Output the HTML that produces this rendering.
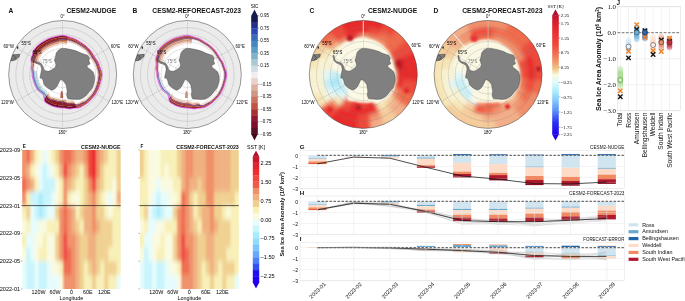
<!DOCTYPE html>
<html><head><meta charset="utf-8"><style>html,body{margin:0;padding:0;background:#fff;width:685px;height:301px;overflow:hidden}svg{display:block;opacity:0.999}</style></head>
<body><svg width="685" height="301" viewBox="0 0 685 301">
<rect width="685" height="301" fill="#fff"/>
<defs>
<clipPath id="clipA"><circle cx="62.65" cy="74.5" r="54.0"/></clipPath>
<clipPath id="clipB"><circle cx="187.3" cy="74.5" r="54.0"/></clipPath>
<clipPath id="clipC"><circle cx="363.3" cy="74.4" r="54.0"/></clipPath>
<clipPath id="clipD"><circle cx="488.1" cy="74.4" r="54.0"/></clipPath>
<filter id="blur1" x="-10%" y="-10%" width="120%" height="120%"><feGaussianBlur stdDeviation="1.2"/></filter>
<filter id="spb" x="-50%" y="-50%" width="200%" height="200%"><feGaussianBlur stdDeviation="1.0"/></filter>
<filter id="blur2" x="-10%" y="-10%" width="120%" height="120%"><feGaussianBlur stdDeviation="2.2"/></filter>
</defs>
<g clip-path="url(#clipA)">
<circle cx="62.65" cy="74.5" r="54.0" fill="#ebebeb"/>
<clipPath id="iceA"><path d="M62.65,35.60 L63.67,35.64 L64.68,35.77 L65.68,35.97 L66.67,36.23 L67.65,36.53 L68.61,36.85 L69.57,37.19 L70.51,37.51 L71.46,37.81 L72.41,38.08 L73.35,38.37 L74.27,38.73 L75.17,39.14 L76.05,39.59 L76.90,40.09 L77.74,40.60 L78.57,41.12 L79.40,41.63 L80.22,42.14 L81.05,42.63 L81.88,43.12 L82.69,43.64 L83.48,44.19 L84.26,44.76 L85.02,45.34 L85.77,45.95 L86.50,46.58 L87.21,47.22 L87.91,47.88 L88.60,48.55 L89.27,49.24 L89.90,49.96 L90.51,50.71 L91.09,51.47 L91.65,52.25 L92.18,53.04 L92.70,53.85 L93.20,54.66 L93.69,55.48 L94.17,56.30 L94.67,57.12 L95.19,57.92 L95.75,58.71 L96.31,59.51 L96.88,60.32 L97.43,61.15 L97.94,62.00 L98.39,62.89 L98.77,63.80 L99.07,64.74 L99.34,65.69 L99.67,66.63 L100.02,67.57 L100.40,68.52 L100.77,69.48 L101.12,70.46 L101.42,71.45 L101.65,72.46 L101.80,73.47 L101.85,74.50 L101.82,75.53 L101.72,76.55 L101.56,77.56 L101.36,78.57 L101.12,79.56 L100.85,80.55 L100.57,81.53 L100.29,82.50 L100.01,83.47 L99.74,84.44 L99.46,85.40 L99.15,86.36 L98.81,87.30 L98.43,88.24 L98.03,89.16 L97.61,90.07 L97.17,90.96 L96.70,91.85 L96.23,92.73 L95.73,93.60 L95.21,94.45 L94.65,95.28 L94.05,96.08 L93.41,96.85 L92.76,97.60 L92.08,98.33 L91.40,99.05 L90.70,99.76 L90.01,100.46 L89.31,101.16 L88.59,101.84 L87.84,102.48 L87.07,103.09 L86.27,103.66 L85.45,104.21 L84.62,104.74 L83.78,105.24 L82.94,105.74 L82.09,106.23 L81.25,106.72 L80.38,107.15 L79.45,107.48 L78.49,107.70 L77.50,107.85 L76.50,107.94 L75.51,108.01 L74.54,108.07 L73.59,108.16 L72.66,108.30 L71.76,108.50 L70.86,108.68 L69.93,108.76 L69.00,108.75 L68.06,108.65 L67.13,108.51 L66.21,108.34 L65.30,108.17 L64.41,108.03 L63.53,107.93 L62.65,107.90 L61.78,107.88 L60.90,107.84 L60.03,107.76 L59.17,107.65 L58.30,107.52 L57.45,107.36 L56.59,107.18 L55.74,106.99 L54.90,106.79 L54.06,106.57 L53.22,106.32 L52.41,106.03 L51.60,105.70 L50.81,105.33 L50.04,104.94 L49.28,104.53 L48.53,104.11 L47.78,103.68 L47.04,103.25 L46.30,102.82 L45.62,102.28 L45.08,101.55 L44.68,100.65 L44.38,99.64 L44.17,98.58 L44.01,97.52 L43.84,96.53 L43.61,95.64 L43.30,94.89 L42.85,94.30 L42.31,93.80 L41.74,93.33 L41.14,92.87 L40.51,92.43 L39.88,91.97 L39.26,91.50 L38.66,90.99 L38.11,90.44 L37.61,89.84 L37.19,89.20 L36.81,88.53 L36.43,87.86 L36.06,87.18 L35.70,86.50 L35.35,85.81 L35.02,85.11 L34.71,84.39 L34.43,83.67 L34.18,82.93 L33.96,82.19 L33.75,81.44 L33.53,80.69 L33.31,79.94 L33.08,79.18 L32.86,78.42 L32.66,77.65 L32.49,76.87 L32.36,76.09 L32.28,75.30 L32.25,74.50 L32.22,73.70 L32.12,72.90 L31.97,72.09 L31.80,71.26 L31.62,70.41 L31.46,69.56 L31.35,68.70 L31.32,67.84 L31.38,66.99 L31.55,66.17 L31.69,65.33 L31.71,64.45 L31.62,63.51 L31.46,62.53 L31.28,61.51 L31.14,60.47 L31.08,59.44 L31.14,58.44 L31.35,57.51 L31.73,56.65 L32.16,55.82 L32.53,54.94 L32.84,54.01 L33.13,53.05 L33.41,52.07 L33.74,51.09 L34.12,50.13 L34.57,49.22 L35.13,48.38 L35.78,47.63 L36.49,46.93 L37.21,46.25 L37.94,45.57 L38.69,44.91 L39.46,44.27 L40.24,43.65 L41.04,43.05 L41.86,42.48 L42.69,41.93 L43.55,41.42 L44.42,40.92 L45.30,40.45 L46.19,39.98 L47.08,39.54 L47.99,39.12 L48.91,38.72 L49.85,38.34 L50.79,38.00 L51.75,37.69 L52.71,37.41 L53.68,37.15 L54.66,36.89 L55.63,36.64 L56.62,36.40 L57.61,36.18 L58.60,35.98 L59.61,35.82 L60.62,35.70 L61.63,35.63 Z"/></clipPath>
<path d="M62.65,35.60 L63.67,35.64 L64.68,35.77 L65.68,35.97 L66.67,36.23 L67.65,36.53 L68.61,36.85 L69.57,37.19 L70.51,37.51 L71.46,37.81 L72.41,38.08 L73.35,38.37 L74.27,38.73 L75.17,39.14 L76.05,39.59 L76.90,40.09 L77.74,40.60 L78.57,41.12 L79.40,41.63 L80.22,42.14 L81.05,42.63 L81.88,43.12 L82.69,43.64 L83.48,44.19 L84.26,44.76 L85.02,45.34 L85.77,45.95 L86.50,46.58 L87.21,47.22 L87.91,47.88 L88.60,48.55 L89.27,49.24 L89.90,49.96 L90.51,50.71 L91.09,51.47 L91.65,52.25 L92.18,53.04 L92.70,53.85 L93.20,54.66 L93.69,55.48 L94.17,56.30 L94.67,57.12 L95.19,57.92 L95.75,58.71 L96.31,59.51 L96.88,60.32 L97.43,61.15 L97.94,62.00 L98.39,62.89 L98.77,63.80 L99.07,64.74 L99.34,65.69 L99.67,66.63 L100.02,67.57 L100.40,68.52 L100.77,69.48 L101.12,70.46 L101.42,71.45 L101.65,72.46 L101.80,73.47 L101.85,74.50 L101.82,75.53 L101.72,76.55 L101.56,77.56 L101.36,78.57 L101.12,79.56 L100.85,80.55 L100.57,81.53 L100.29,82.50 L100.01,83.47 L99.74,84.44 L99.46,85.40 L99.15,86.36 L98.81,87.30 L98.43,88.24 L98.03,89.16 L97.61,90.07 L97.17,90.96 L96.70,91.85 L96.23,92.73 L95.73,93.60 L95.21,94.45 L94.65,95.28 L94.05,96.08 L93.41,96.85 L92.76,97.60 L92.08,98.33 L91.40,99.05 L90.70,99.76 L90.01,100.46 L89.31,101.16 L88.59,101.84 L87.84,102.48 L87.07,103.09 L86.27,103.66 L85.45,104.21 L84.62,104.74 L83.78,105.24 L82.94,105.74 L82.09,106.23 L81.25,106.72 L80.38,107.15 L79.45,107.48 L78.49,107.70 L77.50,107.85 L76.50,107.94 L75.51,108.01 L74.54,108.07 L73.59,108.16 L72.66,108.30 L71.76,108.50 L70.86,108.68 L69.93,108.76 L69.00,108.75 L68.06,108.65 L67.13,108.51 L66.21,108.34 L65.30,108.17 L64.41,108.03 L63.53,107.93 L62.65,107.90 L61.78,107.88 L60.90,107.84 L60.03,107.76 L59.17,107.65 L58.30,107.52 L57.45,107.36 L56.59,107.18 L55.74,106.99 L54.90,106.79 L54.06,106.57 L53.22,106.32 L52.41,106.03 L51.60,105.70 L50.81,105.33 L50.04,104.94 L49.28,104.53 L48.53,104.11 L47.78,103.68 L47.04,103.25 L46.30,102.82 L45.62,102.28 L45.08,101.55 L44.68,100.65 L44.38,99.64 L44.17,98.58 L44.01,97.52 L43.84,96.53 L43.61,95.64 L43.30,94.89 L42.85,94.30 L42.31,93.80 L41.74,93.33 L41.14,92.87 L40.51,92.43 L39.88,91.97 L39.26,91.50 L38.66,90.99 L38.11,90.44 L37.61,89.84 L37.19,89.20 L36.81,88.53 L36.43,87.86 L36.06,87.18 L35.70,86.50 L35.35,85.81 L35.02,85.11 L34.71,84.39 L34.43,83.67 L34.18,82.93 L33.96,82.19 L33.75,81.44 L33.53,80.69 L33.31,79.94 L33.08,79.18 L32.86,78.42 L32.66,77.65 L32.49,76.87 L32.36,76.09 L32.28,75.30 L32.25,74.50 L32.22,73.70 L32.12,72.90 L31.97,72.09 L31.80,71.26 L31.62,70.41 L31.46,69.56 L31.35,68.70 L31.32,67.84 L31.38,66.99 L31.55,66.17 L31.69,65.33 L31.71,64.45 L31.62,63.51 L31.46,62.53 L31.28,61.51 L31.14,60.47 L31.08,59.44 L31.14,58.44 L31.35,57.51 L31.73,56.65 L32.16,55.82 L32.53,54.94 L32.84,54.01 L33.13,53.05 L33.41,52.07 L33.74,51.09 L34.12,50.13 L34.57,49.22 L35.13,48.38 L35.78,47.63 L36.49,46.93 L37.21,46.25 L37.94,45.57 L38.69,44.91 L39.46,44.27 L40.24,43.65 L41.04,43.05 L41.86,42.48 L42.69,41.93 L43.55,41.42 L44.42,40.92 L45.30,40.45 L46.19,39.98 L47.08,39.54 L47.99,39.12 L48.91,38.72 L49.85,38.34 L50.79,38.00 L51.75,37.69 L52.71,37.41 L53.68,37.15 L54.66,36.89 L55.63,36.64 L56.62,36.40 L57.61,36.18 L58.60,35.98 L59.61,35.82 L60.62,35.70 L61.63,35.63 Z" fill="#ffffff"/>
<filter id="bbA" x="-10%" y="-10%" width="120%" height="120%"><feGaussianBlur stdDeviation="0.75"/></filter>
<g clip-path="url(#iceA)"><g filter="url(#bbA)">
<path d="M57.16,34.95 L58.97,34.61 L60.80,34.38 L62.65,34.30 L64.49,34.43 L66.31,34.80 L68.09,35.33 L67.67,38.30 L66.03,37.79 L64.36,37.43 L62.65,37.30 L60.94,37.38 L59.25,37.59 L57.57,37.92 Z" fill="#7a1820"/>
<path d="M57.57,37.92 L59.25,37.59 L60.94,37.38 L62.65,37.30 L64.36,37.43 L66.03,37.79 L67.67,38.30 L67.40,40.28 L65.85,39.78 L64.26,39.43 L62.65,39.30 L61.03,39.37 L59.43,39.59 L57.85,39.90 Z" fill="#98281c"/>
<path d="M57.85,39.90 L59.43,39.59 L61.03,39.37 L62.65,39.30 L64.26,39.43 L65.85,39.78 L67.40,40.28 L67.18,41.86 L65.70,41.37 L64.19,41.02 L62.65,40.90 L61.11,40.97 L59.58,41.18 L58.07,41.49 Z" fill="#c05a30"/>
<path d="M58.07,41.49 L59.58,41.18 L61.11,40.97 L62.65,40.90 L64.19,41.02 L65.70,41.37 L67.18,41.86 L66.96,43.45 L65.56,42.96 L64.12,42.62 L62.65,42.50 L61.18,42.57 L59.73,42.77 L58.29,43.07 Z" fill="#d89070"/>
<path d="M58.29,43.07 L59.73,42.77 L61.18,42.57 L62.65,42.50 L64.12,42.62 L65.56,42.96 L66.96,43.45 L66.74,45.03 L65.41,44.56 L64.04,44.22 L62.65,44.10 L61.26,44.17 L59.87,44.37 L58.51,44.66 Z" fill="#efd0c0"/>
<path d="M67.55,35.15 L69.30,35.74 L71.02,36.32 L72.74,36.83 L74.44,37.40 L76.07,38.15 L77.64,39.02 L76.78,41.05 L75.31,40.21 L73.78,39.49 L72.17,38.95 L70.55,38.47 L68.93,37.90 L67.28,37.34 Z" fill="#9a2a1e"/>
<path d="M67.28,37.34 L68.93,37.90 L70.55,38.47 L72.17,38.95 L73.78,39.49 L75.31,40.21 L76.78,41.05 L76.08,42.71 L74.69,41.90 L73.23,41.21 L71.71,40.69 L70.16,40.23 L68.62,39.68 L67.06,39.12 Z" fill="#b04a2c"/>
<path d="M67.06,39.12 L68.62,39.68 L70.16,40.23 L71.71,40.69 L73.23,41.21 L74.69,41.90 L76.08,42.71 L75.73,43.54 L74.38,42.74 L72.96,42.07 L71.48,41.56 L69.97,41.10 L68.47,40.57 L66.95,40.02 Z" fill="#cc7a58"/>
<path d="M66.95,40.02 L68.47,40.57 L69.97,41.10 L71.48,41.56 L72.96,42.07 L74.38,42.74 L75.73,43.54 L75.38,44.37 L74.06,43.59 L72.69,42.92 L71.24,42.43 L69.78,41.98 L68.32,41.45 L66.83,40.91 Z" fill="#eac2ae"/>
<path d="M77.17,38.75 L78.69,39.67 L80.19,40.60 L81.70,41.50 L83.19,42.42 L84.63,43.41 L86.02,44.48 L84.67,46.21 L83.36,45.21 L82.01,44.27 L80.60,43.41 L79.18,42.56 L77.77,41.67 L76.34,40.79 Z" fill="#9a2a1e"/>
<path d="M76.34,40.79 L77.77,41.67 L79.18,42.56 L80.60,43.41 L82.01,44.27 L83.36,45.21 L84.67,46.21 L83.87,47.24 L82.61,46.27 L81.30,45.37 L79.95,44.54 L78.59,43.71 L77.23,42.85 L75.85,41.99 Z" fill="#b04a2c"/>
<path d="M75.85,41.99 L77.23,42.85 L78.59,43.71 L79.95,44.54 L81.30,45.37 L82.61,46.27 L83.87,47.24 L83.32,47.95 L82.09,47.01 L80.82,46.13 L79.50,45.31 L78.17,44.51 L76.85,43.67 L75.51,42.82 Z" fill="#cc7a58"/>
<path d="M75.51,42.82 L76.85,43.67 L78.17,44.51 L79.50,45.31 L80.82,46.13 L82.09,47.01 L83.32,47.95 L82.77,48.66 L81.57,47.74 L80.33,46.88 L79.05,46.09 L77.76,45.31 L76.48,44.48 L75.17,43.66 Z" fill="#eac2ae"/>
<path d="M85.60,44.15 L86.96,45.26 L88.26,46.42 L89.52,47.63 L90.71,48.91 L91.81,50.26 L92.83,51.68 L91.07,53.00 L90.12,51.67 L89.08,50.39 L87.96,49.19 L86.78,48.04 L85.55,46.95 L84.28,45.90 Z" fill="#9a2a1e"/>
<path d="M84.28,45.90 L85.55,46.95 L86.78,48.04 L87.96,49.19 L89.08,50.39 L90.12,51.67 L91.07,53.00 L90.20,53.67 L89.27,52.37 L88.27,51.13 L87.19,49.96 L86.04,48.86 L84.85,47.79 L83.61,46.78 Z" fill="#b04a2c"/>
<path d="M83.61,46.78 L84.85,47.79 L86.04,48.86 L87.19,49.96 L88.27,51.13 L89.27,52.37 L90.20,53.67 L89.48,54.21 L88.58,52.95 L87.61,51.74 L86.55,50.60 L85.43,49.52 L84.27,48.49 L83.07,47.50 Z" fill="#cc7a58"/>
<path d="M83.07,47.50 L84.27,48.49 L85.43,49.52 L86.55,50.60 L87.61,51.74 L88.58,52.95 L89.48,54.21 L88.76,54.75 L87.89,53.52 L86.94,52.34 L85.91,51.24 L84.83,50.19 L83.70,49.18 L82.53,48.22 Z" fill="#eac2ae"/>
<path d="M92.53,51.24 L93.50,52.69 L94.42,54.16 L95.30,55.65 L96.22,57.13 L97.22,58.58 L98.23,60.05 L96.19,60.88 L95.22,59.50 L94.26,58.14 L93.39,56.75 L92.56,55.34 L91.70,53.96 L90.79,52.59 Z" fill="#9a2a1e"/>
<path d="M90.79,52.59 L91.70,53.96 L92.56,55.34 L93.39,56.75 L94.26,58.14 L95.22,59.50 L96.19,60.88 L95.18,61.29 L94.22,59.96 L93.29,58.64 L92.44,57.30 L91.64,55.94 L90.80,54.59 L89.92,53.27 Z" fill="#b04a2c"/>
<path d="M89.92,53.27 L90.80,54.59 L91.64,55.94 L92.44,57.30 L93.29,58.64 L94.22,59.96 L95.18,61.29 L94.34,61.63 L93.40,60.33 L92.49,59.06 L91.66,57.75 L90.88,56.42 L90.07,55.11 L89.21,53.82 Z" fill="#cc7a58"/>
<path d="M89.21,53.82 L90.07,55.11 L90.88,56.42 L91.66,57.75 L92.49,59.06 L93.40,60.33 L94.34,61.63 L93.51,61.97 L92.58,60.71 L91.69,59.47 L90.88,58.20 L90.12,56.91 L89.33,55.63 L88.50,54.37 Z" fill="#eac2ae"/>
<path d="M97.93,59.60 L98.90,61.11 L99.73,62.72 L100.32,64.41 L100.85,66.12 L101.49,67.84 L102.16,69.58 L99.97,69.85 L99.33,68.21 L98.70,66.59 L98.20,64.98 L97.63,63.38 L96.84,61.88 L95.90,60.45 Z" fill="#9a2a1e"/>
<path d="M95.90,60.45 L96.84,61.88 L97.63,63.38 L98.20,64.98 L98.70,66.59 L99.33,68.21 L99.97,69.85 L98.68,70.01 L98.04,68.43 L97.43,66.87 L96.94,65.31 L96.39,63.78 L95.62,62.33 L94.70,60.96 Z" fill="#b04a2c"/>
<path d="M94.70,60.96 L95.62,62.33 L96.39,63.78 L96.94,65.31 L97.43,66.87 L98.04,68.43 L98.68,70.01 L97.79,70.12 L97.16,68.58 L96.56,67.07 L96.07,65.54 L95.53,64.05 L94.77,62.64 L93.87,61.31 Z" fill="#cc7a58"/>
<path d="M93.87,61.31 L94.77,62.64 L95.53,64.05 L96.07,65.54 L96.56,67.07 L97.16,68.58 L97.79,70.12 L96.90,70.23 L96.27,68.73 L95.68,67.26 L95.20,65.78 L94.67,64.32 L93.93,62.95 L93.05,61.66 Z" fill="#eac2ae"/>
<path d="M101.96,69.05 L102.57,70.82 L103.00,72.64 L103.15,74.50 L103.05,76.36 L102.76,78.20 L102.34,80.01 L100.16,79.70 L100.57,78.00 L100.85,76.26 L100.95,74.50 L100.80,72.75 L100.38,71.02 L99.78,69.35 Z" fill="#9a2a1e"/>
<path d="M99.78,69.35 L100.38,71.02 L100.80,72.75 L100.95,74.50 L100.85,76.26 L100.57,78.00 L100.16,79.70 L98.47,79.47 L98.88,77.84 L99.15,76.18 L99.25,74.50 L99.10,72.82 L98.69,71.18 L98.10,69.58 Z" fill="#b04a2c"/>
<path d="M98.10,69.58 L98.69,71.18 L99.10,72.82 L99.25,74.50 L99.15,76.18 L98.88,77.84 L98.47,79.47 L97.58,79.35 L97.98,77.76 L98.25,76.14 L98.35,74.50 L98.20,72.86 L97.79,71.26 L97.21,69.70 Z" fill="#cc7a58"/>
<path d="M97.21,69.70 L97.79,71.26 L98.20,72.86 L98.35,74.50 L98.25,76.14 L97.98,77.76 L97.58,79.35 L96.69,79.22 L97.08,77.67 L97.35,76.10 L97.45,74.50 L97.30,72.91 L96.89,71.34 L96.31,69.83 Z" fill="#eac2ae"/>
<path d="M102.48,79.46 L102.00,81.25 L101.49,83.02 L101.00,84.78 L100.47,86.52 L99.84,88.23 L99.12,89.91 L97.09,89.05 L97.78,87.47 L98.37,85.86 L98.87,84.21 L99.34,82.54 L99.83,80.88 L100.29,79.19 Z" fill="#9a2a1e"/>
<path d="M100.29,79.19 L99.83,80.88 L99.34,82.54 L98.87,84.21 L98.37,85.86 L97.78,87.47 L97.09,89.05 L95.90,88.54 L96.56,87.02 L97.13,85.46 L97.62,83.87 L98.07,82.27 L98.55,80.66 L99.00,79.03 Z" fill="#b04a2c"/>
<path d="M99.00,79.03 L98.55,80.66 L98.07,82.27 L97.62,83.87 L97.13,85.46 L96.56,87.02 L95.90,88.54 L95.07,88.19 L95.71,86.71 L96.28,85.19 L96.75,83.64 L97.19,82.07 L97.66,80.51 L98.11,78.92 Z" fill="#cc7a58"/>
<path d="M98.11,78.92 L97.66,80.51 L97.19,82.07 L96.75,83.64 L96.28,85.19 L95.71,86.71 L95.07,88.19 L94.24,87.84 L94.87,86.40 L95.42,84.92 L95.88,83.40 L96.31,81.88 L96.77,80.35 L97.22,78.81 Z" fill="#eac2ae"/>
<path d="M99.35,89.40 L98.58,91.05 L97.74,92.66 L96.86,94.25 L95.88,95.78 L94.79,97.23 L93.61,98.60 L91.87,97.25 L92.99,95.96 L94.03,94.59 L94.95,93.15 L95.79,91.65 L96.58,90.13 L97.31,88.57 Z" fill="#9a2a1e"/>
<path d="M97.31,88.57 L96.58,90.13 L95.79,91.65 L94.95,93.15 L94.03,94.59 L92.99,95.96 L91.87,97.25 L91.00,96.57 L92.09,95.32 L93.10,94.00 L94.00,92.60 L94.81,91.15 L95.58,89.67 L96.29,88.16 Z" fill="#b04a2c"/>
<path d="M96.29,88.16 L95.58,89.67 L94.81,91.15 L94.00,92.60 L93.10,94.00 L92.09,95.32 L91.00,96.57 L90.29,96.02 L91.36,94.80 L92.35,93.52 L93.22,92.15 L94.01,90.73 L94.76,89.29 L95.46,87.82 Z" fill="#cc7a58"/>
<path d="M95.46,87.82 L94.76,89.29 L94.01,90.73 L93.22,92.15 L92.35,93.52 L91.36,94.80 L90.29,96.02 L89.58,95.46 L90.62,94.28 L91.59,93.03 L92.44,91.70 L93.21,90.32 L93.94,88.92 L94.62,87.48 Z" fill="#eac2ae"/>
<path d="M93.97,98.19 L92.75,99.52 L91.49,100.81 L90.23,102.08 L88.91,103.29 L87.49,104.39 L86.01,105.39 L84.68,103.64 L86.09,102.69 L87.42,101.66 L88.67,100.52 L89.87,99.32 L91.06,98.11 L92.22,96.86 Z" fill="#9a2a1e"/>
<path d="M92.22,96.86 L91.06,98.11 L89.87,99.32 L88.67,100.52 L87.42,101.66 L86.09,102.69 L84.68,103.64 L84.02,102.76 L85.38,101.85 L86.68,100.85 L87.89,99.74 L89.05,98.58 L90.21,97.41 L91.34,96.20 Z" fill="#b04a2c"/>
<path d="M91.34,96.20 L90.21,97.41 L89.05,98.58 L87.89,99.74 L86.68,100.85 L85.38,101.85 L84.02,102.76 L83.48,102.04 L84.81,101.16 L86.08,100.18 L87.26,99.11 L88.39,97.98 L89.52,96.83 L90.62,95.66 Z" fill="#cc7a58"/>
<path d="M90.62,95.66 L89.52,96.83 L88.39,97.98 L87.26,99.11 L86.08,100.18 L84.81,101.16 L83.48,102.04 L82.94,101.32 L84.23,100.46 L85.47,99.52 L86.62,98.47 L87.72,97.37 L88.83,96.26 L89.90,95.11 Z" fill="#eac2ae"/>
<path d="M86.47,105.09 L84.96,106.05 L83.43,106.95 L81.90,107.84 L80.28,108.56 L78.53,108.97 L76.73,109.17 L75.90,107.13 L77.61,106.97 L79.27,106.61 L80.80,105.94 L82.25,105.10 L83.69,104.25 L85.11,103.36 Z" fill="#9a2a1e"/>
<path d="M85.11,103.36 L83.69,104.25 L82.25,105.10 L80.80,105.94 L79.27,106.61 L77.61,106.97 L75.90,107.13 L75.22,105.46 L76.85,105.34 L78.44,105.01 L79.90,104.38 L81.27,103.59 L82.65,102.78 L84.01,101.94 Z" fill="#b04a2c"/>
<path d="M84.01,101.94 L82.65,102.78 L81.27,103.59 L79.90,104.38 L78.44,105.01 L76.85,105.34 L75.22,105.46 L74.88,104.63 L76.48,104.52 L78.03,104.21 L79.45,103.60 L80.79,102.83 L82.13,102.05 L83.46,101.23 Z" fill="#cc7a58"/>
<path d="M83.46,101.23 L82.13,102.05 L80.79,102.83 L79.45,103.60 L78.03,104.21 L76.48,104.52 L74.88,104.63 L74.54,103.79 L76.10,103.70 L77.61,103.41 L79.00,102.82 L80.30,102.07 L81.61,101.31 L82.90,100.52 Z" fill="#eac2ae"/>
<path d="M77.27,109.12 L75.48,109.26 L73.75,109.43 L72.10,109.76 L70.44,110.02 L68.74,109.99 L67.04,109.75 L66.61,106.28 L68.15,106.54 L69.69,106.60 L71.19,106.38 L72.69,106.09 L74.27,105.97 L75.91,105.90 Z" fill="#6a1020"/>
<path d="M75.91,105.90 L74.27,105.97 L72.69,106.09 L71.19,106.38 L69.69,106.60 L68.15,106.54 L66.61,106.28 L66.30,103.80 L67.72,104.07 L69.15,104.16 L70.54,103.96 L71.93,103.71 L73.41,103.63 L74.94,103.59 Z" fill="#901c1c"/>
<path d="M74.94,103.59 L73.41,103.63 L71.93,103.71 L70.54,103.96 L69.15,104.16 L67.72,104.07 L66.30,103.80 L66.15,102.61 L67.52,102.89 L68.90,102.99 L70.23,102.80 L71.57,102.56 L72.99,102.50 L74.47,102.49 Z" fill="#c05a30"/>
<path d="M74.47,102.49 L72.99,102.50 L71.57,102.56 L70.23,102.80 L68.90,102.99 L67.52,102.89 L66.15,102.61 L65.99,101.32 L67.30,101.61 L68.62,101.72 L69.90,101.55 L71.18,101.33 L72.54,101.28 L73.97,101.29 Z" fill="#e0a888"/>
<path d="M73.97,101.29 L72.54,101.28 L71.18,101.33 L69.90,101.55 L68.62,101.72 L67.30,101.61 L65.99,101.32 L65.85,100.23 L67.11,100.53 L68.38,100.65 L69.61,100.48 L70.84,100.28 L72.16,100.25 L73.54,100.28 Z" fill="#f2dcd0"/>
<path d="M67.55,109.84 L65.88,109.55 L64.25,109.30 L62.65,109.20 L61.06,109.15 L59.47,109.00 L57.90,108.76 L58.38,105.30 L59.79,105.51 L61.22,105.65 L62.65,105.70 L64.09,105.80 L65.56,106.06 L67.07,106.37 Z" fill="#6a1020"/>
<path d="M67.07,106.37 L65.56,106.06 L64.09,105.80 L62.65,105.70 L61.22,105.65 L59.79,105.51 L58.38,105.30 L58.86,101.83 L60.11,102.03 L61.38,102.16 L62.65,102.20 L63.93,102.30 L65.24,102.58 L66.59,102.90 Z" fill="#901c1c"/>
<path d="M66.59,102.90 L65.24,102.58 L63.93,102.30 L62.65,102.20 L61.38,102.16 L60.11,102.03 L58.86,101.83 L59.02,100.64 L60.22,100.83 L61.43,100.96 L62.65,101.00 L63.87,101.11 L65.13,101.38 L66.43,101.71 Z" fill="#c05a30"/>
<path d="M66.43,101.71 L65.13,101.38 L63.87,101.11 L62.65,101.00 L61.43,100.96 L60.22,100.83 L59.02,100.64 L59.20,99.35 L60.34,99.54 L61.49,99.66 L62.65,99.70 L63.81,99.81 L65.01,100.09 L66.25,100.43 Z" fill="#e0a888"/>
<path d="M66.25,100.43 L65.01,100.09 L63.81,99.81 L62.65,99.70 L61.49,99.66 L60.34,99.54 L59.20,99.35 L59.35,98.26 L60.44,98.44 L61.54,98.56 L62.65,98.60 L63.76,98.71 L64.91,98.99 L66.10,99.34 Z" fill="#f2dcd0"/>
<path d="M58.37,108.84 L56.81,108.56 L55.26,108.21 L53.72,107.82 L52.21,107.34 L50.75,106.74 L49.33,106.03 L50.69,102.81 L51.96,103.45 L53.27,104.01 L54.63,104.44 L56.01,104.80 L57.40,105.11 L58.80,105.37 Z" fill="#6a1020"/>
<path d="M58.80,105.37 L57.40,105.11 L56.01,104.80 L54.63,104.44 L53.27,104.01 L51.96,103.45 L50.69,102.81 L52.05,99.58 L53.17,100.17 L54.33,100.67 L55.53,101.06 L56.76,101.38 L57.99,101.66 L59.24,101.90 Z" fill="#901c1c"/>
<path d="M59.24,101.90 L57.99,101.66 L56.76,101.38 L55.53,101.06 L54.33,100.67 L53.17,100.17 L52.05,99.58 L52.52,98.48 L53.59,99.04 L54.69,99.53 L55.84,99.90 L57.01,100.20 L58.19,100.48 L59.39,100.71 Z" fill="#c05a30"/>
<path d="M59.39,100.71 L58.19,100.48 L57.01,100.20 L55.84,99.90 L54.69,99.53 L53.59,99.04 L52.52,98.48 L53.03,97.28 L54.04,97.82 L55.09,98.29 L56.18,98.65 L57.29,98.93 L58.41,99.19 L59.55,99.42 Z" fill="#e0a888"/>
<path d="M59.55,99.42 L58.41,99.19 L57.29,98.93 L56.18,98.65 L55.09,98.29 L54.04,97.82 L53.03,97.28 L53.46,96.27 L54.42,96.79 L55.42,97.24 L56.46,97.59 L57.53,97.86 L58.60,98.11 L59.68,98.32 Z" fill="#f2dcd0"/>
<path d="M49.76,106.25 L48.37,105.51 L47.00,104.73 L45.65,103.94 L44.50,102.84 L43.76,101.21 L43.33,99.32 L45.48,96.56 L45.78,98.35 L46.39,99.89 L47.40,100.91 L48.61,101.62 L49.83,102.33 L51.07,103.01 Z" fill="#6a1020"/>
<path d="M51.07,103.01 L49.83,102.33 L48.61,101.62 L47.40,100.91 L46.39,99.89 L45.78,98.35 L45.48,96.56 L47.01,94.58 L47.23,96.31 L47.74,97.79 L48.65,98.75 L49.76,99.40 L50.88,100.06 L52.01,100.69 Z" fill="#901c1c"/>
<path d="M52.01,100.69 L50.88,100.06 L49.76,99.40 L48.65,98.75 L47.74,97.79 L47.23,96.31 L47.01,94.58 L47.75,93.64 L47.92,95.33 L48.39,96.78 L49.25,97.71 L50.31,98.33 L51.38,98.97 L52.47,99.58 Z" fill="#c05a30"/>
<path d="M52.47,99.58 L51.38,98.97 L50.31,98.33 L49.25,97.71 L48.39,96.78 L47.92,95.33 L47.75,93.64 L48.55,92.61 L48.67,94.27 L49.09,95.68 L49.90,96.58 L50.91,97.18 L51.92,97.79 L52.95,98.38 Z" fill="#e0a888"/>
<path d="M52.95,98.38 L51.92,97.79 L50.91,97.18 L49.90,96.58 L49.09,95.68 L48.67,94.27 L48.55,92.61 L49.23,91.74 L49.31,93.37 L49.68,94.75 L50.45,95.63 L51.42,96.20 L52.38,96.79 L53.37,97.36 Z" fill="#f2dcd0"/>
<path d="M43.44,99.90 L43.10,98.02 L42.67,96.41 L41.93,95.22 L40.93,94.31 L39.82,93.47 L38.68,92.63 L40.83,91.00 L41.90,91.75 L42.92,92.49 L43.84,93.31 L44.49,94.41 L44.82,95.95 L45.07,97.75 Z" fill="#7fb4c8"/>
<path d="M45.07,97.75 L44.82,95.95 L44.49,94.41 L43.84,93.31 L42.92,92.49 L41.90,91.75 L40.83,91.00 L42.26,89.92 L43.28,90.60 L44.25,91.28 L45.11,92.04 L45.70,93.08 L45.97,94.56 L46.15,96.31 Z" fill="#a2cad6"/>
<path d="M46.15,96.31 L45.97,94.56 L45.70,93.08 L45.11,92.04 L44.25,91.28 L43.28,90.60 L42.26,89.92 L43.86,88.71 L44.82,89.32 L45.73,89.93 L46.53,90.62 L47.05,91.60 L47.25,93.03 L47.36,94.72 Z" fill="#cbe0e6"/>
<path d="M39.02,92.89 L37.90,92.00 L36.88,91.00 L36.06,89.85 L35.37,88.62 L34.69,87.38 L34.05,86.11 L36.56,85.10 L37.14,86.25 L37.76,87.38 L38.40,88.50 L39.16,89.54 L40.10,90.44 L41.15,91.23 Z" fill="#7fb4c8"/>
<path d="M41.15,91.23 L40.10,90.44 L39.16,89.54 L38.40,88.50 L37.76,87.38 L37.14,86.25 L36.56,85.10 L38.22,84.42 L38.78,85.50 L39.36,86.55 L39.96,87.60 L40.67,88.57 L41.57,89.41 L42.57,90.13 Z" fill="#a2cad6"/>
<path d="M42.57,90.13 L41.57,89.41 L40.67,88.57 L39.96,87.60 L39.36,86.55 L38.78,85.50 L38.22,84.42 L40.08,83.67 L40.60,84.66 L41.14,85.63 L41.69,86.60 L42.36,87.49 L43.21,88.25 L44.15,88.90 Z" fill="#cbe0e6"/>
<path d="M34.24,86.50 L33.65,85.21 L33.13,83.88 L32.71,82.52 L32.32,81.15 L31.91,79.77 L31.51,78.38 L34.19,78.04 L34.57,79.32 L34.96,80.57 L35.31,81.82 L35.70,83.07 L36.18,84.27 L36.73,85.45 Z" fill="#7fb4c8"/>
<path d="M36.73,85.45 L36.18,84.27 L35.70,83.07 L35.31,81.82 L34.96,80.57 L34.57,79.32 L34.19,78.04 L35.98,77.82 L36.34,79.01 L36.71,80.19 L37.05,81.36 L37.42,82.52 L37.87,83.65 L38.39,84.75 Z" fill="#a2cad6"/>
<path d="M38.39,84.75 L37.87,83.65 L37.42,82.52 L37.05,81.36 L36.71,80.19 L36.34,79.01 L35.98,77.82 L37.96,77.58 L38.31,78.67 L38.67,79.76 L38.98,80.84 L39.32,81.91 L39.74,82.96 L40.23,83.97 Z" fill="#cbe0e6"/>
<path d="M31.63,78.80 L31.28,77.39 L31.04,75.95 L30.95,74.50 L30.85,73.04 L30.59,71.54 L30.28,70.01 L32.96,70.38 L33.28,71.79 L33.55,73.16 L33.65,74.50 L33.73,75.83 L33.96,77.14 L34.30,78.43 Z" fill="#7fb4c8"/>
<path d="M34.30,78.43 L33.96,77.14 L33.73,75.83 L33.65,74.50 L33.55,73.16 L33.28,71.79 L32.96,70.38 L34.74,70.63 L35.07,71.96 L35.35,73.24 L35.45,74.50 L35.53,75.75 L35.76,76.98 L36.08,78.19 Z" fill="#a2cad6"/>
<path d="M36.08,78.19 L35.76,76.98 L35.53,75.75 L35.45,74.50 L35.35,73.24 L35.07,71.96 L34.74,70.63 L36.72,70.90 L37.06,72.14 L37.34,73.34 L37.45,74.50 L37.53,75.66 L37.75,76.80 L38.06,77.91 Z" fill="#cbe0e6"/>
<path d="M30.37,70.48 L30.12,68.92 L30.06,67.35 L30.29,65.83 L30.48,64.27 L30.32,62.56 L30.04,60.73 L32.35,61.70 L32.67,63.43 L32.86,65.03 L32.71,66.48 L32.50,67.89 L32.58,69.34 L32.86,70.79 Z" fill="#c87362"/>
<path d="M32.86,70.79 L32.58,69.34 L32.50,67.89 L32.71,66.48 L32.86,65.03 L32.67,63.43 L32.35,61.70 L33.27,62.09 L33.61,63.78 L33.81,65.33 L33.67,66.74 L33.48,68.10 L33.57,69.51 L33.85,70.91 Z" fill="#dcb0a2"/>
<path d="M33.85,70.91 L33.57,69.51 L33.48,68.10 L33.67,66.74 L33.81,65.33 L33.61,63.78 L33.27,62.09 L34.19,62.48 L34.54,64.12 L34.77,65.64 L34.64,66.99 L34.45,68.32 L34.55,69.68 L34.84,71.04 Z" fill="#ecd6ce"/>
<path d="M30.13,61.29 L29.92,59.42 L30.02,57.61 L30.61,56.00 L31.35,54.46 L31.92,52.77 L32.47,51.01 L34.84,52.85 L34.37,54.50 L33.87,56.07 L33.21,57.50 L32.69,58.99 L32.64,60.68 L32.91,62.42 Z" fill="#7a1820"/>
<path d="M32.91,62.42 L32.64,60.68 L32.69,58.99 L33.21,57.50 L33.87,56.07 L34.37,54.50 L34.84,52.85 L36.02,53.77 L35.60,55.37 L35.14,56.88 L34.50,58.25 L34.02,59.68 L34.00,61.30 L34.29,62.99 Z" fill="#98281c"/>
<path d="M34.29,62.99 L34.00,61.30 L34.02,59.68 L34.50,58.25 L35.14,56.88 L35.60,55.37 L36.02,53.77 L37.28,54.75 L36.91,56.29 L36.48,57.74 L35.89,59.05 L35.44,60.42 L35.46,61.97 L35.78,63.59 Z" fill="#c05a30"/>
<path d="M35.78,63.59 L35.46,61.97 L35.44,60.42 L35.89,59.05 L36.48,57.74 L36.91,56.29 L37.28,54.75 L38.55,55.74 L38.21,57.22 L37.83,58.61 L37.28,59.85 L36.86,61.15 L36.91,62.64 L37.26,64.19 Z" fill="#d89070"/>
<path d="M37.26,64.19 L36.91,62.64 L36.86,61.15 L37.28,59.85 L37.83,58.61 L38.21,57.22 L38.55,55.74 L39.81,56.72 L39.52,58.14 L39.18,59.47 L38.66,60.65 L38.28,61.89 L38.36,63.31 L38.74,64.79 Z" fill="#efd0c0"/>
<path d="M32.30,51.55 L32.91,49.78 L33.74,48.13 L34.86,46.71 L36.16,45.45 L37.49,44.23 L38.88,43.07 L40.69,45.46 L39.41,46.54 L38.18,47.67 L36.98,48.83 L35.96,50.15 L35.22,51.70 L34.69,53.36 Z" fill="#7a1820"/>
<path d="M34.69,53.36 L35.22,51.70 L35.96,50.15 L36.98,48.83 L38.18,47.67 L39.41,46.54 L40.69,45.46 L42.20,47.46 L41.01,48.46 L39.86,49.52 L38.75,50.60 L37.80,51.84 L37.14,53.30 L36.69,54.86 Z" fill="#98281c"/>
<path d="M36.69,54.86 L37.14,53.30 L37.80,51.84 L38.75,50.60 L39.86,49.52 L41.01,48.46 L42.20,47.46 L43.16,48.73 L42.03,49.70 L40.94,50.70 L39.88,51.73 L38.99,52.92 L38.37,54.32 L37.96,55.83 Z" fill="#c05a30"/>
<path d="M37.96,55.83 L38.37,54.32 L38.99,52.92 L39.88,51.73 L40.94,50.70 L42.03,49.70 L43.16,48.73 L44.13,50.01 L43.05,50.93 L42.02,51.88 L41.01,52.86 L40.17,53.99 L39.60,55.34 L39.24,56.79 Z" fill="#d89070"/>
<path d="M39.24,56.79 L39.60,55.34 L40.17,53.99 L41.01,52.86 L42.02,51.88 L43.05,50.93 L44.13,50.01 L45.09,51.28 L44.08,52.16 L43.10,53.06 L42.14,53.99 L41.35,55.07 L40.83,56.37 L40.51,57.76 Z" fill="#efd0c0"/>
<path d="M38.45,43.42 L39.88,42.29 L41.36,41.25 L42.90,40.29 L44.49,39.41 L46.10,38.57 L47.75,37.80 L48.88,40.58 L47.36,41.30 L45.86,42.07 L44.40,42.89 L42.97,43.77 L41.61,44.74 L40.30,45.78 Z" fill="#7a1820"/>
<path d="M40.30,45.78 L41.61,44.74 L42.97,43.77 L44.40,42.89 L45.86,42.07 L47.36,41.30 L48.88,40.58 L49.82,42.90 L48.40,43.57 L47.01,44.29 L45.65,45.06 L44.32,45.88 L43.05,46.78 L41.83,47.76 Z" fill="#98281c"/>
<path d="M41.83,47.76 L43.05,46.78 L44.32,45.88 L45.65,45.06 L47.01,44.29 L48.40,43.57 L49.82,42.90 L50.42,44.38 L49.07,45.02 L47.75,45.71 L46.45,46.44 L45.19,47.23 L43.97,48.09 L42.81,49.02 Z" fill="#c05a30"/>
<path d="M42.81,49.02 L43.97,48.09 L45.19,47.23 L46.45,46.44 L47.75,45.71 L49.07,45.02 L50.42,44.38 L51.02,45.86 L49.74,46.48 L48.48,47.13 L47.25,47.83 L46.05,48.57 L44.90,49.40 L43.80,50.28 Z" fill="#d89070"/>
<path d="M43.80,50.28 L44.90,49.40 L46.05,48.57 L47.25,47.83 L48.48,47.13 L49.74,46.48 L51.02,45.86 L51.62,47.34 L50.41,47.93 L49.22,48.55 L48.05,49.21 L46.91,49.92 L45.82,50.70 L44.78,51.54 Z" fill="#efd0c0"/>
<path d="M47.24,38.03 L48.92,37.31 L50.63,36.68 L52.37,36.15 L54.14,35.68 L55.91,35.24 L57.71,34.84 L58.08,37.81 L56.42,38.19 L54.78,38.62 L53.15,39.05 L51.54,39.54 L49.96,40.12 L48.41,40.79 Z" fill="#7a1820"/>
<path d="M48.41,40.79 L49.96,40.12 L51.54,39.54 L53.15,39.05 L54.78,38.62 L56.42,38.19 L58.08,37.81 L58.39,40.29 L56.84,40.66 L55.32,41.06 L53.80,41.47 L52.29,41.92 L50.82,42.47 L49.38,43.10 Z" fill="#98281c"/>
<path d="M49.38,43.10 L50.82,42.47 L52.29,41.92 L53.80,41.47 L55.32,41.06 L56.84,40.66 L58.39,40.29 L58.59,41.88 L57.12,42.23 L55.66,42.62 L54.21,43.01 L52.78,43.45 L51.38,43.97 L50.01,44.57 Z" fill="#c05a30"/>
<path d="M50.01,44.57 L51.38,43.97 L52.78,43.45 L54.21,43.01 L55.66,42.62 L57.12,42.23 L58.59,41.88 L58.78,43.47 L57.39,43.81 L56.00,44.18 L54.63,44.56 L53.26,44.97 L51.93,45.47 L50.63,46.04 Z" fill="#d89070"/>
<path d="M50.63,46.04 L51.93,45.47 L53.26,44.97 L54.63,44.56 L56.00,44.18 L57.39,43.81 L58.78,43.47 L58.98,45.06 L57.66,45.39 L56.35,45.75 L55.04,46.10 L53.75,46.50 L52.49,46.97 L51.25,47.52 Z" fill="#efd0c0"/>
<path d="M60.25,98.00 L60.75,92.00 L61.85,90.70 L62.85,92.00 L63.25,98.00 Z" fill="#a8382a" opacity="0.8"/>
</g></g>
<circle cx="62.65" cy="74.5" r="46.78" fill="none" stroke="#808080" stroke-width="0.4" stroke-dasharray="1.0,0.5" opacity="0.85"/>
<circle cx="62.65" cy="74.5" r="39.75" fill="none" stroke="#808080" stroke-width="0.4" stroke-dasharray="1.0,0.5" opacity="0.85"/>
<circle cx="62.65" cy="74.5" r="32.89" fill="none" stroke="#808080" stroke-width="0.4" stroke-dasharray="1.0,0.5" opacity="0.85"/>
<circle cx="62.65" cy="74.5" r="26.16" fill="none" stroke="#808080" stroke-width="0.4" stroke-dasharray="1.0,0.5" opacity="0.85"/>
<circle cx="62.65" cy="74.5" r="19.53" fill="none" stroke="#808080" stroke-width="0.4" stroke-dasharray="1.0,0.5" opacity="0.85"/>
<circle cx="62.65" cy="74.5" r="12.98" fill="none" stroke="#808080" stroke-width="0.4" stroke-dasharray="1.0,0.5" opacity="0.85"/>
<circle cx="62.65" cy="74.5" r="6.48" fill="none" stroke="#808080" stroke-width="0.4" stroke-dasharray="1.0,0.5" opacity="0.85"/>
<line x1="62.65" y1="74.5" x2="62.65" y2="20.50" stroke="#808080" stroke-width="0.45" stroke-dasharray="1.3,0.9" opacity="0.85"/>
<line x1="62.65" y1="74.5" x2="109.42" y2="47.50" stroke="#808080" stroke-width="0.45" stroke-dasharray="1.3,0.9" opacity="0.85"/>
<line x1="62.65" y1="74.5" x2="109.42" y2="101.50" stroke="#808080" stroke-width="0.45" stroke-dasharray="1.3,0.9" opacity="0.85"/>
<line x1="62.65" y1="74.5" x2="62.65" y2="128.50" stroke="#808080" stroke-width="0.45" stroke-dasharray="1.3,0.9" opacity="0.85"/>
<line x1="62.65" y1="74.5" x2="15.88" y2="101.50" stroke="#808080" stroke-width="0.45" stroke-dasharray="1.3,0.9" opacity="0.85"/>
<line x1="62.65" y1="74.5" x2="15.88" y2="47.50" stroke="#808080" stroke-width="0.45" stroke-dasharray="1.3,0.9" opacity="0.85"/>
<path d="M56.45,52.70 L58.05,50.60 L61.25,48.50 L65.65,48.50 L67.75,49.00 L70.95,49.50 L75.15,50.60 L78.35,51.70 L81.55,53.30 L84.75,54.30 L87.95,55.40 L89.55,58.10 L88.95,60.70 L90.05,63.90 L86.85,65.50 L87.35,67.60 L90.05,69.20 L93.15,71.90 L94.55,76.40 L94.55,80.60 L93.75,84.10 L92.35,88.10 L90.05,90.70 L87.95,93.40 L85.75,96.00 L83.65,97.60 L80.45,99.20 L76.25,99.50 L71.95,99.20 L67.75,98.70 L66.65,95.50 L67.15,91.20 L66.65,88.10 L66.15,84.90 L64.55,82.70 L62.75,80.30 L60.15,79.50 L58.95,82.50 L57.55,85.30 L56.15,87.50 L54.35,89.30 L51.65,90.20 L47.95,88.30 L45.25,86.10 L43.65,83.80 L43.45,82.10 L42.95,80.60 L42.15,78.60 L39.95,77.90 L40.35,75.60 L40.95,72.70 L41.55,69.70 L40.95,66.10 L38.55,64.10 L35.35,62.90 L33.35,60.70 L32.55,57.90 L32.55,55.30 L33.45,55.50 L34.05,59.30 L35.75,61.50 L38.55,62.30 L41.25,63.50 L43.05,66.40 L43.75,69.30 L45.95,70.90 L48.35,71.30 L50.85,70.60 L53.35,68.70 L55.35,66.90 L55.95,64.50 L55.25,62.30 L54.25,60.30 L55.45,57.30 L56.05,53.70 Z" fill="#808080" stroke="#303030" stroke-width="0.35"/>
<path d="M10.25,60.90 L12.85,54.80 L16.65,54.50 L19.65,54.30 L19.25,56.60 L16.05,59.50 L13.65,60.50 Z" fill="#7c7c7c" stroke="#222" stroke-width="0.45"/>
<path d="M13.15,55.10 L15.85,57.50 L13.85,59.90" fill="none" stroke="#333" stroke-width="0.5"/>
<path d="M62.65,39.30 L63.57,39.32 L64.49,39.37 L65.41,39.45 L66.32,39.56 L67.23,39.70 L68.14,39.86 L69.04,40.05 L69.93,40.25 L70.82,40.46 L71.71,40.69 L72.59,40.95 L73.45,41.25 L74.31,41.59 L75.14,41.95 L75.97,42.35 L76.78,42.77 L77.58,43.20 L78.38,43.64 L79.16,44.08 L79.95,44.54 L80.73,45.00 L81.50,45.47 L82.26,45.97 L83.01,46.48 L83.74,47.01 L84.47,47.56 L85.17,48.13 L85.86,48.72 L86.53,49.33 L87.19,49.96 L87.82,50.62 L88.42,51.30 L88.99,52.00 L89.54,52.73 L90.06,53.47 L90.56,54.22 L91.05,54.98 L91.52,55.75 L91.99,56.52 L92.44,57.30 L92.90,58.07 L93.39,58.84 L93.90,59.59 L94.42,60.35 L94.94,61.13 L95.44,61.91 L95.90,62.73 L96.31,63.56 L96.66,64.43 L96.94,65.31 L97.20,66.21 L97.48,67.10 L97.78,67.99 L98.09,68.89 L98.39,69.79 L98.67,70.71 L98.91,71.65 L99.09,72.59 L99.21,73.54 L99.25,74.50 L99.23,75.46 L99.16,76.41 L99.05,77.37 L98.91,78.31 L98.74,79.25 L98.54,80.18 L98.32,81.11 L98.10,82.03 L97.86,82.95 L97.62,83.87 L97.36,84.78 L97.08,85.69 L96.77,86.58 L96.45,87.47 L96.09,88.35 L95.72,89.22 L95.32,90.08 L94.90,90.93 L94.46,91.77 L94.00,92.60 L93.51,93.41 L92.97,94.19 L92.40,94.95 L91.80,95.68 L91.17,96.38 L90.53,97.08 L89.87,97.75 L89.22,98.42 L88.55,99.08 L87.89,99.74 L87.20,100.37 L86.46,100.95 L85.67,101.46 L84.86,101.92 L84.02,102.35 L83.17,102.75 L82.33,103.14 L81.50,103.53 L80.69,103.94 L79.90,104.38 L79.07,104.73 L78.14,104.90 L77.15,104.90 L76.12,104.75 L75.09,104.53 L74.08,104.26 L73.11,104.03 L72.19,103.87 L71.34,103.84 L70.54,103.96 L69.75,104.09 L68.94,104.07 L68.10,103.92 L67.27,103.67 L66.45,103.35 L65.65,103.01 L64.87,102.69 L64.11,102.43 L63.38,102.26 L62.65,102.20 L61.93,102.19 L61.20,102.14 L60.48,102.07 L59.76,101.98 L59.05,101.86 L58.34,101.73 L57.63,101.58 L56.93,101.42 L56.23,101.24 L55.53,101.06 L54.84,100.88 L54.14,100.70 L53.44,100.52 L52.73,100.33 L52.03,100.14 L51.33,99.92 L50.64,99.68 L49.96,99.41 L49.30,99.10 L48.65,98.75 L48.04,98.34 L47.47,97.87 L46.95,97.34 L46.48,96.76 L46.03,96.16 L45.61,95.55 L45.19,94.95 L44.76,94.37 L44.32,93.82 L43.84,93.31 L43.33,92.84 L42.77,92.40 L42.17,91.99 L41.55,91.59 L40.91,91.18 L40.28,90.75 L39.68,90.29 L39.13,89.78 L38.64,89.21 L38.23,88.60 L37.86,87.96 L37.50,87.32 L37.14,86.67 L36.79,86.01 L36.46,85.35 L36.14,84.68 L35.84,83.99 L35.57,83.30 L35.33,82.59 L35.12,81.88 L34.92,81.16 L34.71,80.44 L34.49,79.72 L34.26,79.00 L34.05,78.27 L33.85,77.53 L33.68,76.78 L33.56,76.02 L33.48,75.26 L33.45,74.50 L33.43,73.73 L33.37,72.97 L33.27,72.19 L33.16,71.40 L33.06,70.60 L32.97,69.80 L32.92,68.99 L32.94,68.18 L33.02,67.39 L33.19,66.61 L33.36,65.82 L33.46,65.02 L33.51,64.18 L33.53,63.32 L33.55,62.45 L33.59,61.56 L33.69,60.69 L33.86,59.83 L34.13,59.02 L34.50,58.25 L34.91,57.50 L35.29,56.73 L35.65,55.94 L35.99,55.13 L36.35,54.32 L36.73,53.51 L37.15,52.72 L37.62,51.97 L38.16,51.26 L38.75,50.60 L39.38,49.98 L40.02,49.37 L40.67,48.77 L41.34,48.18 L42.01,47.61 L42.71,47.05 L43.42,46.51 L44.14,46.00 L44.89,45.51 L45.65,45.06 L46.42,44.62 L47.21,44.19 L47.99,43.77 L48.79,43.38 L49.60,43.00 L50.42,42.64 L51.25,42.30 L52.09,41.99 L52.94,41.71 L53.80,41.47 L54.66,41.22 L55.52,40.95 L56.38,40.67 L57.25,40.38 L58.12,40.10 L59.01,39.84 L59.90,39.61 L60.81,39.44 L61.73,39.34 Z" fill="none" stroke="#3a1f9a" stroke-width="0.6"/>
<path d="M62.65,35.50 L63.67,35.54 L64.69,35.67 L65.69,35.87 L66.68,36.13 L67.66,36.43 L68.63,36.76 L69.58,37.09 L70.53,37.41 L71.48,37.72 L72.43,37.99 L73.38,38.28 L74.30,38.63 L75.21,39.04 L76.08,39.50 L76.94,39.99 L77.79,40.51 L78.62,41.03 L79.44,41.55 L80.27,42.05 L81.10,42.54 L81.93,43.04 L82.74,43.56 L83.54,44.11 L84.32,44.68 L85.08,45.26 L85.83,45.87 L86.56,46.50 L87.28,47.15 L87.98,47.80 L88.67,48.48 L89.34,49.17 L89.98,49.90 L90.59,50.64 L91.17,51.41 L91.73,52.19 L92.26,52.98 L92.78,53.79 L93.29,54.61 L93.78,55.42 L94.26,56.25 L94.75,57.07 L95.28,57.87 L95.84,58.67 L96.40,59.47 L96.97,60.28 L97.52,61.11 L98.03,61.97 L98.48,62.86 L98.86,63.77 L99.16,64.72 L99.44,65.67 L99.76,66.61 L100.12,67.56 L100.50,68.51 L100.87,69.47 L101.22,70.45 L101.52,71.44 L101.75,72.45 L101.90,73.47 L101.95,74.50 L101.92,75.53 L101.82,76.55 L101.66,77.57 L101.46,78.58 L101.22,79.58 L100.95,80.57 L100.67,81.55 L100.38,82.52 L100.11,83.49 L99.84,84.46 L99.56,85.43 L99.25,86.39 L98.90,87.34 L98.53,88.27 L98.13,89.20 L97.70,90.11 L97.26,91.01 L96.79,91.90 L96.31,92.78 L95.82,93.65 L95.30,94.51 L94.73,95.33 L94.13,96.13 L93.50,96.91 L92.84,97.66 L92.16,98.40 L91.47,99.12 L90.78,99.83 L90.08,100.53 L89.38,101.23 L88.66,101.91 L87.91,102.56 L87.13,103.16 L86.33,103.74 L85.51,104.29 L84.68,104.82 L83.84,105.32 L82.99,105.82 L82.15,106.31 L81.30,106.80 L80.42,107.24 L79.50,107.56 L78.53,107.79 L77.54,107.94 L76.54,108.04 L75.55,108.10 L74.57,108.16 L73.62,108.25 L72.69,108.39 L71.79,108.60 L70.88,108.78 L69.95,108.86 L69.02,108.84 L68.07,108.75 L67.14,108.61 L66.22,108.43 L65.31,108.27 L64.41,108.13 L63.53,108.03 L62.65,108.00 L61.77,107.98 L60.90,107.94 L60.02,107.86 L59.16,107.75 L58.29,107.61 L57.43,107.46 L56.57,107.28 L55.72,107.09 L54.88,106.88 L54.03,106.67 L53.20,106.42 L52.37,106.12 L51.57,105.79 L50.78,105.43 L50.00,105.03 L49.24,104.62 L48.48,104.20 L47.74,103.77 L46.99,103.34 L46.25,102.91 L45.57,102.37 L45.03,101.63 L44.62,100.73 L44.33,99.72 L44.11,98.66 L43.94,97.60 L43.77,96.60 L43.55,95.72 L43.23,94.97 L42.78,94.37 L42.24,93.87 L41.67,93.39 L41.06,92.94 L40.44,92.49 L39.80,92.03 L39.18,91.56 L38.58,91.05 L38.02,90.49 L37.53,89.90 L37.10,89.25 L36.72,88.58 L36.34,87.91 L35.97,87.23 L35.61,86.54 L35.26,85.85 L34.93,85.14 L34.62,84.43 L34.34,83.70 L34.08,82.96 L33.87,82.21 L33.66,81.46 L33.44,80.71 L33.21,79.96 L32.98,79.20 L32.76,78.44 L32.56,77.66 L32.39,76.88 L32.26,76.09 L32.18,75.30 L32.15,74.50 L32.12,73.70 L32.02,72.89 L31.87,72.08 L31.70,71.25 L31.52,70.40 L31.36,69.54 L31.26,68.68 L31.22,67.82 L31.29,66.97 L31.45,66.14 L31.60,65.30 L31.61,64.42 L31.52,63.48 L31.37,62.49 L31.19,61.47 L31.05,60.43 L30.99,59.40 L31.05,58.40 L31.26,57.46 L31.65,56.60 L32.08,55.77 L32.44,54.88 L32.76,53.95 L33.04,52.99 L33.34,52.01 L33.66,51.02 L34.04,50.06 L34.50,49.15 L35.05,48.31 L35.71,47.56 L36.42,46.86 L37.14,46.17 L37.88,45.50 L38.63,44.84 L39.40,44.19 L40.18,43.57 L40.98,42.97 L41.80,42.39 L42.64,41.85 L43.50,41.33 L44.37,40.84 L45.25,40.36 L46.14,39.89 L47.04,39.45 L47.95,39.02 L48.88,38.62 L49.81,38.25 L50.76,37.90 L51.72,37.59 L52.69,37.31 L53.66,37.05 L54.64,36.79 L55.62,36.54 L56.60,36.30 L57.59,36.08 L58.59,35.89 L59.60,35.72 L60.61,35.60 L61.63,35.53 Z" fill="none" stroke="#f040f0" stroke-width="0.8"/>
</g>
<circle cx="62.65" cy="74.5" r="54.0" fill="none" stroke="#4a4a4a" stroke-width="0.55"/>
<ellipse cx="17.6" cy="47.6" rx="0.75" ry="1.3" fill="#333"/>
<text x="62.65" y="17.90" font-size="4.9" font-family="Liberation Sans, sans-serif" text-anchor="middle" textLength="4.06" lengthAdjust="spacingAndGlyphs" fill="#000">0°</text>
<text x="62.65" y="134.40" font-size="4.9" font-family="Liberation Sans, sans-serif" text-anchor="middle" textLength="8.79" lengthAdjust="spacingAndGlyphs" fill="#000">180°</text>
<text x="110.85" y="47.50" font-size="4.9" font-family="Liberation Sans, sans-serif" textLength="9.26" lengthAdjust="spacingAndGlyphs" fill="#000">60°E</text>
<text x="111.55" y="104.10" font-size="4.9" font-family="Liberation Sans, sans-serif" textLength="11.63" lengthAdjust="spacingAndGlyphs" fill="#000">120°E</text>
<text x="13.95" y="48.30" font-size="4.9" font-family="Liberation Sans, sans-serif" text-anchor="end" textLength="10.44" lengthAdjust="spacingAndGlyphs" fill="#000">60°W</text>
<text x="13.75" y="104.10" font-size="4.9" font-family="Liberation Sans, sans-serif" text-anchor="end" textLength="12.80" lengthAdjust="spacingAndGlyphs" fill="#000">120°W</text>
<text x="26.25" y="45.00" font-size="4.9" font-family="Liberation Sans, sans-serif" text-anchor="middle" textLength="9.26" lengthAdjust="spacingAndGlyphs" fill="#000">55°S</text>
<text x="37.05" y="54.30" font-size="4.9" font-family="Liberation Sans, sans-serif" text-anchor="middle" textLength="9.26" lengthAdjust="spacingAndGlyphs" fill="#000">65°S</text>
<text x="47.25" y="62.70" font-size="4.9" font-family="Liberation Sans, sans-serif" text-anchor="middle" textLength="9.26" lengthAdjust="spacingAndGlyphs" fill="#777">75°S</text>
<g clip-path="url(#clipB)">
<circle cx="187.3" cy="74.5" r="54.0" fill="#ebebeb"/>
<clipPath id="iceB"><path d="M187.30,35.60 L188.32,35.64 L189.33,35.77 L190.33,35.97 L191.32,36.23 L192.30,36.53 L193.26,36.85 L194.22,37.19 L195.16,37.51 L196.11,37.81 L197.06,38.08 L198.00,38.37 L198.92,38.73 L199.82,39.14 L200.70,39.59 L201.55,40.09 L202.39,40.60 L203.22,41.12 L204.05,41.63 L204.87,42.14 L205.70,42.63 L206.53,43.12 L207.34,43.64 L208.13,44.19 L208.91,44.76 L209.67,45.34 L210.42,45.95 L211.15,46.58 L211.86,47.22 L212.56,47.88 L213.25,48.55 L213.92,49.24 L214.55,49.96 L215.16,50.71 L215.74,51.47 L216.30,52.25 L216.83,53.04 L217.35,53.85 L217.85,54.66 L218.34,55.48 L218.82,56.30 L219.32,57.12 L219.84,57.92 L220.40,58.71 L220.96,59.51 L221.53,60.32 L222.08,61.15 L222.59,62.00 L223.04,62.89 L223.42,63.80 L223.72,64.74 L223.99,65.69 L224.32,66.63 L224.67,67.57 L225.05,68.52 L225.42,69.48 L225.77,70.46 L226.07,71.45 L226.30,72.46 L226.45,73.47 L226.50,74.50 L226.47,75.53 L226.37,76.55 L226.21,77.56 L226.01,78.57 L225.77,79.56 L225.50,80.55 L225.22,81.53 L224.94,82.50 L224.66,83.47 L224.39,84.44 L224.11,85.40 L223.80,86.36 L223.46,87.30 L223.08,88.24 L222.68,89.16 L222.26,90.07 L221.82,90.96 L221.35,91.85 L220.88,92.73 L220.38,93.60 L219.86,94.45 L219.30,95.28 L218.70,96.08 L218.06,96.85 L217.41,97.60 L216.73,98.33 L216.05,99.05 L215.35,99.76 L214.66,100.46 L213.96,101.16 L213.24,101.84 L212.49,102.48 L211.72,103.09 L210.92,103.66 L210.10,104.21 L209.27,104.74 L208.43,105.24 L207.59,105.74 L206.74,106.23 L205.90,106.72 L205.03,107.15 L204.10,107.48 L203.14,107.70 L202.15,107.85 L201.15,107.94 L200.16,108.01 L199.19,108.07 L198.24,108.16 L197.31,108.30 L196.41,108.50 L195.51,108.68 L194.58,108.76 L193.65,108.75 L192.71,108.65 L191.78,108.51 L190.86,108.34 L189.95,108.17 L189.06,108.03 L188.18,107.93 L187.30,107.90 L186.43,107.88 L185.55,107.84 L184.68,107.76 L183.82,107.65 L182.95,107.52 L182.10,107.36 L181.24,107.18 L180.39,106.99 L179.55,106.79 L178.71,106.57 L177.87,106.32 L177.06,106.03 L176.25,105.70 L175.46,105.33 L174.69,104.94 L173.93,104.53 L173.18,104.11 L172.43,103.68 L171.69,103.25 L170.95,102.82 L170.27,102.28 L169.73,101.55 L169.33,100.65 L169.03,99.64 L168.82,98.58 L168.66,97.52 L168.49,96.53 L168.26,95.64 L167.95,94.89 L167.50,94.30 L166.96,93.80 L166.39,93.33 L165.79,92.87 L165.16,92.43 L164.53,91.97 L163.91,91.50 L163.31,90.99 L162.76,90.44 L162.26,89.84 L161.84,89.20 L161.46,88.53 L161.08,87.86 L160.71,87.18 L160.35,86.50 L160.00,85.81 L159.67,85.11 L159.36,84.39 L159.08,83.67 L158.83,82.93 L158.61,82.19 L158.40,81.44 L158.18,80.69 L157.96,79.94 L157.73,79.18 L157.51,78.42 L157.31,77.65 L157.14,76.87 L157.01,76.09 L156.93,75.30 L156.90,74.50 L156.87,73.70 L156.77,72.90 L156.62,72.09 L156.45,71.26 L156.27,70.41 L156.11,69.56 L156.00,68.70 L155.97,67.84 L156.03,66.99 L156.20,66.17 L156.34,65.33 L156.36,64.45 L156.27,63.51 L156.11,62.53 L155.93,61.51 L155.79,60.47 L155.73,59.44 L155.79,58.44 L156.00,57.51 L156.38,56.65 L156.81,55.82 L157.18,54.94 L157.49,54.01 L157.78,53.05 L158.06,52.07 L158.39,51.09 L158.77,50.13 L159.22,49.22 L159.78,48.38 L160.43,47.63 L161.14,46.93 L161.86,46.25 L162.59,45.57 L163.34,44.91 L164.11,44.27 L164.89,43.65 L165.69,43.05 L166.51,42.48 L167.34,41.93 L168.20,41.42 L169.07,40.92 L169.95,40.45 L170.84,39.98 L171.73,39.54 L172.64,39.12 L173.56,38.72 L174.50,38.34 L175.44,38.00 L176.40,37.69 L177.36,37.41 L178.33,37.15 L179.31,36.89 L180.28,36.64 L181.27,36.40 L182.26,36.18 L183.25,35.98 L184.26,35.82 L185.27,35.70 L186.28,35.63 Z"/></clipPath>
<path d="M187.30,35.60 L188.32,35.64 L189.33,35.77 L190.33,35.97 L191.32,36.23 L192.30,36.53 L193.26,36.85 L194.22,37.19 L195.16,37.51 L196.11,37.81 L197.06,38.08 L198.00,38.37 L198.92,38.73 L199.82,39.14 L200.70,39.59 L201.55,40.09 L202.39,40.60 L203.22,41.12 L204.05,41.63 L204.87,42.14 L205.70,42.63 L206.53,43.12 L207.34,43.64 L208.13,44.19 L208.91,44.76 L209.67,45.34 L210.42,45.95 L211.15,46.58 L211.86,47.22 L212.56,47.88 L213.25,48.55 L213.92,49.24 L214.55,49.96 L215.16,50.71 L215.74,51.47 L216.30,52.25 L216.83,53.04 L217.35,53.85 L217.85,54.66 L218.34,55.48 L218.82,56.30 L219.32,57.12 L219.84,57.92 L220.40,58.71 L220.96,59.51 L221.53,60.32 L222.08,61.15 L222.59,62.00 L223.04,62.89 L223.42,63.80 L223.72,64.74 L223.99,65.69 L224.32,66.63 L224.67,67.57 L225.05,68.52 L225.42,69.48 L225.77,70.46 L226.07,71.45 L226.30,72.46 L226.45,73.47 L226.50,74.50 L226.47,75.53 L226.37,76.55 L226.21,77.56 L226.01,78.57 L225.77,79.56 L225.50,80.55 L225.22,81.53 L224.94,82.50 L224.66,83.47 L224.39,84.44 L224.11,85.40 L223.80,86.36 L223.46,87.30 L223.08,88.24 L222.68,89.16 L222.26,90.07 L221.82,90.96 L221.35,91.85 L220.88,92.73 L220.38,93.60 L219.86,94.45 L219.30,95.28 L218.70,96.08 L218.06,96.85 L217.41,97.60 L216.73,98.33 L216.05,99.05 L215.35,99.76 L214.66,100.46 L213.96,101.16 L213.24,101.84 L212.49,102.48 L211.72,103.09 L210.92,103.66 L210.10,104.21 L209.27,104.74 L208.43,105.24 L207.59,105.74 L206.74,106.23 L205.90,106.72 L205.03,107.15 L204.10,107.48 L203.14,107.70 L202.15,107.85 L201.15,107.94 L200.16,108.01 L199.19,108.07 L198.24,108.16 L197.31,108.30 L196.41,108.50 L195.51,108.68 L194.58,108.76 L193.65,108.75 L192.71,108.65 L191.78,108.51 L190.86,108.34 L189.95,108.17 L189.06,108.03 L188.18,107.93 L187.30,107.90 L186.43,107.88 L185.55,107.84 L184.68,107.76 L183.82,107.65 L182.95,107.52 L182.10,107.36 L181.24,107.18 L180.39,106.99 L179.55,106.79 L178.71,106.57 L177.87,106.32 L177.06,106.03 L176.25,105.70 L175.46,105.33 L174.69,104.94 L173.93,104.53 L173.18,104.11 L172.43,103.68 L171.69,103.25 L170.95,102.82 L170.27,102.28 L169.73,101.55 L169.33,100.65 L169.03,99.64 L168.82,98.58 L168.66,97.52 L168.49,96.53 L168.26,95.64 L167.95,94.89 L167.50,94.30 L166.96,93.80 L166.39,93.33 L165.79,92.87 L165.16,92.43 L164.53,91.97 L163.91,91.50 L163.31,90.99 L162.76,90.44 L162.26,89.84 L161.84,89.20 L161.46,88.53 L161.08,87.86 L160.71,87.18 L160.35,86.50 L160.00,85.81 L159.67,85.11 L159.36,84.39 L159.08,83.67 L158.83,82.93 L158.61,82.19 L158.40,81.44 L158.18,80.69 L157.96,79.94 L157.73,79.18 L157.51,78.42 L157.31,77.65 L157.14,76.87 L157.01,76.09 L156.93,75.30 L156.90,74.50 L156.87,73.70 L156.77,72.90 L156.62,72.09 L156.45,71.26 L156.27,70.41 L156.11,69.56 L156.00,68.70 L155.97,67.84 L156.03,66.99 L156.20,66.17 L156.34,65.33 L156.36,64.45 L156.27,63.51 L156.11,62.53 L155.93,61.51 L155.79,60.47 L155.73,59.44 L155.79,58.44 L156.00,57.51 L156.38,56.65 L156.81,55.82 L157.18,54.94 L157.49,54.01 L157.78,53.05 L158.06,52.07 L158.39,51.09 L158.77,50.13 L159.22,49.22 L159.78,48.38 L160.43,47.63 L161.14,46.93 L161.86,46.25 L162.59,45.57 L163.34,44.91 L164.11,44.27 L164.89,43.65 L165.69,43.05 L166.51,42.48 L167.34,41.93 L168.20,41.42 L169.07,40.92 L169.95,40.45 L170.84,39.98 L171.73,39.54 L172.64,39.12 L173.56,38.72 L174.50,38.34 L175.44,38.00 L176.40,37.69 L177.36,37.41 L178.33,37.15 L179.31,36.89 L180.28,36.64 L181.27,36.40 L182.26,36.18 L183.25,35.98 L184.26,35.82 L185.27,35.70 L186.28,35.63 Z" fill="#ffffff"/>
<filter id="bbB" x="-10%" y="-10%" width="120%" height="120%"><feGaussianBlur stdDeviation="0.75"/></filter>
<g clip-path="url(#iceB)"><g filter="url(#bbB)">
<path d="M181.81,34.95 L183.62,34.61 L185.45,34.38 L187.30,34.30 L189.14,34.43 L190.96,34.80 L192.74,35.33 L192.23,38.99 L190.62,38.48 L188.97,38.13 L187.30,38.00 L185.62,38.08 L183.96,38.29 L182.32,38.61 Z" fill="#b05844"/>
<path d="M182.32,38.61 L183.96,38.29 L185.62,38.08 L187.30,38.00 L188.97,38.13 L190.62,38.48 L192.23,38.99 L192.02,40.48 L190.48,39.98 L188.90,39.63 L187.30,39.50 L185.69,39.57 L184.10,39.78 L182.53,40.10 Z" fill="#c87a5c"/>
<path d="M182.53,40.10 L184.10,39.78 L185.69,39.57 L187.30,39.50 L188.90,39.63 L190.48,39.98 L192.02,40.48 L191.82,41.96 L190.34,41.47 L188.84,41.12 L187.30,41.00 L185.76,41.07 L184.24,41.28 L182.73,41.59 Z" fill="#d89a80"/>
<path d="M182.73,41.59 L184.24,41.28 L185.76,41.07 L187.30,41.00 L188.84,41.12 L190.34,41.47 L191.82,41.96 L191.61,43.45 L190.21,42.96 L188.77,42.62 L187.30,42.50 L185.83,42.57 L184.38,42.77 L182.94,43.07 Z" fill="#eac4b4"/>
<path d="M182.94,43.07 L184.38,42.77 L185.83,42.57 L187.30,42.50 L188.77,42.62 L190.21,42.96 L191.61,43.45 L191.40,44.93 L190.07,44.46 L188.70,44.12 L187.30,44.00 L185.90,44.07 L184.51,44.27 L183.15,44.56 Z" fill="#f6e4dc"/>
<path d="M192.20,35.15 L193.95,35.74 L195.67,36.32 L197.39,36.83 L199.09,37.40 L200.72,38.15 L202.29,39.02 L201.20,41.60 L199.75,40.77 L198.25,40.06 L196.67,39.53 L195.07,39.05 L193.48,38.50 L191.85,37.93 Z" fill="#b4563e"/>
<path d="M191.85,37.93 L193.48,38.50 L195.07,39.05 L196.67,39.53 L198.25,40.06 L199.75,40.77 L201.20,41.60 L200.89,42.34 L199.48,41.52 L198.00,40.83 L196.46,40.31 L194.90,39.83 L193.34,39.28 L191.76,38.73 Z" fill="#d09078"/>
<path d="M191.76,38.73 L193.34,39.28 L194.90,39.83 L196.46,40.31 L198.00,40.83 L199.48,41.52 L200.89,42.34 L200.57,43.08 L199.20,42.27 L197.76,41.59 L196.26,41.08 L194.73,40.62 L193.21,40.07 L191.66,39.52 Z" fill="#eed0c4"/>
<path d="M201.82,38.75 L203.34,39.67 L204.84,40.60 L206.35,41.50 L207.84,42.42 L209.28,43.41 L210.67,44.48 L209.01,46.61 L207.72,45.62 L206.39,44.69 L205.00,43.84 L203.60,43.00 L202.21,42.12 L200.80,41.25 Z" fill="#b4563e"/>
<path d="M200.80,41.25 L202.21,42.12 L203.60,43.00 L205.00,43.84 L206.39,44.69 L207.72,45.62 L209.01,46.61 L208.52,47.24 L207.26,46.27 L205.95,45.37 L204.60,44.54 L203.24,43.71 L201.88,42.85 L200.50,41.99 Z" fill="#d09078"/>
<path d="M200.50,41.99 L201.88,42.85 L203.24,43.71 L204.60,44.54 L205.95,45.37 L207.26,46.27 L208.52,47.24 L208.03,47.87 L206.80,46.93 L205.52,46.04 L204.20,45.23 L202.87,44.42 L201.55,43.58 L200.20,42.73 Z" fill="#eed0c4"/>
<path d="M210.25,44.15 L211.61,45.26 L212.91,46.42 L214.17,47.63 L215.36,48.91 L216.46,50.26 L217.48,51.68 L215.40,53.24 L214.46,51.92 L213.44,50.66 L212.33,49.47 L211.16,48.34 L209.95,47.26 L208.69,46.22 Z" fill="#b4563e"/>
<path d="M208.69,46.22 L209.95,47.26 L211.16,48.34 L212.33,49.47 L213.44,50.66 L214.46,51.92 L215.40,53.24 L214.77,53.73 L213.85,52.44 L212.85,51.20 L211.77,50.03 L210.62,48.93 L209.43,47.87 L208.20,46.86 Z" fill="#d09078"/>
<path d="M208.20,46.86 L209.43,47.87 L210.62,48.93 L211.77,50.03 L212.85,51.20 L213.85,52.44 L214.77,53.73 L214.13,54.21 L213.23,52.95 L212.26,51.74 L211.20,50.60 L210.08,49.52 L208.92,48.49 L207.72,47.50 Z" fill="#eed0c4"/>
<path d="M217.18,51.24 L218.15,52.69 L219.07,54.16 L219.95,55.65 L220.87,57.13 L221.87,58.58 L222.88,60.05 L220.47,61.03 L219.50,59.66 L218.56,58.32 L217.70,56.95 L216.88,55.56 L216.03,54.19 L215.13,52.84 Z" fill="#b4563e"/>
<path d="M215.13,52.84 L216.03,54.19 L216.88,55.56 L217.70,56.95 L218.56,58.32 L219.50,59.66 L220.47,61.03 L219.73,61.33 L218.78,60.00 L217.85,58.69 L217.00,57.35 L216.20,55.99 L215.37,54.65 L214.49,53.33 Z" fill="#d09078"/>
<path d="M214.49,53.33 L215.37,54.65 L216.20,55.99 L217.00,57.35 L217.85,58.69 L218.78,60.00 L219.73,61.33 L218.99,61.63 L218.05,60.33 L217.14,59.06 L216.31,57.75 L215.53,56.42 L214.72,55.11 L213.86,53.82 Z" fill="#eed0c4"/>
<path d="M222.58,59.60 L223.55,61.11 L224.38,62.72 L224.97,64.41 L225.50,66.12 L226.14,67.84 L226.81,69.58 L224.23,69.90 L223.58,68.28 L222.96,66.68 L222.46,65.08 L221.90,63.50 L221.11,62.02 L220.18,60.61 Z" fill="#b4563e"/>
<path d="M220.18,60.61 L221.11,62.02 L221.90,63.50 L222.46,65.08 L222.96,66.68 L223.58,68.28 L224.23,69.90 L223.43,70.00 L222.79,68.41 L222.18,66.85 L221.69,65.29 L221.14,63.75 L220.36,62.29 L219.45,60.92 Z" fill="#d09078"/>
<path d="M219.45,60.92 L220.36,62.29 L221.14,63.75 L221.69,65.29 L222.18,66.85 L222.79,68.41 L223.43,70.00 L222.64,70.10 L222.00,68.55 L221.40,67.02 L220.91,65.49 L220.37,63.99 L219.61,62.57 L218.71,61.23 Z" fill="#eed0c4"/>
<path d="M226.61,69.05 L227.22,70.82 L227.65,72.64 L227.80,74.50 L227.70,76.36 L227.41,78.20 L226.99,80.01 L224.21,79.62 L224.62,77.94 L224.90,76.23 L225.00,74.50 L224.85,72.77 L224.43,71.08 L223.84,69.43 Z" fill="#b4563e"/>
<path d="M223.84,69.43 L224.43,71.08 L224.85,72.77 L225.00,74.50 L224.90,76.23 L224.62,77.94 L224.21,79.62 L223.42,79.51 L223.83,77.87 L224.10,76.19 L224.20,74.50 L224.05,72.81 L223.63,71.15 L223.04,69.54 Z" fill="#d09078"/>
<path d="M223.04,69.54 L223.63,71.15 L224.05,72.81 L224.20,74.50 L224.10,76.19 L223.83,77.87 L223.42,79.51 L222.63,79.40 L223.03,77.79 L223.30,76.16 L223.40,74.50 L223.25,72.85 L222.84,71.22 L222.25,69.65 Z" fill="#eed0c4"/>
<path d="M227.13,79.46 L226.65,81.25 L226.14,83.02 L225.65,84.78 L225.12,86.52 L224.49,88.23 L223.77,89.91 L221.38,88.89 L222.05,87.33 L222.64,85.73 L223.14,84.10 L223.60,82.46 L224.08,80.81 L224.55,79.14 Z" fill="#b4563e"/>
<path d="M224.55,79.14 L224.08,80.81 L223.60,82.46 L223.14,84.10 L222.64,85.73 L222.05,87.33 L221.38,88.89 L220.64,88.58 L221.30,87.05 L221.88,85.49 L222.36,83.90 L222.82,82.29 L223.29,80.67 L223.75,79.04 Z" fill="#d09078"/>
<path d="M223.75,79.04 L223.29,80.67 L222.82,82.29 L222.36,83.90 L221.88,85.49 L221.30,87.05 L220.64,88.58 L219.90,88.27 L220.55,86.78 L221.12,85.25 L221.59,83.69 L222.03,82.12 L222.51,80.54 L222.96,78.94 Z" fill="#eed0c4"/>
<path d="M224.00,89.40 L223.23,91.05 L222.39,92.66 L221.51,94.25 L220.53,95.78 L219.44,97.23 L218.26,98.60 L216.20,97.00 L217.32,95.73 L218.34,94.38 L219.26,92.95 L220.08,91.47 L220.86,89.96 L221.59,88.42 Z" fill="#b4563e"/>
<path d="M221.59,88.42 L220.86,89.96 L220.08,91.47 L219.26,92.95 L218.34,94.38 L217.32,95.73 L216.20,97.00 L215.57,96.51 L216.66,95.26 L217.67,93.95 L218.56,92.55 L219.37,91.10 L220.14,89.63 L220.85,88.12 Z" fill="#d09078"/>
<path d="M220.85,88.12 L220.14,89.63 L219.37,91.10 L218.56,92.55 L217.67,93.95 L216.66,95.26 L215.57,96.51 L214.94,96.02 L216.01,94.80 L217.00,93.52 L217.87,92.15 L218.66,90.73 L219.41,89.29 L220.11,87.82 Z" fill="#eed0c4"/>
<path d="M218.62,98.19 L217.40,99.52 L216.14,100.81 L214.88,102.08 L213.56,103.29 L212.14,104.39 L210.66,105.39 L208.97,103.16 L210.35,102.23 L211.67,101.22 L212.90,100.10 L214.07,98.92 L215.24,97.73 L216.39,96.50 Z" fill="#b4563e"/>
<path d="M216.39,96.50 L215.24,97.73 L214.07,98.92 L212.90,100.10 L211.67,101.22 L210.35,102.23 L208.97,103.16 L208.49,102.52 L209.84,101.62 L211.13,100.63 L212.33,99.53 L213.48,98.38 L214.63,97.22 L215.75,96.02 Z" fill="#d09078"/>
<path d="M215.75,96.02 L214.63,97.22 L213.48,98.38 L212.33,99.53 L211.13,100.63 L209.84,101.62 L208.49,102.52 L208.01,101.88 L209.33,101.00 L210.59,100.04 L211.77,98.97 L212.89,97.84 L214.01,96.70 L215.11,95.53 Z" fill="#eed0c4"/>
<path d="M211.12,105.09 L209.61,106.05 L208.08,106.95 L206.55,107.84 L204.93,108.56 L203.18,108.97 L201.38,109.17 L200.14,106.11 L201.80,105.97 L203.41,105.63 L204.90,104.98 L206.30,104.17 L207.70,103.35 L209.09,102.49 Z" fill="#b4563e"/>
<path d="M209.09,102.49 L207.70,103.35 L206.30,104.17 L204.90,104.98 L203.41,105.63 L201.80,105.97 L200.14,106.11 L199.83,105.37 L201.46,105.25 L203.04,104.92 L204.50,104.29 L205.87,103.50 L207.24,102.70 L208.60,101.86 Z" fill="#d09078"/>
<path d="M208.60,101.86 L207.24,102.70 L205.87,103.50 L204.50,104.29 L203.04,104.92 L201.46,105.25 L199.83,105.37 L199.53,104.63 L201.13,104.52 L202.68,104.21 L204.10,103.60 L205.44,102.83 L206.78,102.05 L208.11,101.23 Z" fill="#eed0c4"/>
<path d="M201.92,109.12 L200.13,109.26 L198.40,109.43 L196.75,109.76 L195.09,110.02 L193.39,109.99 L191.69,109.75 L191.32,106.78 L192.88,107.03 L194.45,107.09 L195.97,106.86 L197.49,106.57 L199.09,106.44 L200.76,106.36 Z" fill="#982a26"/>
<path d="M200.76,106.36 L199.09,106.44 L197.49,106.57 L195.97,106.86 L194.45,107.09 L192.88,107.03 L191.32,106.78 L191.13,105.29 L192.63,105.55 L194.12,105.63 L195.58,105.41 L197.04,105.14 L198.57,105.03 L200.17,104.98 Z" fill="#b24a38"/>
<path d="M200.17,104.98 L198.57,105.03 L197.04,105.14 L195.58,105.41 L194.12,105.63 L192.63,105.55 L191.13,105.29 L190.99,104.10 L192.42,104.37 L193.87,104.45 L195.27,104.25 L196.67,103.99 L198.16,103.91 L199.71,103.87 Z" fill="#c87458"/>
<path d="M199.71,103.87 L198.16,103.91 L196.67,103.99 L195.27,104.25 L193.87,104.45 L192.42,104.37 L190.99,104.10 L190.84,102.91 L192.22,103.19 L193.61,103.28 L194.96,103.09 L196.31,102.85 L197.74,102.78 L199.24,102.77 Z" fill="#e2b09a"/>
<path d="M199.24,102.77 L197.74,102.78 L196.31,102.85 L194.96,103.09 L193.61,103.28 L192.22,103.19 L190.84,102.91 L190.70,101.81 L192.03,102.10 L193.38,102.21 L194.68,102.03 L195.98,101.80 L197.36,101.75 L198.81,101.75 Z" fill="#f2dcd2"/>
<path d="M192.20,109.84 L190.53,109.55 L188.90,109.30 L187.30,109.20 L185.71,109.15 L184.12,109.00 L182.55,108.76 L182.96,105.79 L184.40,106.01 L185.84,106.15 L187.30,106.20 L188.76,106.30 L190.26,106.56 L191.79,106.87 Z" fill="#982a26"/>
<path d="M191.79,106.87 L190.26,106.56 L188.76,106.30 L187.30,106.20 L185.84,106.15 L184.40,106.01 L182.96,105.79 L183.23,103.81 L184.58,104.02 L185.94,104.15 L187.30,104.20 L188.67,104.30 L190.07,104.57 L191.52,104.88 Z" fill="#b24a38"/>
<path d="M191.52,104.88 L190.07,104.57 L188.67,104.30 L187.30,104.20 L185.94,104.15 L184.58,104.02 L183.23,103.81 L183.40,102.62 L184.69,102.83 L185.99,102.96 L187.30,103.00 L188.62,103.10 L189.96,103.37 L191.35,103.70 Z" fill="#c87458"/>
<path d="M191.35,103.70 L189.96,103.37 L188.62,103.10 L187.30,103.00 L185.99,102.96 L184.69,102.83 L183.40,102.62 L183.56,101.43 L184.80,101.63 L186.05,101.76 L187.30,101.80 L188.56,101.90 L189.85,102.18 L191.19,102.51 Z" fill="#e2b09a"/>
<path d="M191.19,102.51 L189.85,102.18 L188.56,101.90 L187.30,101.80 L186.05,101.76 L184.80,101.63 L183.56,101.43 L183.71,100.34 L184.90,100.53 L186.10,100.66 L187.30,100.70 L188.51,100.81 L189.75,101.08 L191.04,101.42 Z" fill="#f2dcd2"/>
<path d="M183.02,108.84 L181.46,108.56 L179.91,108.21 L178.37,107.82 L176.86,107.34 L175.40,106.74 L173.98,106.03 L175.15,103.27 L176.44,103.92 L177.77,104.48 L179.15,104.93 L180.55,105.28 L181.97,105.60 L183.39,105.87 Z" fill="#982a26"/>
<path d="M183.39,105.87 L181.97,105.60 L180.55,105.28 L179.15,104.93 L177.77,104.48 L176.44,103.92 L175.15,103.27 L175.93,101.43 L177.13,102.04 L178.37,102.58 L179.66,102.99 L180.98,103.33 L182.30,103.63 L183.64,103.88 Z" fill="#b24a38"/>
<path d="M183.64,103.88 L182.30,103.63 L180.98,103.33 L179.66,102.99 L178.37,102.58 L177.13,102.04 L175.93,101.43 L176.39,100.32 L177.54,100.92 L178.74,101.43 L179.98,101.84 L181.24,102.16 L182.51,102.45 L183.79,102.69 Z" fill="#c87458"/>
<path d="M183.79,102.69 L182.51,102.45 L181.24,102.16 L179.98,101.84 L178.74,101.43 L177.54,100.92 L176.39,100.32 L176.86,99.21 L177.96,99.79 L179.10,100.29 L180.29,100.68 L181.49,100.99 L182.71,101.26 L183.94,101.50 Z" fill="#e2b09a"/>
<path d="M183.94,101.50 L182.71,101.26 L181.49,100.99 L180.29,100.68 L179.10,100.29 L177.96,99.79 L176.86,99.21 L177.29,98.20 L178.34,98.76 L179.44,99.24 L180.57,99.61 L181.73,99.91 L182.90,100.18 L184.07,100.41 Z" fill="#f2dcd2"/>
<path d="M174.41,106.25 L173.02,105.51 L171.65,104.73 L170.30,103.94 L169.15,102.84 L168.41,101.21 L167.98,99.32 L169.82,96.95 L170.15,98.76 L170.77,100.31 L171.80,101.35 L173.03,102.06 L174.27,102.78 L175.54,103.47 Z" fill="#982a26"/>
<path d="M175.54,103.47 L174.27,102.78 L173.03,102.06 L171.80,101.35 L170.77,100.31 L170.15,98.76 L169.82,96.95 L170.74,95.77 L171.01,97.53 L171.58,99.05 L172.55,100.05 L173.72,100.73 L174.90,101.42 L176.10,102.08 Z" fill="#b24a38"/>
<path d="M176.10,102.08 L174.90,101.42 L173.72,100.73 L172.55,100.05 L171.58,99.05 L171.01,97.53 L170.74,95.77 L171.48,94.82 L171.71,96.55 L172.23,98.04 L173.15,99.01 L174.27,99.67 L175.40,100.33 L176.55,100.97 Z" fill="#c87458"/>
<path d="M176.55,100.97 L175.40,100.33 L174.27,99.67 L173.15,99.01 L172.23,98.04 L171.71,96.55 L171.48,94.82 L172.22,93.87 L172.40,95.57 L172.87,97.03 L173.75,97.97 L174.83,98.60 L175.90,99.24 L177.00,99.86 Z" fill="#e2b09a"/>
<path d="M177.00,99.86 L175.90,99.24 L174.83,98.60 L173.75,97.97 L172.87,97.03 L172.40,95.57 L172.22,93.87 L172.89,93.01 L173.03,94.67 L173.47,96.10 L174.30,97.02 L175.33,97.62 L176.36,98.24 L177.42,98.84 Z" fill="#f2dcd2"/>
<path d="M168.09,99.90 L167.75,98.02 L167.32,96.41 L166.58,95.22 L165.58,94.31 L164.47,93.47 L163.33,92.63 L165.72,90.82 L166.78,91.56 L167.79,92.29 L168.70,93.10 L169.34,94.19 L169.66,95.72 L169.90,97.51 Z" fill="#a9c9d4"/>
<path d="M169.90,97.51 L169.66,95.72 L169.34,94.19 L168.70,93.10 L167.79,92.29 L166.78,91.56 L165.72,90.82 L166.91,89.92 L167.93,90.60 L168.90,91.28 L169.76,92.04 L170.35,93.08 L170.62,94.56 L170.80,96.31 Z" fill="#d0dde2"/>
<path d="M163.67,92.89 L162.55,92.00 L161.53,91.00 L160.71,89.85 L160.02,88.62 L159.34,87.38 L158.70,86.11 L161.48,84.98 L162.07,86.12 L162.68,87.24 L163.31,88.35 L164.06,89.38 L165.00,90.27 L166.04,91.05 Z" fill="#a9c9d4"/>
<path d="M166.04,91.05 L165.00,90.27 L164.06,89.38 L163.31,88.35 L162.68,87.24 L162.07,86.12 L161.48,84.98 L162.87,84.42 L163.43,85.50 L164.01,86.55 L164.61,87.60 L165.32,88.57 L166.22,89.41 L167.22,90.13 Z" fill="#d0dde2"/>
<path d="M158.89,86.50 L158.30,85.21 L157.78,83.88 L157.36,82.52 L156.97,81.15 L156.56,79.77 L156.16,78.38 L159.14,78.01 L159.51,79.27 L159.90,80.51 L160.25,81.75 L160.64,82.98 L161.11,84.17 L161.66,85.33 Z" fill="#a9c9d4"/>
<path d="M161.66,85.33 L161.11,84.17 L160.64,82.98 L160.25,81.75 L159.90,80.51 L159.51,79.27 L159.14,78.01 L160.63,77.82 L160.99,79.01 L161.36,80.19 L161.70,81.36 L162.07,82.52 L162.52,83.65 L163.04,84.75 Z" fill="#d0dde2"/>
<path d="M156.28,78.80 L155.93,77.39 L155.69,75.95 L155.60,74.50 L155.50,73.04 L155.24,71.54 L154.93,70.01 L157.21,70.33 L157.53,71.76 L157.80,73.14 L157.90,74.50 L157.98,75.85 L158.22,77.18 L158.55,78.49 Z" fill="#c87362"/>
<path d="M158.55,78.49 L158.22,77.18 L157.98,75.85 L157.90,74.50 L157.80,73.14 L157.53,71.76 L157.21,70.33 L158.20,70.46 L158.53,71.85 L158.80,73.19 L158.90,74.50 L158.98,75.80 L159.21,77.09 L159.55,78.35 Z" fill="#dcb0a2"/>
<path d="M159.55,78.35 L159.21,77.09 L158.98,75.80 L158.90,74.50 L158.80,73.19 L158.53,71.85 L158.20,70.46 L159.19,70.60 L159.52,71.94 L159.80,73.23 L159.90,74.50 L159.98,75.76 L160.21,77.00 L160.54,78.21 Z" fill="#ecd6ce"/>
<path d="M155.02,70.48 L154.77,68.92 L154.71,67.35 L154.94,65.83 L155.13,64.27 L154.97,62.56 L154.69,60.73 L156.81,61.62 L157.13,63.36 L157.32,64.97 L157.16,66.42 L156.95,67.85 L157.04,69.31 L157.31,70.76 Z" fill="#c87362"/>
<path d="M157.31,70.76 L157.04,69.31 L156.95,67.85 L157.16,66.42 L157.32,64.97 L157.13,63.36 L156.81,61.62 L157.73,62.01 L158.07,63.71 L158.27,65.27 L158.13,66.68 L157.93,68.06 L158.02,69.48 L158.30,70.89 Z" fill="#dcb0a2"/>
<path d="M158.30,70.89 L158.02,69.48 L157.93,68.06 L158.13,66.68 L158.27,65.27 L158.07,63.71 L157.73,62.01 L158.65,62.40 L159.01,64.05 L159.22,65.58 L159.09,66.94 L158.91,68.27 L159.01,69.65 L159.29,71.01 Z" fill="#ecd6ce"/>
<path d="M154.78,61.29 L154.57,59.42 L154.67,57.61 L155.26,56.00 L156.00,54.46 L156.57,52.77 L157.12,51.01 L159.88,53.16 L159.43,54.79 L158.94,56.34 L158.29,57.75 L157.78,59.22 L157.75,60.89 L158.02,62.61 Z" fill="#b05844"/>
<path d="M158.02,62.61 L157.75,60.89 L157.78,59.22 L158.29,57.75 L158.94,56.34 L159.43,54.79 L159.88,53.16 L161.07,54.08 L160.66,55.66 L160.21,57.15 L159.59,58.50 L159.11,59.91 L159.11,61.51 L159.41,63.17 Z" fill="#c87a5c"/>
<path d="M159.41,63.17 L159.11,61.51 L159.11,59.91 L159.59,58.50 L160.21,57.15 L160.66,55.66 L161.07,54.08 L162.25,55.00 L161.88,56.53 L161.47,57.96 L160.89,59.25 L160.44,60.60 L160.47,62.14 L160.80,63.74 Z" fill="#d89a80"/>
<path d="M160.80,63.74 L160.47,62.14 L160.44,60.60 L160.89,59.25 L161.47,57.96 L161.88,56.53 L162.25,55.00 L163.43,55.92 L163.11,57.39 L162.73,58.77 L162.19,60.00 L161.78,61.29 L161.83,62.77 L162.19,64.30 Z" fill="#eac4b4"/>
<path d="M162.19,64.30 L161.83,62.77 L161.78,61.29 L162.19,60.00 L162.73,58.77 L163.11,57.39 L163.43,55.92 L164.62,56.84 L164.33,58.26 L164.00,59.58 L163.48,60.75 L163.11,61.98 L163.20,63.40 L163.58,64.87 Z" fill="#f6e4dc"/>
<path d="M156.95,51.55 L157.56,49.78 L158.39,48.13 L159.51,46.71 L160.81,45.45 L162.14,44.23 L163.53,43.07 L165.94,46.26 L164.70,47.31 L163.50,48.41 L162.34,49.54 L161.34,50.83 L160.64,52.34 L160.14,53.96 Z" fill="#b05844"/>
<path d="M160.14,53.96 L160.64,52.34 L161.34,50.83 L162.34,49.54 L163.50,48.41 L164.70,47.31 L165.94,46.26 L166.85,47.46 L165.66,48.46 L164.51,49.52 L163.40,50.60 L162.45,51.84 L161.79,53.30 L161.34,54.86 Z" fill="#c87a5c"/>
<path d="M161.34,54.86 L161.79,53.30 L162.45,51.84 L163.40,50.60 L164.51,49.52 L165.66,48.46 L166.85,47.46 L167.75,48.65 L166.62,49.62 L165.52,50.62 L164.46,51.66 L163.56,52.85 L162.95,54.26 L162.53,55.77 Z" fill="#d89a80"/>
<path d="M162.53,55.77 L162.95,54.26 L163.56,52.85 L164.46,51.66 L165.52,50.62 L166.62,49.62 L167.75,48.65 L168.66,49.85 L167.58,50.77 L166.53,51.73 L165.52,52.72 L164.67,53.86 L164.10,55.22 L163.73,56.67 Z" fill="#eac4b4"/>
<path d="M163.73,56.67 L164.10,55.22 L164.67,53.86 L165.52,52.72 L166.53,51.73 L167.58,50.77 L168.66,49.85 L169.56,51.04 L168.54,51.93 L167.55,52.84 L166.58,53.78 L165.78,54.87 L165.25,56.17 L164.92,57.58 Z" fill="#f6e4dc"/>
<path d="M163.10,43.42 L164.53,42.29 L166.01,41.25 L167.55,40.29 L169.14,39.41 L170.75,38.57 L172.40,37.80 L173.90,41.51 L172.42,42.21 L170.97,42.96 L169.55,43.76 L168.16,44.62 L166.83,45.56 L165.56,46.57 Z" fill="#b05844"/>
<path d="M165.56,46.57 L166.83,45.56 L168.16,44.62 L169.55,43.76 L170.97,42.96 L172.42,42.21 L173.90,41.51 L174.47,42.90 L173.05,43.57 L171.66,44.29 L170.30,45.06 L168.97,45.88 L167.70,46.78 L166.48,47.76 Z" fill="#c87a5c"/>
<path d="M166.48,47.76 L167.70,46.78 L168.97,45.88 L170.30,45.06 L171.66,44.29 L173.05,43.57 L174.47,42.90 L175.03,44.29 L173.68,44.93 L172.35,45.62 L171.05,46.35 L169.78,47.14 L168.57,48.01 L167.40,48.94 Z" fill="#d89a80"/>
<path d="M167.40,48.94 L168.57,48.01 L169.78,47.14 L171.05,46.35 L172.35,45.62 L173.68,44.93 L175.03,44.29 L175.60,45.68 L174.31,46.29 L173.04,46.96 L171.80,47.65 L170.59,48.41 L169.43,49.23 L168.32,50.12 Z" fill="#eac4b4"/>
<path d="M168.32,50.12 L169.43,49.23 L170.59,48.41 L171.80,47.65 L173.04,46.96 L174.31,46.29 L175.60,45.68 L176.16,47.07 L174.93,47.66 L173.73,48.29 L172.55,48.95 L171.40,49.67 L170.30,50.46 L169.25,51.31 Z" fill="#f6e4dc"/>
<path d="M171.89,38.03 L173.57,37.31 L175.28,36.68 L177.02,36.15 L178.79,35.68 L180.56,35.24 L182.36,34.84 L182.85,38.80 L181.24,39.18 L179.65,39.59 L178.06,40.02 L176.49,40.49 L174.95,41.06 L173.45,41.71 Z" fill="#b05844"/>
<path d="M173.45,41.71 L174.95,41.06 L176.49,40.49 L178.06,40.02 L179.65,39.59 L181.24,39.18 L182.85,38.80 L183.04,40.29 L181.49,40.66 L179.97,41.06 L178.45,41.47 L176.94,41.92 L175.47,42.47 L174.03,43.10 Z" fill="#c87a5c"/>
<path d="M174.03,43.10 L175.47,42.47 L176.94,41.92 L178.45,41.47 L179.97,41.06 L181.49,40.66 L183.04,40.29 L183.22,41.78 L181.75,42.14 L180.29,42.52 L178.84,42.91 L177.40,43.35 L175.99,43.88 L174.62,44.48 Z" fill="#d89a80"/>
<path d="M174.62,44.48 L175.99,43.88 L177.40,43.35 L178.84,42.91 L180.29,42.52 L181.75,42.14 L183.22,41.78 L183.41,43.27 L182.00,43.61 L180.61,43.99 L179.22,44.36 L177.85,44.78 L176.51,45.28 L175.20,45.86 Z" fill="#eac4b4"/>
<path d="M175.20,45.86 L176.51,45.28 L177.85,44.78 L179.22,44.36 L180.61,43.99 L182.00,43.61 L183.41,43.27 L183.60,44.76 L182.26,45.09 L180.93,45.45 L179.61,45.81 L178.31,46.21 L177.03,46.69 L175.79,47.24 Z" fill="#f6e4dc"/>
<path d="M184.90,98.00 L185.40,92.00 L186.50,90.70 L187.50,92.00 L187.90,98.00 Z" fill="#c07a66" opacity="0.8"/>
</g></g>
<circle cx="187.3" cy="74.5" r="46.78" fill="none" stroke="#808080" stroke-width="0.4" stroke-dasharray="1.0,0.5" opacity="0.85"/>
<circle cx="187.3" cy="74.5" r="39.75" fill="none" stroke="#808080" stroke-width="0.4" stroke-dasharray="1.0,0.5" opacity="0.85"/>
<circle cx="187.3" cy="74.5" r="32.89" fill="none" stroke="#808080" stroke-width="0.4" stroke-dasharray="1.0,0.5" opacity="0.85"/>
<circle cx="187.3" cy="74.5" r="26.16" fill="none" stroke="#808080" stroke-width="0.4" stroke-dasharray="1.0,0.5" opacity="0.85"/>
<circle cx="187.3" cy="74.5" r="19.53" fill="none" stroke="#808080" stroke-width="0.4" stroke-dasharray="1.0,0.5" opacity="0.85"/>
<circle cx="187.3" cy="74.5" r="12.98" fill="none" stroke="#808080" stroke-width="0.4" stroke-dasharray="1.0,0.5" opacity="0.85"/>
<circle cx="187.3" cy="74.5" r="6.48" fill="none" stroke="#808080" stroke-width="0.4" stroke-dasharray="1.0,0.5" opacity="0.85"/>
<line x1="187.3" y1="74.5" x2="187.30" y2="20.50" stroke="#808080" stroke-width="0.45" stroke-dasharray="1.3,0.9" opacity="0.85"/>
<line x1="187.3" y1="74.5" x2="234.07" y2="47.50" stroke="#808080" stroke-width="0.45" stroke-dasharray="1.3,0.9" opacity="0.85"/>
<line x1="187.3" y1="74.5" x2="234.07" y2="101.50" stroke="#808080" stroke-width="0.45" stroke-dasharray="1.3,0.9" opacity="0.85"/>
<line x1="187.3" y1="74.5" x2="187.30" y2="128.50" stroke="#808080" stroke-width="0.45" stroke-dasharray="1.3,0.9" opacity="0.85"/>
<line x1="187.3" y1="74.5" x2="140.53" y2="101.50" stroke="#808080" stroke-width="0.45" stroke-dasharray="1.3,0.9" opacity="0.85"/>
<line x1="187.3" y1="74.5" x2="140.53" y2="47.50" stroke="#808080" stroke-width="0.45" stroke-dasharray="1.3,0.9" opacity="0.85"/>
<path d="M181.10,52.70 L182.70,50.60 L185.90,48.50 L190.30,48.50 L192.40,49.00 L195.60,49.50 L199.80,50.60 L203.00,51.70 L206.20,53.30 L209.40,54.30 L212.60,55.40 L214.20,58.10 L213.60,60.70 L214.70,63.90 L211.50,65.50 L212.00,67.60 L214.70,69.20 L217.80,71.90 L219.20,76.40 L219.20,80.60 L218.40,84.10 L217.00,88.10 L214.70,90.70 L212.60,93.40 L210.40,96.00 L208.30,97.60 L205.10,99.20 L200.90,99.50 L196.60,99.20 L192.40,98.70 L191.30,95.50 L191.80,91.20 L191.30,88.10 L190.80,84.90 L189.20,82.70 L187.40,80.30 L184.80,79.50 L183.60,82.50 L182.20,85.30 L180.80,87.50 L179.00,89.30 L176.30,90.20 L172.60,88.30 L169.90,86.10 L168.30,83.80 L168.10,82.10 L167.60,80.60 L166.80,78.60 L164.60,77.90 L165.00,75.60 L165.60,72.70 L166.20,69.70 L165.60,66.10 L163.20,64.10 L160.00,62.90 L158.00,60.70 L157.20,57.90 L157.20,55.30 L158.10,55.50 L158.70,59.30 L160.40,61.50 L163.20,62.30 L165.90,63.50 L167.70,66.40 L168.40,69.30 L170.60,70.90 L173.00,71.30 L175.50,70.60 L178.00,68.70 L180.00,66.90 L180.60,64.50 L179.90,62.30 L178.90,60.30 L180.10,57.30 L180.70,53.70 Z" fill="#808080" stroke="#303030" stroke-width="0.35"/>
<path d="M134.90,60.90 L137.50,54.80 L141.30,54.50 L144.30,54.30 L143.90,56.60 L140.70,59.50 L138.30,60.50 Z" fill="#7c7c7c" stroke="#222" stroke-width="0.45"/>
<path d="M137.80,55.10 L140.50,57.50 L138.50,59.90" fill="none" stroke="#333" stroke-width="0.5"/>
<path d="M187.30,38.00 L188.26,38.02 L189.21,38.08 L190.16,38.17 L191.10,38.30 L192.04,38.46 L192.98,38.64 L193.91,38.85 L194.83,39.06 L195.75,39.29 L196.67,39.53 L197.58,39.81 L198.46,40.14 L199.33,40.53 L200.17,40.96 L201.00,41.43 L201.81,41.91 L202.61,42.40 L203.41,42.89 L204.20,43.37 L205.00,43.84 L205.80,44.32 L206.58,44.81 L207.35,45.33 L208.11,45.86 L208.85,46.42 L209.58,46.99 L210.29,47.58 L210.99,48.19 L211.67,48.82 L212.33,49.47 L212.97,50.14 L213.59,50.83 L214.17,51.55 L214.73,52.29 L215.27,53.04 L215.78,53.81 L216.28,54.58 L216.76,55.37 L217.23,56.16 L217.70,56.95 L218.17,57.74 L218.68,58.51 L219.22,59.27 L219.78,60.04 L220.33,60.82 L220.86,61.62 L221.36,62.44 L221.80,63.29 L222.17,64.17 L222.46,65.08 L222.73,66.00 L223.03,66.91 L223.35,67.82 L223.70,68.74 L224.03,69.66 L224.35,70.61 L224.62,71.56 L224.82,72.53 L224.96,73.51 L225.00,74.50 L224.97,75.49 L224.89,76.47 L224.76,77.45 L224.59,78.42 L224.38,79.38 L224.15,80.34 L223.90,81.28 L223.65,82.23 L223.39,83.16 L223.14,84.10 L222.87,85.04 L222.57,85.96 L222.23,86.87 L221.87,87.77 L221.48,88.66 L221.07,89.54 L220.64,90.40 L220.20,91.26 L219.73,92.11 L219.26,92.95 L218.75,93.77 L218.19,94.56 L217.59,95.32 L216.96,96.05 L216.30,96.75 L215.62,97.43 L214.94,98.10 L214.25,98.77 L213.57,99.43 L212.90,100.10 L212.20,100.74 L211.46,101.33 L210.68,101.87 L209.86,102.36 L209.03,102.82 L208.19,103.26 L207.35,103.68 L206.52,104.10 L205.70,104.53 L204.90,104.98 L204.06,105.37 L203.14,105.59 L202.17,105.68 L201.17,105.65 L200.16,105.54 L199.16,105.41 L198.20,105.29 L197.28,105.22 L196.41,105.26 L195.58,105.41 L194.76,105.56 L193.91,105.59 L193.05,105.50 L192.18,105.32 L191.33,105.09 L190.49,104.83 L189.67,104.58 L188.87,104.38 L188.08,104.25 L187.30,104.20 L186.52,104.18 L185.75,104.14 L184.97,104.07 L184.20,103.97 L183.44,103.85 L182.67,103.71 L181.92,103.55 L181.16,103.37 L180.41,103.19 L179.66,102.99 L178.92,102.79 L178.18,102.56 L177.45,102.31 L176.73,102.04 L176.01,101.75 L175.30,101.45 L174.60,101.13 L173.91,100.78 L173.22,100.43 L172.55,100.05 L171.92,99.60 L171.37,99.02 L170.91,98.35 L170.51,97.61 L170.16,96.83 L169.85,96.05 L169.53,95.30 L169.19,94.61 L168.81,93.99 L168.35,93.45 L167.84,92.97 L167.28,92.52 L166.70,92.09 L166.10,91.67 L165.48,91.24 L164.88,90.79 L164.30,90.31 L163.76,89.79 L163.28,89.22 L162.88,88.60 L162.51,87.96 L162.15,87.32 L161.79,86.67 L161.44,86.01 L161.11,85.35 L160.79,84.68 L160.49,83.99 L160.22,83.30 L159.98,82.59 L159.77,81.88 L159.57,81.16 L159.36,80.44 L159.14,79.72 L158.91,79.00 L158.70,78.27 L158.50,77.53 L158.33,76.78 L158.21,76.02 L158.13,75.26 L158.10,74.50 L158.07,73.73 L157.99,72.96 L157.86,72.18 L157.71,71.39 L157.56,70.58 L157.43,69.77 L157.34,68.95 L157.32,68.13 L157.39,67.32 L157.55,66.53 L157.70,65.73 L157.76,64.90 L157.74,64.03 L157.67,63.13 L157.60,62.20 L157.55,61.25 L157.57,60.32 L157.68,59.41 L157.92,58.55 L158.29,57.75 L158.70,56.97 L159.06,56.16 L159.39,55.32 L159.69,54.44 L160.01,53.56 L160.35,52.68 L160.74,51.82 L161.19,50.99 L161.73,50.23 L162.34,49.54 L163.00,48.89 L163.67,48.25 L164.35,47.63 L165.04,47.01 L165.75,46.42 L166.47,45.84 L167.22,45.28 L167.98,44.74 L168.75,44.24 L169.55,43.76 L170.36,43.30 L171.17,42.85 L172.00,42.42 L172.83,42.01 L173.68,41.61 L174.53,41.24 L175.40,40.89 L176.27,40.57 L177.16,40.27 L178.06,40.02 L178.96,39.77 L179.86,39.51 L180.76,39.24 L181.67,38.97 L182.59,38.71 L183.51,38.47 L184.45,38.28 L185.39,38.13 L186.35,38.03 Z" fill="none" stroke="#3a1f9a" stroke-width="0.6"/>
<path d="M187.30,35.50 L188.32,35.54 L189.34,35.67 L190.34,35.87 L191.33,36.13 L192.31,36.43 L193.28,36.76 L194.23,37.09 L195.18,37.41 L196.13,37.72 L197.08,37.99 L198.03,38.28 L198.95,38.63 L199.86,39.04 L200.73,39.50 L201.59,39.99 L202.44,40.51 L203.27,41.03 L204.09,41.55 L204.92,42.05 L205.75,42.54 L206.58,43.04 L207.39,43.56 L208.19,44.11 L208.97,44.68 L209.73,45.26 L210.48,45.87 L211.21,46.50 L211.93,47.15 L212.63,47.80 L213.32,48.48 L213.99,49.17 L214.63,49.90 L215.24,50.64 L215.82,51.41 L216.38,52.19 L216.91,52.98 L217.43,53.79 L217.94,54.61 L218.43,55.42 L218.91,56.25 L219.40,57.07 L219.93,57.87 L220.49,58.67 L221.05,59.47 L221.62,60.28 L222.17,61.11 L222.68,61.97 L223.13,62.86 L223.51,63.77 L223.81,64.72 L224.09,65.67 L224.41,66.61 L224.77,67.56 L225.15,68.51 L225.52,69.47 L225.87,70.45 L226.17,71.44 L226.40,72.45 L226.55,73.47 L226.60,74.50 L226.57,75.53 L226.47,76.55 L226.31,77.57 L226.11,78.58 L225.87,79.58 L225.60,80.57 L225.32,81.55 L225.03,82.52 L224.76,83.49 L224.49,84.46 L224.21,85.43 L223.90,86.39 L223.55,87.34 L223.18,88.27 L222.78,89.20 L222.35,90.11 L221.91,91.01 L221.44,91.90 L220.96,92.78 L220.47,93.65 L219.95,94.51 L219.38,95.33 L218.78,96.13 L218.15,96.91 L217.49,97.66 L216.81,98.40 L216.12,99.12 L215.43,99.83 L214.73,100.53 L214.03,101.23 L213.31,101.91 L212.56,102.56 L211.78,103.16 L210.98,103.74 L210.16,104.29 L209.33,104.82 L208.49,105.32 L207.64,105.82 L206.80,106.31 L205.95,106.80 L205.07,107.24 L204.15,107.56 L203.18,107.79 L202.19,107.94 L201.19,108.04 L200.20,108.10 L199.22,108.16 L198.27,108.25 L197.34,108.39 L196.44,108.60 L195.53,108.78 L194.60,108.86 L193.67,108.84 L192.72,108.75 L191.79,108.61 L190.87,108.43 L189.96,108.27 L189.06,108.13 L188.18,108.03 L187.30,108.00 L186.42,107.98 L185.55,107.94 L184.67,107.86 L183.81,107.75 L182.94,107.61 L182.08,107.46 L181.22,107.28 L180.37,107.09 L179.53,106.88 L178.68,106.67 L177.85,106.42 L177.02,106.12 L176.22,105.79 L175.43,105.43 L174.65,105.03 L173.89,104.62 L173.13,104.20 L172.39,103.77 L171.64,103.34 L170.90,102.91 L170.22,102.37 L169.68,101.63 L169.27,100.73 L168.98,99.72 L168.76,98.66 L168.59,97.60 L168.42,96.60 L168.20,95.72 L167.88,94.97 L167.43,94.37 L166.89,93.87 L166.32,93.39 L165.71,92.94 L165.09,92.49 L164.45,92.03 L163.83,91.56 L163.23,91.05 L162.67,90.49 L162.18,89.90 L161.75,89.25 L161.37,88.58 L160.99,87.91 L160.62,87.23 L160.26,86.54 L159.91,85.85 L159.58,85.14 L159.27,84.43 L158.99,83.70 L158.73,82.96 L158.52,82.21 L158.31,81.46 L158.09,80.71 L157.86,79.96 L157.63,79.20 L157.41,78.44 L157.21,77.66 L157.04,76.88 L156.91,76.09 L156.83,75.30 L156.80,74.50 L156.77,73.70 L156.67,72.89 L156.52,72.08 L156.35,71.25 L156.17,70.40 L156.01,69.54 L155.91,68.68 L155.87,67.82 L155.94,66.97 L156.10,66.14 L156.25,65.30 L156.26,64.42 L156.17,63.48 L156.02,62.49 L155.84,61.47 L155.70,60.43 L155.64,59.40 L155.70,58.40 L155.91,57.46 L156.30,56.60 L156.73,55.77 L157.09,54.88 L157.41,53.95 L157.69,52.99 L157.99,52.01 L158.31,51.02 L158.69,50.06 L159.15,49.15 L159.70,48.31 L160.36,47.56 L161.07,46.86 L161.79,46.17 L162.53,45.50 L163.28,44.84 L164.05,44.19 L164.83,43.57 L165.63,42.97 L166.45,42.39 L167.29,41.85 L168.15,41.33 L169.02,40.84 L169.90,40.36 L170.79,39.89 L171.69,39.45 L172.60,39.02 L173.53,38.62 L174.46,38.25 L175.41,37.90 L176.37,37.59 L177.34,37.31 L178.31,37.05 L179.29,36.79 L180.27,36.54 L181.25,36.30 L182.24,36.08 L183.24,35.89 L184.25,35.72 L185.26,35.60 L186.28,35.53 Z" fill="none" stroke="#f040f0" stroke-width="0.8"/>
</g>
<circle cx="187.3" cy="74.5" r="54.0" fill="none" stroke="#4a4a4a" stroke-width="0.55"/>
<ellipse cx="142.3" cy="47.6" rx="0.75" ry="1.3" fill="#333"/>
<text x="187.30" y="17.90" font-size="4.9" font-family="Liberation Sans, sans-serif" text-anchor="middle" textLength="4.06" lengthAdjust="spacingAndGlyphs" fill="#000">0°</text>
<text x="187.30" y="134.40" font-size="4.9" font-family="Liberation Sans, sans-serif" text-anchor="middle" textLength="8.79" lengthAdjust="spacingAndGlyphs" fill="#000">180°</text>
<text x="235.50" y="47.50" font-size="4.9" font-family="Liberation Sans, sans-serif" textLength="9.26" lengthAdjust="spacingAndGlyphs" fill="#000">60°E</text>
<text x="236.20" y="104.10" font-size="4.9" font-family="Liberation Sans, sans-serif" textLength="11.63" lengthAdjust="spacingAndGlyphs" fill="#000">120°E</text>
<text x="138.60" y="48.30" font-size="4.9" font-family="Liberation Sans, sans-serif" text-anchor="end" textLength="10.44" lengthAdjust="spacingAndGlyphs" fill="#000">60°W</text>
<text x="138.40" y="104.10" font-size="4.9" font-family="Liberation Sans, sans-serif" text-anchor="end" textLength="12.80" lengthAdjust="spacingAndGlyphs" fill="#000">120°W</text>
<text x="150.90" y="45.00" font-size="4.9" font-family="Liberation Sans, sans-serif" text-anchor="middle" textLength="9.26" lengthAdjust="spacingAndGlyphs" fill="#000">55°S</text>
<text x="161.70" y="54.30" font-size="4.9" font-family="Liberation Sans, sans-serif" text-anchor="middle" textLength="9.26" lengthAdjust="spacingAndGlyphs" fill="#000">65°S</text>
<text x="171.90" y="62.70" font-size="4.9" font-family="Liberation Sans, sans-serif" text-anchor="middle" textLength="9.26" lengthAdjust="spacingAndGlyphs" fill="#777">75°S</text>
<g clip-path="url(#clipC)">
<filter id="sbC" x="-10%" y="-10%" width="120%" height="120%"><feGaussianBlur stdDeviation="2.0"/></filter>
<g filter="url(#sbC)">
<path d="M354.85,15.00 L359.06,14.55 L363.30,14.40 L367.54,14.55 L371.75,15.00 L369.88,28.17 L366.60,27.82 L363.30,27.70 L360.00,27.82 L356.72,28.17 Z" fill="#e82a2c"/>
<path d="M370.51,14.83 L374.70,15.49 L378.83,16.44 L382.88,17.69 L386.84,19.21 L381.62,31.44 L378.54,30.26 L375.39,29.29 L372.17,28.55 L368.91,28.04 Z" fill="#e82a2c"/>
<path d="M385.68,18.73 L389.56,20.45 L393.30,22.44 L396.89,24.69 L400.32,27.18 L392.12,37.65 L389.45,35.71 L386.65,33.96 L383.74,32.41 L380.72,31.07 Z" fill="#ee4a3a"/>
<path d="M399.33,26.42 L402.62,29.08 L405.73,31.97 L408.62,35.08 L411.28,38.37 L400.65,46.36 L398.57,43.79 L396.32,41.38 L393.91,39.13 L391.34,37.05 Z" fill="#f06a4c"/>
<path d="M410.52,37.38 L413.01,40.81 L415.26,44.40 L417.25,48.14 L418.97,52.02 L406.63,56.98 L405.29,53.96 L403.74,51.05 L401.99,48.25 L400.05,45.58 Z" fill="#ee4a3a"/>
<path d="M418.49,50.86 L420.01,54.82 L421.26,58.87 L422.21,63.00 L422.87,67.19 L409.66,68.79 L409.15,65.53 L408.41,62.31 L407.44,59.16 L406.26,56.08 Z" fill="#e82a2c"/>
<path d="M422.70,65.95 L423.15,70.16 L423.30,74.40 L423.15,78.64 L422.70,82.85 L409.53,80.98 L409.88,77.70 L410.00,74.40 L409.88,71.10 L409.53,67.82 Z" fill="#e82a2c"/>
<path d="M422.87,81.61 L422.21,85.80 L421.26,89.93 L420.01,93.98 L418.49,97.94 L406.26,92.72 L407.44,89.64 L408.41,86.49 L409.15,83.27 L409.66,80.01 Z" fill="#ee4a3a"/>
<path d="M418.97,96.78 L417.25,100.66 L415.26,104.40 L413.01,107.99 L410.52,111.42 L400.05,103.22 L401.99,100.55 L403.74,97.75 L405.29,94.84 L406.63,91.82 Z" fill="#f06a4c"/>
<path d="M411.28,110.43 L408.62,113.72 L405.73,116.83 L402.62,119.72 L399.33,122.38 L391.34,111.75 L393.91,109.67 L396.32,107.42 L398.57,105.01 L400.65,102.44 Z" fill="#f2ae88"/>
<path d="M400.32,121.62 L396.89,124.11 L393.30,126.36 L389.56,128.35 L385.68,130.07 L380.72,117.73 L383.74,116.39 L386.65,114.84 L389.45,113.09 L392.12,111.15 Z" fill="#f4cc9c"/>
<path d="M386.84,129.59 L382.88,131.11 L378.83,132.36 L374.70,133.31 L370.51,133.97 L368.91,120.76 L372.17,120.25 L375.39,119.51 L378.54,118.54 L381.62,117.36 Z" fill="#f2ae88"/>
<path d="M371.75,133.80 L367.54,134.25 L363.30,134.40 L359.06,134.25 L354.85,133.80 L356.72,120.63 L360.00,120.98 L363.30,121.10 L366.60,120.98 L369.88,120.63 Z" fill="#ee4a3a"/>
<path d="M356.09,133.97 L351.90,133.31 L347.77,132.36 L343.72,131.11 L339.76,129.59 L344.98,117.36 L348.06,118.54 L351.21,119.51 L354.43,120.25 L357.69,120.76 Z" fill="#e82a2c"/>
<path d="M340.92,130.07 L337.04,128.35 L333.30,126.36 L329.71,124.11 L326.28,121.62 L334.48,111.15 L337.15,113.09 L339.95,114.84 L342.86,116.39 L345.88,117.73 Z" fill="#e82a2c"/>
<path d="M327.27,122.38 L323.98,119.72 L320.87,116.83 L317.98,113.72 L315.32,110.43 L325.95,102.44 L328.03,105.01 L330.28,107.42 L332.69,109.67 L335.26,111.75 Z" fill="#ee4a3a"/>
<path d="M316.08,111.42 L313.59,107.99 L311.34,104.40 L309.35,100.66 L307.63,96.78 L319.97,91.82 L321.31,94.84 L322.86,97.75 L324.61,100.55 L326.55,103.22 Z" fill="#f6e4b4"/>
<path d="M308.11,97.94 L306.59,93.98 L305.34,89.93 L304.39,85.80 L303.73,81.61 L316.94,80.01 L317.45,83.27 L318.19,86.49 L319.16,89.64 L320.34,92.72 Z" fill="#f8f2d2"/>
<path d="M303.90,82.85 L303.45,78.64 L303.30,74.40 L303.45,70.16 L303.90,65.95 L317.07,67.82 L316.72,71.10 L316.60,74.40 L316.72,77.70 L317.07,80.98 Z" fill="#f8f2d2"/>
<path d="M303.73,67.19 L304.39,63.00 L305.34,58.87 L306.59,54.82 L308.11,50.86 L320.34,56.08 L319.16,59.16 L318.19,62.31 L317.45,65.53 L316.94,68.79 Z" fill="#f6e4b4"/>
<path d="M307.63,52.02 L309.35,48.14 L311.34,44.40 L313.59,40.81 L316.08,37.38 L326.55,45.58 L324.61,48.25 L322.86,51.05 L321.31,53.96 L319.97,56.98 Z" fill="#f4cc9c"/>
<path d="M315.32,38.37 L317.98,35.08 L320.87,31.97 L323.98,29.08 L327.27,26.42 L335.26,37.05 L332.69,39.13 L330.28,41.38 L328.03,43.79 L325.95,46.36 Z" fill="#f06a4c"/>
<path d="M326.28,27.18 L329.71,24.69 L333.30,22.44 L337.04,20.45 L340.92,18.73 L345.88,31.07 L342.86,32.41 L339.95,33.96 L337.15,35.71 L334.48,37.65 Z" fill="#ee4a3a"/>
<path d="M339.76,19.21 L343.72,17.69 L347.77,16.44 L351.90,15.49 L356.09,14.83 L357.69,28.04 L354.43,28.55 L351.21,29.29 L348.06,30.26 L344.98,31.44 Z" fill="#e82a2c"/>
<path d="M356.68,27.87 L359.98,27.52 L363.30,27.40 L366.62,27.52 L369.92,27.87 L368.89,35.10 L366.10,34.80 L363.30,34.70 L360.50,34.80 L357.71,35.10 Z" fill="#e82a2c"/>
<path d="M368.95,27.74 L372.23,28.26 L375.46,29.00 L378.64,29.97 L381.74,31.17 L378.88,37.88 L376.26,36.87 L373.58,36.05 L370.84,35.42 L368.07,34.99 Z" fill="#ee4a3a"/>
<path d="M380.83,30.79 L383.87,32.14 L386.80,33.70 L389.62,35.46 L392.30,37.41 L387.80,43.16 L385.53,41.51 L383.15,40.02 L380.67,38.70 L378.11,37.56 Z" fill="#f06a4c"/>
<path d="M391.52,36.81 L394.10,38.90 L396.53,41.17 L398.80,43.60 L400.89,46.18 L395.05,50.56 L393.28,48.38 L391.37,46.33 L389.32,44.42 L387.14,42.65 Z" fill="#f06a4c"/>
<path d="M400.29,45.40 L402.24,48.08 L404.00,50.90 L405.56,53.83 L406.91,56.87 L400.14,59.59 L399.00,57.03 L397.68,54.55 L396.19,52.17 L394.54,49.90 Z" fill="#ee4a3a"/>
<path d="M406.53,55.96 L407.73,59.06 L408.70,62.24 L409.44,65.47 L409.96,68.75 L402.71,69.63 L402.28,66.86 L401.65,64.12 L400.83,61.44 L399.82,58.82 Z" fill="#e82a2c"/>
<path d="M409.83,67.78 L410.18,71.08 L410.30,74.40 L410.18,77.72 L409.83,81.02 L402.60,79.99 L402.90,77.20 L403.00,74.40 L402.90,71.60 L402.60,68.81 Z" fill="#e82a2c"/>
<path d="M409.96,80.05 L409.44,83.33 L408.70,86.56 L407.73,89.74 L406.53,92.84 L399.82,89.98 L400.83,87.36 L401.65,84.68 L402.28,81.94 L402.71,79.17 Z" fill="#ee4a3a"/>
<path d="M406.91,91.93 L405.56,94.97 L404.00,97.90 L402.24,100.72 L400.29,103.40 L394.54,98.90 L396.19,96.63 L397.68,94.25 L399.00,91.77 L400.14,89.21 Z" fill="#f06a4c"/>
<path d="M400.89,102.62 L398.80,105.20 L396.53,107.63 L394.10,109.90 L391.52,111.99 L387.14,106.15 L389.32,104.38 L391.37,102.47 L393.28,100.42 L395.05,98.24 Z" fill="#f2ae88"/>
<path d="M392.30,111.39 L389.62,113.34 L386.80,115.10 L383.87,116.66 L380.83,118.01 L378.11,111.24 L380.67,110.10 L383.15,108.78 L385.53,107.29 L387.80,105.64 Z" fill="#f4cc9c"/>
<path d="M381.74,117.63 L378.64,118.83 L375.46,119.80 L372.23,120.54 L368.95,121.06 L368.07,113.81 L370.84,113.38 L373.58,112.75 L376.26,111.93 L378.88,110.92 Z" fill="#f08e6a"/>
<path d="M369.92,120.93 L366.62,121.28 L363.30,121.40 L359.98,121.28 L356.68,120.93 L357.71,113.70 L360.50,114.00 L363.30,114.10 L366.10,114.00 L368.89,113.70 Z" fill="#ee4a3a"/>
<path d="M357.65,121.06 L354.37,120.54 L351.14,119.80 L347.96,118.83 L344.86,117.63 L347.72,110.92 L350.34,111.93 L353.02,112.75 L355.76,113.38 L358.53,113.81 Z" fill="#e82a2c"/>
<path d="M345.77,118.01 L342.73,116.66 L339.80,115.10 L336.98,113.34 L334.30,111.39 L338.80,105.64 L341.07,107.29 L343.45,108.78 L345.93,110.10 L348.49,111.24 Z" fill="#e82a2c"/>
<path d="M335.08,111.99 L332.50,109.90 L330.07,107.63 L327.80,105.20 L325.71,102.62 L331.55,98.24 L333.32,100.42 L335.23,102.47 L337.28,104.38 L339.46,106.15 Z" fill="#f06a4c"/>
<path d="M326.31,103.40 L324.36,100.72 L322.60,97.90 L321.04,94.97 L319.69,91.93 L326.46,89.21 L327.60,91.77 L328.92,94.25 L330.41,96.63 L332.06,98.90 Z" fill="#f8f2d2"/>
<path d="M320.07,92.84 L318.87,89.74 L317.90,86.56 L317.16,83.33 L316.64,80.05 L323.89,79.17 L324.32,81.94 L324.95,84.68 L325.77,87.36 L326.78,89.98 Z" fill="#f8f2d2"/>
<path d="M316.77,81.02 L316.42,77.72 L316.30,74.40 L316.42,71.08 L316.77,67.78 L324.00,68.81 L323.70,71.60 L323.60,74.40 L323.70,77.20 L324.00,79.99 Z" fill="#f8f2d2"/>
<path d="M316.64,68.75 L317.16,65.47 L317.90,62.24 L318.87,59.06 L320.07,55.96 L326.78,58.82 L325.77,61.44 L324.95,64.12 L324.32,66.86 L323.89,69.63 Z" fill="#f8f2d2"/>
<path d="M319.69,56.87 L321.04,53.83 L322.60,50.90 L324.36,48.08 L326.31,45.40 L332.06,49.90 L330.41,52.17 L328.92,54.55 L327.60,57.03 L326.46,59.59 Z" fill="#f6e4b4"/>
<path d="M325.71,46.18 L327.80,43.60 L330.07,41.17 L332.50,38.90 L335.08,36.81 L339.46,42.65 L337.28,44.42 L335.23,46.33 L333.32,48.38 L331.55,50.56 Z" fill="#f08e6a"/>
<path d="M334.30,37.41 L336.98,35.46 L339.80,33.70 L342.73,32.14 L345.77,30.79 L348.49,37.56 L345.93,38.70 L343.45,40.02 L341.07,41.51 L338.80,43.16 Z" fill="#ee4a3a"/>
<path d="M344.86,31.17 L347.96,29.97 L351.14,29.00 L354.37,28.26 L357.65,27.74 L358.53,34.99 L355.76,35.42 L353.02,36.05 L350.34,36.87 L347.72,37.88 Z" fill="#e82a2c"/>
<path d="M357.66,34.80 L360.47,34.50 L363.30,34.40 L366.13,34.50 L368.94,34.80 L367.91,42.03 L365.61,41.78 L363.30,41.70 L360.99,41.78 L358.69,42.03 Z" fill="#f2ae88"/>
<path d="M368.11,34.69 L370.90,35.13 L373.65,35.76 L376.36,36.59 L378.99,37.61 L376.13,44.32 L373.97,43.49 L371.76,42.81 L369.51,42.30 L367.23,41.94 Z" fill="#f08e6a"/>
<path d="M378.22,37.29 L380.80,38.43 L383.30,39.76 L385.70,41.26 L387.98,42.92 L383.48,48.67 L381.61,47.31 L379.65,46.08 L377.61,45.00 L375.50,44.06 Z" fill="#f08e6a"/>
<path d="M387.32,42.41 L389.52,44.19 L391.58,46.12 L393.51,48.18 L395.29,50.38 L389.45,54.77 L388.00,52.97 L386.42,51.28 L384.73,49.70 L382.93,48.25 Z" fill="#f06a4c"/>
<path d="M394.78,49.72 L396.44,52.00 L397.94,54.40 L399.27,56.90 L400.41,59.48 L393.64,62.20 L392.70,60.09 L391.62,58.05 L390.39,56.09 L389.03,54.22 Z" fill="#ee4a3a"/>
<path d="M400.09,58.71 L401.11,61.34 L401.94,64.05 L402.57,66.80 L403.01,69.59 L395.76,70.47 L395.40,68.19 L394.89,65.94 L394.21,63.73 L393.38,61.57 Z" fill="#b81020"/>
<path d="M402.90,68.76 L403.20,71.57 L403.30,74.40 L403.20,77.23 L402.90,80.04 L395.67,79.01 L395.92,76.71 L396.00,74.40 L395.92,72.09 L395.67,69.79 Z" fill="#e82a2c"/>
<path d="M403.01,79.21 L402.57,82.00 L401.94,84.75 L401.11,87.46 L400.09,90.09 L393.38,87.23 L394.21,85.07 L394.89,82.86 L395.40,80.61 L395.76,78.33 Z" fill="#e82a2c"/>
<path d="M400.41,89.32 L399.27,91.90 L397.94,94.40 L396.44,96.80 L394.78,99.08 L389.03,94.58 L390.39,92.71 L391.62,90.75 L392.70,88.71 L393.64,86.60 Z" fill="#f08e6a"/>
<path d="M395.29,98.42 L393.51,100.62 L391.58,102.68 L389.52,104.61 L387.32,106.39 L382.93,100.55 L384.73,99.10 L386.42,97.52 L388.00,95.83 L389.45,94.03 Z" fill="#f4cc9c"/>
<path d="M387.98,105.88 L385.70,107.54 L383.30,109.04 L380.80,110.37 L378.22,111.51 L375.50,104.74 L377.61,103.80 L379.65,102.72 L381.61,101.49 L383.48,100.13 Z" fill="#f6e4b4"/>
<path d="M378.99,111.19 L376.36,112.21 L373.65,113.04 L370.90,113.67 L368.11,114.11 L367.23,106.86 L369.51,106.50 L371.76,105.99 L373.97,105.31 L376.13,104.48 Z" fill="#e82a2c"/>
<path d="M368.94,114.00 L366.13,114.30 L363.30,114.40 L360.47,114.30 L357.66,114.00 L358.69,106.77 L360.99,107.02 L363.30,107.10 L365.61,107.02 L367.91,106.77 Z" fill="#e82a2c"/>
<path d="M358.49,114.11 L355.70,113.67 L352.95,113.04 L350.24,112.21 L347.61,111.19 L350.47,104.48 L352.63,105.31 L354.84,105.99 L357.09,106.50 L359.37,106.86 Z" fill="#e82a2c"/>
<path d="M348.38,111.51 L345.80,110.37 L343.30,109.04 L340.90,107.54 L338.62,105.88 L343.12,100.13 L344.99,101.49 L346.95,102.72 L348.99,103.80 L351.10,104.74 Z" fill="#ee4a3a"/>
<path d="M339.28,106.39 L337.08,104.61 L335.02,102.68 L333.09,100.62 L331.31,98.42 L337.15,94.03 L338.60,95.83 L340.18,97.52 L341.87,99.10 L343.67,100.55 Z" fill="#f6e4b4"/>
<path d="M331.82,99.08 L330.16,96.80 L328.66,94.40 L327.33,91.90 L326.19,89.32 L332.96,86.60 L333.90,88.71 L334.98,90.75 L336.21,92.71 L337.57,94.58 Z" fill="#e2f6f6"/>
<path d="M326.51,90.09 L325.49,87.46 L324.66,84.75 L324.03,82.00 L323.59,79.21 L330.84,78.33 L331.20,80.61 L331.71,82.86 L332.39,85.07 L333.22,87.23 Z" fill="#c4eef6"/>
<path d="M323.70,80.04 L323.40,77.23 L323.30,74.40 L323.40,71.57 L323.70,68.76 L330.93,69.79 L330.68,72.09 L330.60,74.40 L330.68,76.71 L330.93,79.01 Z" fill="#e2f6f6"/>
<path d="M323.59,69.59 L324.03,66.80 L324.66,64.05 L325.49,61.34 L326.51,58.71 L333.22,61.57 L332.39,63.73 L331.71,65.94 L331.20,68.19 L330.84,70.47 Z" fill="#f8f2d2"/>
<path d="M326.19,59.48 L327.33,56.90 L328.66,54.40 L330.16,52.00 L331.82,49.72 L337.57,54.22 L336.21,56.09 L334.98,58.05 L333.90,60.09 L332.96,62.20 Z" fill="#f8f2d2"/>
<path d="M331.31,50.38 L333.09,48.18 L335.02,46.12 L337.08,44.19 L339.28,42.41 L343.67,48.25 L341.87,49.70 L340.18,51.28 L338.60,52.97 L337.15,54.77 Z" fill="#f6e4b4"/>
<path d="M338.62,42.92 L340.90,41.26 L343.30,39.76 L345.80,38.43 L348.38,37.29 L351.10,44.06 L348.99,45.00 L346.95,46.08 L344.99,47.31 L343.12,48.67 Z" fill="#f2ae88"/>
<path d="M347.61,37.61 L350.24,36.59 L352.95,35.76 L355.70,35.13 L358.49,34.69 L359.37,41.94 L357.09,42.30 L354.84,42.81 L352.63,43.49 L350.47,44.32 Z" fill="#ee4a3a"/>
<path d="M358.65,41.73 L360.97,41.48 L363.30,41.40 L365.63,41.48 L367.95,41.73 L366.92,48.96 L365.12,48.76 L363.30,48.70 L361.48,48.76 L359.68,48.96 Z" fill="#f8f2d2"/>
<path d="M367.26,41.64 L369.57,42.00 L371.84,42.52 L374.07,43.21 L376.25,44.05 L373.38,50.76 L371.69,50.11 L369.95,49.58 L368.18,49.17 L366.39,48.89 Z" fill="#f8f2d2"/>
<path d="M375.61,43.78 L377.74,44.73 L379.80,45.82 L381.78,47.06 L383.66,48.43 L379.16,54.18 L377.69,53.11 L376.15,52.14 L374.55,51.29 L372.89,50.55 Z" fill="#f6e4b4"/>
<path d="M383.11,48.01 L384.93,49.48 L386.63,51.07 L388.22,52.77 L389.69,54.59 L383.85,58.97 L382.71,57.56 L381.47,56.23 L380.14,54.99 L378.73,53.85 Z" fill="#f6e4b4"/>
<path d="M389.27,54.04 L390.64,55.92 L391.88,57.90 L392.97,59.96 L393.92,62.09 L387.15,64.81 L386.41,63.15 L385.56,61.55 L384.59,60.01 L383.52,58.54 Z" fill="#f2ae88"/>
<path d="M393.65,61.45 L394.49,63.63 L395.18,65.86 L395.70,68.13 L396.06,70.44 L388.81,71.31 L388.53,69.52 L388.12,67.75 L387.59,66.01 L386.94,64.32 Z" fill="#f08e6a"/>
<path d="M395.97,69.75 L396.22,72.07 L396.30,74.40 L396.22,76.73 L395.97,79.05 L388.74,78.02 L388.94,76.22 L389.00,74.40 L388.94,72.58 L388.74,70.78 Z" fill="#f2ae88"/>
<path d="M396.06,78.36 L395.70,80.67 L395.18,82.94 L394.49,85.17 L393.65,87.35 L386.94,84.48 L387.59,82.79 L388.12,81.05 L388.53,79.28 L388.81,77.49 Z" fill="#f6e4b4"/>
<path d="M393.92,86.71 L392.97,88.84 L391.88,90.90 L390.64,92.88 L389.27,94.76 L383.52,90.26 L384.59,88.79 L385.56,87.25 L386.41,85.65 L387.15,83.99 Z" fill="#f8f2d2"/>
<path d="M389.69,94.21 L388.22,96.03 L386.63,97.73 L384.93,99.32 L383.11,100.79 L378.73,94.95 L380.14,93.81 L381.47,92.57 L382.71,91.24 L383.85,89.83 Z" fill="#f8f2d2"/>
<path d="M383.66,100.37 L381.78,101.74 L379.80,102.98 L377.74,104.07 L375.61,105.02 L372.89,98.25 L374.55,97.51 L376.15,96.66 L377.69,95.69 L379.16,94.62 Z" fill="#f8f2d2"/>
<path d="M376.25,104.75 L374.07,105.59 L371.84,106.28 L369.57,106.80 L367.26,107.16 L366.39,99.91 L368.18,99.63 L369.95,99.22 L371.69,98.69 L373.38,98.04 Z" fill="#e82a2c"/>
<path d="M367.95,107.07 L365.63,107.32 L363.30,107.40 L360.97,107.32 L358.65,107.07 L359.68,99.84 L361.48,100.04 L363.30,100.10 L365.12,100.04 L366.92,99.84 Z" fill="#ee4a3a"/>
<path d="M359.34,107.16 L357.03,106.80 L354.76,106.28 L352.53,105.59 L350.35,104.75 L353.22,98.04 L354.91,98.69 L356.65,99.22 L358.42,99.63 L360.21,99.91 Z" fill="#e82a2c"/>
<path d="M350.99,105.02 L348.86,104.07 L346.80,102.98 L344.82,101.74 L342.94,100.37 L347.44,94.62 L348.91,95.69 L350.45,96.66 L352.05,97.51 L353.71,98.25 Z" fill="#f06a4c"/>
<path d="M343.49,100.79 L341.67,99.32 L339.97,97.73 L338.38,96.03 L336.91,94.21 L342.75,89.83 L343.89,91.24 L345.13,92.57 L346.46,93.81 L347.87,94.95 Z" fill="#e2f6f6"/>
<path d="M337.33,94.76 L335.96,92.88 L334.72,90.90 L333.63,88.84 L332.68,86.71 L339.45,83.99 L340.19,85.65 L341.04,87.25 L342.01,88.79 L343.08,90.26 Z" fill="#c4eef6"/>
<path d="M332.95,87.35 L332.11,85.17 L331.42,82.94 L330.90,80.67 L330.54,78.36 L337.79,77.49 L338.07,79.28 L338.48,81.05 L339.01,82.79 L339.66,84.48 Z" fill="#a8e4f6"/>
<path d="M330.63,79.05 L330.38,76.73 L330.30,74.40 L330.38,72.07 L330.63,69.75 L337.86,70.78 L337.66,72.58 L337.60,74.40 L337.66,76.22 L337.86,78.02 Z" fill="#c4eef6"/>
<path d="M330.54,70.44 L330.90,68.13 L331.42,65.86 L332.11,63.63 L332.95,61.45 L339.66,64.32 L339.01,66.01 L338.48,67.75 L338.07,69.52 L337.79,71.31 Z" fill="#f8f2d2"/>
<path d="M332.68,62.09 L333.63,59.96 L334.72,57.90 L335.96,55.92 L337.33,54.04 L343.08,58.54 L342.01,60.01 L341.04,61.55 L340.19,63.15 L339.45,64.81 Z" fill="#f8f2d2"/>
<path d="M336.91,54.59 L338.38,52.77 L339.97,51.07 L341.67,49.48 L343.49,48.01 L347.87,53.85 L346.46,54.99 L345.13,56.23 L343.89,57.56 L342.75,58.97 Z" fill="#fbfaee"/>
<path d="M342.94,48.43 L344.82,47.06 L346.80,45.82 L348.86,44.73 L350.99,43.78 L353.71,50.55 L352.05,51.29 L350.45,52.14 L348.91,53.11 L347.44,54.18 Z" fill="#f8f2d2"/>
<path d="M350.35,44.05 L352.53,43.21 L354.76,42.52 L357.03,42.00 L359.34,41.64 L360.21,48.89 L358.42,49.17 L356.65,49.58 L354.91,50.11 L353.22,50.76 Z" fill="#f6e4b4"/>
<path d="M359.64,48.66 L361.46,48.46 L363.30,48.40 L365.14,48.46 L366.96,48.66 L363.30,74.40 Z" fill="#fbfaee"/>
<path d="M366.42,48.59 L368.24,48.87 L370.03,49.29 L371.79,49.82 L373.50,50.48 L363.30,74.40 Z" fill="#fbfaee"/>
<path d="M373.00,50.28 L374.68,51.02 L376.30,51.88 L377.86,52.86 L379.34,53.94 L363.30,74.40 Z" fill="#fbfaee"/>
<path d="M378.91,53.61 L380.34,54.76 L381.68,56.02 L382.94,57.36 L384.09,58.79 L363.30,74.40 Z" fill="#fbfaee"/>
<path d="M383.76,58.36 L384.84,59.84 L385.82,61.40 L386.68,63.02 L387.42,64.70 L363.30,74.40 Z" fill="#fbfaee"/>
<path d="M387.22,64.20 L387.88,65.91 L388.41,67.67 L388.83,69.46 L389.11,71.28 L363.30,74.40 Z" fill="#fbfaee"/>
<path d="M389.04,70.74 L389.24,72.56 L389.30,74.40 L389.24,76.24 L389.04,78.06 L363.30,74.40 Z" fill="#fbfaee"/>
<path d="M389.11,77.52 L388.83,79.34 L388.41,81.13 L387.88,82.89 L387.22,84.60 L363.30,74.40 Z" fill="#fbfaee"/>
<path d="M387.42,84.10 L386.68,85.78 L385.82,87.40 L384.84,88.96 L383.76,90.44 L363.30,74.40 Z" fill="#fbfaee"/>
<path d="M384.09,90.01 L382.94,91.44 L381.68,92.78 L380.34,94.04 L378.91,95.19 L363.30,74.40 Z" fill="#fbfaee"/>
<path d="M379.34,94.86 L377.86,95.94 L376.30,96.92 L374.68,97.78 L373.00,98.52 L363.30,74.40 Z" fill="#fbfaee"/>
<path d="M373.50,98.32 L371.79,98.98 L370.03,99.51 L368.24,99.93 L366.42,100.21 L363.30,74.40 Z" fill="#f8f2d2"/>
<path d="M366.96,100.14 L365.14,100.34 L363.30,100.40 L361.46,100.34 L359.64,100.14 L363.30,74.40 Z" fill="#f8f2d2"/>
<path d="M360.18,100.21 L358.36,99.93 L356.57,99.51 L354.81,98.98 L353.10,98.32 L363.30,74.40 Z" fill="#f8f2d2"/>
<path d="M353.60,98.52 L351.92,97.78 L350.30,96.92 L348.74,95.94 L347.26,94.86 L363.30,74.40 Z" fill="#e2f6f6"/>
<path d="M347.69,95.19 L346.26,94.04 L344.92,92.78 L343.66,91.44 L342.51,90.01 L363.30,74.40 Z" fill="#c4eef6"/>
<path d="M342.84,90.44 L341.76,88.96 L340.78,87.40 L339.92,85.78 L339.18,84.10 L363.30,74.40 Z" fill="#c4eef6"/>
<path d="M339.38,84.60 L338.72,82.89 L338.19,81.13 L337.77,79.34 L337.49,77.52 L363.30,74.40 Z" fill="#c4eef6"/>
<path d="M337.56,78.06 L337.36,76.24 L337.30,74.40 L337.36,72.56 L337.56,70.74 L363.30,74.40 Z" fill="#c4eef6"/>
<path d="M337.49,71.28 L337.77,69.46 L338.19,67.67 L338.72,65.91 L339.38,64.20 L363.30,74.40 Z" fill="#fbfaee"/>
<path d="M339.18,64.70 L339.92,63.02 L340.78,61.40 L341.76,59.84 L342.84,58.36 L363.30,74.40 Z" fill="#fbfaee"/>
<path d="M342.51,58.79 L343.66,57.36 L344.92,56.02 L346.26,54.76 L347.69,53.61 L363.30,74.40 Z" fill="#fbfaee"/>
<path d="M347.26,53.94 L348.74,52.86 L350.30,51.88 L351.92,51.02 L353.60,50.28 L363.30,74.40 Z" fill="#fbfaee"/>
<path d="M353.10,50.48 L354.81,49.82 L356.57,49.29 L358.36,48.87 L360.18,48.59 L363.30,74.40 Z" fill="#fbfaee"/>
</g>
<filter id="czC" x="-10%" y="-10%" width="120%" height="120%"><feGaussianBlur stdDeviation="0.9"/></filter><path d="M363.30,37.40 L364.27,37.44 L365.23,37.55 L366.19,37.72 L367.13,37.95 L368.06,38.21 L368.99,38.50 L369.90,38.80 L370.80,39.09 L371.71,39.37 L372.62,39.63 L373.52,39.91 L374.40,40.25 L375.25,40.66 L376.08,41.11 L376.89,41.60 L377.68,42.11 L378.46,42.62 L379.23,43.13 L380.01,43.62 L380.80,44.09 L381.57,44.58 L382.31,45.13 L383.01,45.73 L383.67,46.36 L384.30,47.03 L384.91,47.71 L385.52,48.39 L386.11,49.06 L386.72,49.72 L387.34,50.36 L387.94,51.01 L388.50,51.71 L389.00,52.45 L389.45,53.22 L389.88,54.01 L390.28,54.80 L390.67,55.59 L391.06,56.37 L391.46,57.14 L391.88,57.90 L392.28,58.67 L392.62,59.46 L392.90,60.28 L393.13,61.12 L393.33,61.96 L393.50,62.81 L393.66,63.65 L393.82,64.48 L394.01,65.30 L394.21,66.12 L394.44,66.92 L394.69,67.73 L394.97,68.53 L395.25,69.34 L395.52,70.16 L395.78,70.99 L395.99,71.83 L396.16,72.68 L396.26,73.54 L396.30,74.40 L396.29,75.26 L396.25,76.13 L396.20,76.99 L396.12,77.85 L396.02,78.71 L395.89,79.56 L395.75,80.41 L395.58,81.26 L395.39,82.10 L395.18,82.94 L394.96,83.78 L394.78,84.63 L394.60,85.48 L394.43,86.35 L394.25,87.22 L394.04,88.09 L393.80,88.95 L393.51,89.79 L393.16,90.61 L392.74,91.40 L392.29,92.16 L391.81,92.92 L391.32,93.66 L390.81,94.38 L390.27,95.10 L389.72,95.80 L389.15,96.48 L388.57,97.15 L387.96,97.80 L387.34,98.44 L386.69,99.04 L385.99,99.60 L385.25,100.10 L384.48,100.55 L383.69,100.98 L382.90,101.38 L382.11,101.77 L381.33,102.16 L380.56,102.56 L379.80,102.98 L379.00,103.31 L378.11,103.46 L377.15,103.44 L376.16,103.28 L375.16,103.04 L374.19,102.76 L373.26,102.51 L372.38,102.34 L371.56,102.30 L370.81,102.41 L370.06,102.57 L369.31,102.67 L368.55,102.71 L367.78,102.70 L367.02,102.66 L366.26,102.59 L365.51,102.52 L364.77,102.46 L364.03,102.41 L363.30,102.40 L362.57,102.39 L361.83,102.36 L361.10,102.31 L360.37,102.25 L359.65,102.16 L358.92,102.06 L358.20,101.93 L357.48,101.79 L356.76,101.63 L356.05,101.45 L355.33,101.29 L354.59,101.21 L353.82,101.18 L353.02,101.19 L352.20,101.19 L351.38,101.18 L350.56,101.11 L349.77,100.96 L349.01,100.72 L348.30,100.38 L347.73,99.81 L347.38,98.92 L347.24,97.76 L347.29,96.43 L347.47,95.03 L347.72,93.65 L347.94,92.38 L348.07,91.32 L348.02,90.50 L347.74,89.96 L347.34,89.54 L346.95,89.12 L346.57,88.69 L346.20,88.25 L345.85,87.79 L345.50,87.33 L345.17,86.86 L344.85,86.38 L344.54,85.89 L344.25,85.40 L343.97,84.90 L343.70,84.39 L343.44,83.87 L343.20,83.35 L342.97,82.82 L342.76,82.28 L342.56,81.74 L342.38,81.20 L342.21,80.65 L342.05,80.09 L341.91,79.54 L341.78,78.97 L341.67,78.41 L341.57,77.84 L341.49,77.27 L341.42,76.70 L341.37,76.13 L341.33,75.55 L341.31,74.98 L341.30,74.40 L341.04,73.82 L340.28,73.19 L339.11,72.50 L337.64,71.70 L336.04,70.81 L334.46,69.83 L333.08,68.80 L332.05,67.76 L331.47,66.76 L331.42,65.86 L331.61,65.01 L331.73,64.14 L331.80,63.25 L331.85,62.33 L331.89,61.39 L331.96,60.45 L332.08,59.51 L332.28,58.60 L332.58,57.72 L332.99,56.90 L333.44,56.10 L333.87,55.29 L334.29,54.46 L334.70,53.62 L335.14,52.79 L335.59,51.96 L336.08,51.15 L336.62,50.38 L337.20,49.64 L337.84,48.94 L338.50,48.27 L339.15,47.58 L339.79,46.87 L340.43,46.15 L341.08,45.44 L341.76,44.75 L342.46,44.08 L343.20,43.45 L343.98,42.87 L344.80,42.36 L345.65,41.88 L346.50,41.43 L347.37,41.00 L348.25,40.60 L349.14,40.22 L350.04,39.86 L350.95,39.52 L351.87,39.21 L352.79,38.92 L353.72,38.66 L354.66,38.42 L355.61,38.21 L356.56,38.02 L357.51,37.86 L358.47,37.72 L359.43,37.60 L360.40,37.51 L361.36,37.45 L362.33,37.41 Z" fill="#fbf9e6" filter="url(#czC)"/>
<g filter="url(#spb)">
<circle cx="350.00" cy="38.00" r="3.2" fill="#c01422"/>
<circle cx="399.00" cy="63.00" r="2.6" fill="#b81820"/>
<circle cx="406.50" cy="90.50" r="2.6" fill="#e22828"/>
<circle cx="358.50" cy="107.50" r="2.6" fill="#b81c22"/>
<circle cx="330.00" cy="110.00" r="3" fill="#e42a2a"/>
</g>
<line x1="363.30" y1="45.40" x2="363.30" y2="20.40" stroke="#fdfdf8" stroke-width="0.9"/>
<circle cx="363.3" cy="74.4" r="46.78" fill="none" stroke="#808080" stroke-width="0.4" stroke-dasharray="1.0,0.5" opacity="0.85"/>
<circle cx="363.3" cy="74.4" r="39.75" fill="none" stroke="#808080" stroke-width="0.4" stroke-dasharray="1.0,0.5" opacity="0.85"/>
<circle cx="363.3" cy="74.4" r="32.89" fill="none" stroke="#808080" stroke-width="0.4" stroke-dasharray="1.0,0.5" opacity="0.85"/>
<circle cx="363.3" cy="74.4" r="26.16" fill="none" stroke="#808080" stroke-width="0.4" stroke-dasharray="1.0,0.5" opacity="0.85"/>
<circle cx="363.3" cy="74.4" r="19.53" fill="none" stroke="#808080" stroke-width="0.4" stroke-dasharray="1.0,0.5" opacity="0.85"/>
<circle cx="363.3" cy="74.4" r="12.98" fill="none" stroke="#808080" stroke-width="0.4" stroke-dasharray="1.0,0.5" opacity="0.85"/>
<circle cx="363.3" cy="74.4" r="6.48" fill="none" stroke="#808080" stroke-width="0.4" stroke-dasharray="1.0,0.5" opacity="0.85"/>
<line x1="363.3" y1="74.4" x2="363.30" y2="20.40" stroke="#808080" stroke-width="0.45" stroke-dasharray="1.3,0.9" opacity="0.85"/>
<line x1="363.3" y1="74.4" x2="410.07" y2="47.40" stroke="#808080" stroke-width="0.45" stroke-dasharray="1.3,0.9" opacity="0.85"/>
<line x1="363.3" y1="74.4" x2="410.07" y2="101.40" stroke="#808080" stroke-width="0.45" stroke-dasharray="1.3,0.9" opacity="0.85"/>
<line x1="363.3" y1="74.4" x2="363.30" y2="128.40" stroke="#808080" stroke-width="0.45" stroke-dasharray="1.3,0.9" opacity="0.85"/>
<line x1="363.3" y1="74.4" x2="316.53" y2="101.40" stroke="#808080" stroke-width="0.45" stroke-dasharray="1.3,0.9" opacity="0.85"/>
<line x1="363.3" y1="74.4" x2="316.53" y2="47.40" stroke="#808080" stroke-width="0.45" stroke-dasharray="1.3,0.9" opacity="0.85"/>
<path d="M357.10,52.60 L358.70,50.50 L361.90,48.40 L366.30,48.40 L368.40,48.90 L371.60,49.40 L375.80,50.50 L379.00,51.60 L382.20,53.20 L385.40,54.20 L388.60,55.30 L390.20,58.00 L389.60,60.60 L390.70,63.80 L387.50,65.40 L388.00,67.50 L390.70,69.10 L393.80,71.80 L395.20,76.30 L395.20,80.50 L394.40,84.00 L393.00,88.00 L390.70,90.60 L388.60,93.30 L386.40,95.90 L384.30,97.50 L381.10,99.10 L376.90,99.40 L372.60,99.10 L368.40,98.60 L367.30,95.40 L367.80,91.10 L367.30,88.00 L366.80,84.80 L365.20,82.60 L363.40,80.20 L360.80,79.40 L359.60,82.40 L358.20,85.20 L356.80,87.40 L355.00,89.20 L352.30,90.10 L348.60,88.20 L345.90,86.00 L344.30,83.70 L344.10,82.00 L343.60,80.50 L342.80,78.50 L340.60,77.80 L341.00,75.50 L341.60,72.60 L342.20,69.60 L341.60,66.00 L339.20,64.00 L336.00,62.80 L334.00,60.60 L333.20,57.80 L333.20,55.20 L334.10,55.40 L334.70,59.20 L336.40,61.40 L339.20,62.20 L341.90,63.40 L343.70,66.30 L344.40,69.20 L346.60,70.80 L349.00,71.20 L351.50,70.50 L354.00,68.60 L356.00,66.80 L356.60,64.40 L355.90,62.20 L354.90,60.20 L356.10,57.20 L356.70,53.60 Z" fill="#808080" stroke="#303030" stroke-width="0.35"/>
<path d="M310.90,60.80 L313.50,54.70 L317.30,54.40 L320.30,54.20 L319.90,56.50 L316.70,59.40 L314.30,60.40 Z" fill="#7c7c7c" stroke="#222" stroke-width="0.45"/>
<path d="M313.80,55.00 L316.50,57.40 L314.50,59.80" fill="none" stroke="#333" stroke-width="0.5"/>

</g>
<circle cx="363.3" cy="74.4" r="54.0" fill="none" stroke="#4a4a4a" stroke-width="0.55"/>
<ellipse cx="318.3" cy="47.5" rx="0.75" ry="1.3" fill="#333"/>
<text x="363.30" y="17.90" font-size="4.9" font-family="Liberation Sans, sans-serif" text-anchor="middle" textLength="4.06" lengthAdjust="spacingAndGlyphs" fill="#000">0°</text>
<text x="363.30" y="134.40" font-size="4.9" font-family="Liberation Sans, sans-serif" text-anchor="middle" textLength="8.79" lengthAdjust="spacingAndGlyphs" fill="#000">180°</text>
<text x="411.50" y="47.40" font-size="4.9" font-family="Liberation Sans, sans-serif" textLength="9.26" lengthAdjust="spacingAndGlyphs" fill="#000">60°E</text>
<text x="412.20" y="104.00" font-size="4.9" font-family="Liberation Sans, sans-serif" textLength="11.63" lengthAdjust="spacingAndGlyphs" fill="#000">120°E</text>
<text x="314.60" y="48.20" font-size="4.9" font-family="Liberation Sans, sans-serif" text-anchor="end" textLength="10.44" lengthAdjust="spacingAndGlyphs" fill="#000">60°W</text>
<text x="314.40" y="104.00" font-size="4.9" font-family="Liberation Sans, sans-serif" text-anchor="end" textLength="12.80" lengthAdjust="spacingAndGlyphs" fill="#000">120°W</text>
<text x="326.90" y="44.90" font-size="4.9" font-family="Liberation Sans, sans-serif" text-anchor="middle" textLength="9.26" lengthAdjust="spacingAndGlyphs" fill="#000">55°S</text>
<text x="337.70" y="54.20" font-size="4.9" font-family="Liberation Sans, sans-serif" text-anchor="middle" textLength="9.26" lengthAdjust="spacingAndGlyphs" fill="#000">65°S</text>
<text x="347.90" y="62.60" font-size="4.9" font-family="Liberation Sans, sans-serif" text-anchor="middle" textLength="9.26" lengthAdjust="spacingAndGlyphs" fill="#777">75°S</text>
<g clip-path="url(#clipD)">
<filter id="sbD" x="-10%" y="-10%" width="120%" height="120%"><feGaussianBlur stdDeviation="2.0"/></filter>
<g filter="url(#sbD)">
<path d="M479.65,15.00 L483.86,14.55 L488.10,14.40 L492.34,14.55 L496.55,15.00 L494.68,28.17 L491.40,27.82 L488.10,27.70 L484.80,27.82 L481.52,28.17 Z" fill="#f08e6a"/>
<path d="M495.31,14.83 L499.50,15.49 L503.63,16.44 L507.68,17.69 L511.64,19.21 L506.42,31.44 L503.34,30.26 L500.19,29.29 L496.97,28.55 L493.71,28.04 Z" fill="#f08e6a"/>
<path d="M510.48,18.73 L514.36,20.45 L518.10,22.44 L521.69,24.69 L525.12,27.18 L516.92,37.65 L514.25,35.71 L511.45,33.96 L508.54,32.41 L505.52,31.07 Z" fill="#f06a4c"/>
<path d="M524.13,26.42 L527.42,29.08 L530.53,31.97 L533.42,35.08 L536.08,38.37 L525.45,46.36 L523.37,43.79 L521.12,41.38 L518.71,39.13 L516.14,37.05 Z" fill="#f06a4c"/>
<path d="M535.32,37.38 L537.81,40.81 L540.06,44.40 L542.05,48.14 L543.77,52.02 L531.43,56.98 L530.09,53.96 L528.54,51.05 L526.79,48.25 L524.85,45.58 Z" fill="#ee4a3a"/>
<path d="M543.29,50.86 L544.81,54.82 L546.06,58.87 L547.01,63.00 L547.67,67.19 L534.46,68.79 L533.95,65.53 L533.21,62.31 L532.24,59.16 L531.06,56.08 Z" fill="#ee4a3a"/>
<path d="M547.50,65.95 L547.95,70.16 L548.10,74.40 L547.95,78.64 L547.50,82.85 L534.33,80.98 L534.68,77.70 L534.80,74.40 L534.68,71.10 L534.33,67.82 Z" fill="#ee4a3a"/>
<path d="M547.67,81.61 L547.01,85.80 L546.06,89.93 L544.81,93.98 L543.29,97.94 L531.06,92.72 L532.24,89.64 L533.21,86.49 L533.95,83.27 L534.46,80.01 Z" fill="#f06a4c"/>
<path d="M543.77,96.78 L542.05,100.66 L540.06,104.40 L537.81,107.99 L535.32,111.42 L524.85,103.22 L526.79,100.55 L528.54,97.75 L530.09,94.84 L531.43,91.82 Z" fill="#f08e6a"/>
<path d="M536.08,110.43 L533.42,113.72 L530.53,116.83 L527.42,119.72 L524.13,122.38 L516.14,111.75 L518.71,109.67 L521.12,107.42 L523.37,105.01 L525.45,102.44 Z" fill="#f08e6a"/>
<path d="M525.12,121.62 L521.69,124.11 L518.10,126.36 L514.36,128.35 L510.48,130.07 L505.52,117.73 L508.54,116.39 L511.45,114.84 L514.25,113.09 L516.92,111.15 Z" fill="#f2ae88"/>
<path d="M511.64,129.59 L507.68,131.11 L503.63,132.36 L499.50,133.31 L495.31,133.97 L493.71,120.76 L496.97,120.25 L500.19,119.51 L503.34,118.54 L506.42,117.36 Z" fill="#f2ae88"/>
<path d="M496.55,133.80 L492.34,134.25 L488.10,134.40 L483.86,134.25 L479.65,133.80 L481.52,120.63 L484.80,120.98 L488.10,121.10 L491.40,120.98 L494.68,120.63 Z" fill="#f4cc9c"/>
<path d="M480.89,133.97 L476.70,133.31 L472.57,132.36 L468.52,131.11 L464.56,129.59 L469.78,117.36 L472.86,118.54 L476.01,119.51 L479.23,120.25 L482.49,120.76 Z" fill="#f4cc9c"/>
<path d="M465.72,130.07 L461.84,128.35 L458.10,126.36 L454.51,124.11 L451.08,121.62 L459.28,111.15 L461.95,113.09 L464.75,114.84 L467.66,116.39 L470.68,117.73 Z" fill="#f4cc9c"/>
<path d="M452.07,122.38 L448.78,119.72 L445.67,116.83 L442.78,113.72 L440.12,110.43 L450.75,102.44 L452.83,105.01 L455.08,107.42 L457.49,109.67 L460.06,111.75 Z" fill="#f4cc9c"/>
<path d="M440.88,111.42 L438.39,107.99 L436.14,104.40 L434.15,100.66 L432.43,96.78 L444.77,91.82 L446.11,94.84 L447.66,97.75 L449.41,100.55 L451.35,103.22 Z" fill="#f6e4b4"/>
<path d="M432.91,97.94 L431.39,93.98 L430.14,89.93 L429.19,85.80 L428.53,81.61 L441.74,80.01 L442.25,83.27 L442.99,86.49 L443.96,89.64 L445.14,92.72 Z" fill="#f6e4b4"/>
<path d="M428.70,82.85 L428.25,78.64 L428.10,74.40 L428.25,70.16 L428.70,65.95 L441.87,67.82 L441.52,71.10 L441.40,74.40 L441.52,77.70 L441.87,80.98 Z" fill="#f6e4b4"/>
<path d="M428.53,67.19 L429.19,63.00 L430.14,58.87 L431.39,54.82 L432.91,50.86 L445.14,56.08 L443.96,59.16 L442.99,62.31 L442.25,65.53 L441.74,68.79 Z" fill="#f6e4b4"/>
<path d="M432.43,52.02 L434.15,48.14 L436.14,44.40 L438.39,40.81 L440.88,37.38 L451.35,45.58 L449.41,48.25 L447.66,51.05 L446.11,53.96 L444.77,56.98 Z" fill="#f4cc9c"/>
<path d="M440.12,38.37 L442.78,35.08 L445.67,31.97 L448.78,29.08 L452.07,26.42 L460.06,37.05 L457.49,39.13 L455.08,41.38 L452.83,43.79 L450.75,46.36 Z" fill="#f2ae88"/>
<path d="M451.08,27.18 L454.51,24.69 L458.10,22.44 L461.84,20.45 L465.72,18.73 L470.68,31.07 L467.66,32.41 L464.75,33.96 L461.95,35.71 L459.28,37.65 Z" fill="#f2ae88"/>
<path d="M464.56,19.21 L468.52,17.69 L472.57,16.44 L476.70,15.49 L480.89,14.83 L482.49,28.04 L479.23,28.55 L476.01,29.29 L472.86,30.26 L469.78,31.44 Z" fill="#f08e6a"/>
<path d="M481.48,27.87 L484.78,27.52 L488.10,27.40 L491.42,27.52 L494.72,27.87 L493.69,35.10 L490.90,34.80 L488.10,34.70 L485.30,34.80 L482.51,35.10 Z" fill="#ee4a3a"/>
<path d="M493.75,27.74 L497.03,28.26 L500.26,29.00 L503.44,29.97 L506.54,31.17 L503.68,37.88 L501.06,36.87 L498.38,36.05 L495.64,35.42 L492.87,34.99 Z" fill="#f06a4c"/>
<path d="M505.63,30.79 L508.67,32.14 L511.60,33.70 L514.42,35.46 L517.10,37.41 L512.60,43.16 L510.33,41.51 L507.95,40.02 L505.47,38.70 L502.91,37.56 Z" fill="#f06a4c"/>
<path d="M516.32,36.81 L518.90,38.90 L521.33,41.17 L523.60,43.60 L525.69,46.18 L519.85,50.56 L518.08,48.38 L516.17,46.33 L514.12,44.42 L511.94,42.65 Z" fill="#f06a4c"/>
<path d="M525.09,45.40 L527.04,48.08 L528.80,50.90 L530.36,53.83 L531.71,56.87 L524.94,59.59 L523.80,57.03 L522.48,54.55 L520.99,52.17 L519.34,49.90 Z" fill="#ee4a3a"/>
<path d="M531.33,55.96 L532.53,59.06 L533.50,62.24 L534.24,65.47 L534.76,68.75 L527.51,69.63 L527.08,66.86 L526.45,64.12 L525.63,61.44 L524.62,58.82 Z" fill="#e82a2c"/>
<path d="M534.63,67.78 L534.98,71.08 L535.10,74.40 L534.98,77.72 L534.63,81.02 L527.40,79.99 L527.70,77.20 L527.80,74.40 L527.70,71.60 L527.40,68.81 Z" fill="#e82a2c"/>
<path d="M534.76,80.05 L534.24,83.33 L533.50,86.56 L532.53,89.74 L531.33,92.84 L524.62,89.98 L525.63,87.36 L526.45,84.68 L527.08,81.94 L527.51,79.17 Z" fill="#ee4a3a"/>
<path d="M531.71,91.93 L530.36,94.97 L528.80,97.90 L527.04,100.72 L525.09,103.40 L519.34,98.90 L520.99,96.63 L522.48,94.25 L523.80,91.77 L524.94,89.21 Z" fill="#f06a4c"/>
<path d="M525.69,102.62 L523.60,105.20 L521.33,107.63 L518.90,109.90 L516.32,111.99 L511.94,106.15 L514.12,104.38 L516.17,102.47 L518.08,100.42 L519.85,98.24 Z" fill="#f08e6a"/>
<path d="M517.10,111.39 L514.42,113.34 L511.60,115.10 L508.67,116.66 L505.63,118.01 L502.91,111.24 L505.47,110.10 L507.95,108.78 L510.33,107.29 L512.60,105.64 Z" fill="#f2ae88"/>
<path d="M506.54,117.63 L503.44,118.83 L500.26,119.80 L497.03,120.54 L493.75,121.06 L492.87,113.81 L495.64,113.38 L498.38,112.75 L501.06,111.93 L503.68,110.92 Z" fill="#f2ae88"/>
<path d="M494.72,120.93 L491.42,121.28 L488.10,121.40 L484.78,121.28 L481.48,120.93 L482.51,113.70 L485.30,114.00 L488.10,114.10 L490.90,114.00 L493.69,113.70 Z" fill="#f2ae88"/>
<path d="M482.45,121.06 L479.17,120.54 L475.94,119.80 L472.76,118.83 L469.66,117.63 L472.52,110.92 L475.14,111.93 L477.82,112.75 L480.56,113.38 L483.33,113.81 Z" fill="#f4cc9c"/>
<path d="M470.57,118.01 L467.53,116.66 L464.60,115.10 L461.78,113.34 L459.10,111.39 L463.60,105.64 L465.87,107.29 L468.25,108.78 L470.73,110.10 L473.29,111.24 Z" fill="#f4cc9c"/>
<path d="M459.88,111.99 L457.30,109.90 L454.87,107.63 L452.60,105.20 L450.51,102.62 L456.35,98.24 L458.12,100.42 L460.03,102.47 L462.08,104.38 L464.26,106.15 Z" fill="#f6e4b4"/>
<path d="M451.11,103.40 L449.16,100.72 L447.40,97.90 L445.84,94.97 L444.49,91.93 L451.26,89.21 L452.40,91.77 L453.72,94.25 L455.21,96.63 L456.86,98.90 Z" fill="#f8f2d2"/>
<path d="M444.87,92.84 L443.67,89.74 L442.70,86.56 L441.96,83.33 L441.44,80.05 L448.69,79.17 L449.12,81.94 L449.75,84.68 L450.57,87.36 L451.58,89.98 Z" fill="#f8f2d2"/>
<path d="M441.57,81.02 L441.22,77.72 L441.10,74.40 L441.22,71.08 L441.57,67.78 L448.80,68.81 L448.50,71.60 L448.40,74.40 L448.50,77.20 L448.80,79.99 Z" fill="#f8f2d2"/>
<path d="M441.44,68.75 L441.96,65.47 L442.70,62.24 L443.67,59.06 L444.87,55.96 L451.58,58.82 L450.57,61.44 L449.75,64.12 L449.12,66.86 L448.69,69.63 Z" fill="#f6e4b4"/>
<path d="M444.49,56.87 L445.84,53.83 L447.40,50.90 L449.16,48.08 L451.11,45.40 L456.86,49.90 L455.21,52.17 L453.72,54.55 L452.40,57.03 L451.26,59.59 Z" fill="#f4cc9c"/>
<path d="M450.51,46.18 L452.60,43.60 L454.87,41.17 L457.30,38.90 L459.88,36.81 L464.26,42.65 L462.08,44.42 L460.03,46.33 L458.12,48.38 L456.35,50.56 Z" fill="#f2ae88"/>
<path d="M459.10,37.41 L461.78,35.46 L464.60,33.70 L467.53,32.14 L470.57,30.79 L473.29,37.56 L470.73,38.70 L468.25,40.02 L465.87,41.51 L463.60,43.16 Z" fill="#f08e6a"/>
<path d="M469.66,31.17 L472.76,29.97 L475.94,29.00 L479.17,28.26 L482.45,27.74 L483.33,34.99 L480.56,35.42 L477.82,36.05 L475.14,36.87 L472.52,37.88 Z" fill="#ee4a3a"/>
<path d="M482.46,34.80 L485.27,34.50 L488.10,34.40 L490.93,34.50 L493.74,34.80 L492.71,42.03 L490.41,41.78 L488.10,41.70 L485.79,41.78 L483.49,42.03 Z" fill="#f06a4c"/>
<path d="M492.91,34.69 L495.70,35.13 L498.45,35.76 L501.16,36.59 L503.79,37.61 L500.93,44.32 L498.77,43.49 L496.56,42.81 L494.31,42.30 L492.03,41.94 Z" fill="#f08e6a"/>
<path d="M503.02,37.29 L505.60,38.43 L508.10,39.76 L510.50,41.26 L512.78,42.92 L508.28,48.67 L506.41,47.31 L504.45,46.08 L502.41,45.00 L500.30,44.06 Z" fill="#f08e6a"/>
<path d="M512.12,42.41 L514.32,44.19 L516.38,46.12 L518.31,48.18 L520.09,50.38 L514.25,54.77 L512.80,52.97 L511.22,51.28 L509.53,49.70 L507.73,48.25 Z" fill="#f08e6a"/>
<path d="M519.58,49.72 L521.24,52.00 L522.74,54.40 L524.07,56.90 L525.21,59.48 L518.44,62.20 L517.50,60.09 L516.42,58.05 L515.19,56.09 L513.83,54.22 Z" fill="#f08e6a"/>
<path d="M524.89,58.71 L525.91,61.34 L526.74,64.05 L527.37,66.80 L527.81,69.59 L520.56,70.47 L520.20,68.19 L519.69,65.94 L519.01,63.73 L518.18,61.57 Z" fill="#ee4a3a"/>
<path d="M527.70,68.76 L528.00,71.57 L528.10,74.40 L528.00,77.23 L527.70,80.04 L520.47,79.01 L520.72,76.71 L520.80,74.40 L520.72,72.09 L520.47,69.79 Z" fill="#ee4a3a"/>
<path d="M527.81,79.21 L527.37,82.00 L526.74,84.75 L525.91,87.46 L524.89,90.09 L518.18,87.23 L519.01,85.07 L519.69,82.86 L520.20,80.61 L520.56,78.33 Z" fill="#f06a4c"/>
<path d="M525.21,89.32 L524.07,91.90 L522.74,94.40 L521.24,96.80 L519.58,99.08 L513.83,94.58 L515.19,92.71 L516.42,90.75 L517.50,88.71 L518.44,86.60 Z" fill="#f08e6a"/>
<path d="M520.09,98.42 L518.31,100.62 L516.38,102.68 L514.32,104.61 L512.12,106.39 L507.73,100.55 L509.53,99.10 L511.22,97.52 L512.80,95.83 L514.25,94.03 Z" fill="#f2ae88"/>
<path d="M512.78,105.88 L510.50,107.54 L508.10,109.04 L505.60,110.37 L503.02,111.51 L500.30,104.74 L502.41,103.80 L504.45,102.72 L506.41,101.49 L508.28,100.13 Z" fill="#f2ae88"/>
<path d="M503.79,111.19 L501.16,112.21 L498.45,113.04 L495.70,113.67 L492.91,114.11 L492.03,106.86 L494.31,106.50 L496.56,105.99 L498.77,105.31 L500.93,104.48 Z" fill="#f08e6a"/>
<path d="M493.74,114.00 L490.93,114.30 L488.10,114.40 L485.27,114.30 L482.46,114.00 L483.49,106.77 L485.79,107.02 L488.10,107.10 L490.41,107.02 L492.71,106.77 Z" fill="#f06a4c"/>
<path d="M483.29,114.11 L480.50,113.67 L477.75,113.04 L475.04,112.21 L472.41,111.19 L475.27,104.48 L477.43,105.31 L479.64,105.99 L481.89,106.50 L484.17,106.86 Z" fill="#ee4a3a"/>
<path d="M473.18,111.51 L470.60,110.37 L468.10,109.04 L465.70,107.54 L463.42,105.88 L467.92,100.13 L469.79,101.49 L471.75,102.72 L473.79,103.80 L475.90,104.74 Z" fill="#f4cc9c"/>
<path d="M464.08,106.39 L461.88,104.61 L459.82,102.68 L457.89,100.62 L456.11,98.42 L461.95,94.03 L463.40,95.83 L464.98,97.52 L466.67,99.10 L468.47,100.55 Z" fill="#f8f2d2"/>
<path d="M456.62,99.08 L454.96,96.80 L453.46,94.40 L452.13,91.90 L450.99,89.32 L457.76,86.60 L458.70,88.71 L459.78,90.75 L461.01,92.71 L462.37,94.58 Z" fill="#f8f2d2"/>
<path d="M451.31,90.09 L450.29,87.46 L449.46,84.75 L448.83,82.00 L448.39,79.21 L455.64,78.33 L456.00,80.61 L456.51,82.86 L457.19,85.07 L458.02,87.23 Z" fill="#e2f6f6"/>
<path d="M448.50,80.04 L448.20,77.23 L448.10,74.40 L448.20,71.57 L448.50,68.76 L455.73,69.79 L455.48,72.09 L455.40,74.40 L455.48,76.71 L455.73,79.01 Z" fill="#f8f2d2"/>
<path d="M448.39,69.59 L448.83,66.80 L449.46,64.05 L450.29,61.34 L451.31,58.71 L458.02,61.57 L457.19,63.73 L456.51,65.94 L456.00,68.19 L455.64,70.47 Z" fill="#f8f2d2"/>
<path d="M450.99,59.48 L452.13,56.90 L453.46,54.40 L454.96,52.00 L456.62,49.72 L462.37,54.22 L461.01,56.09 L459.78,58.05 L458.70,60.09 L457.76,62.20 Z" fill="#f6e4b4"/>
<path d="M456.11,50.38 L457.89,48.18 L459.82,46.12 L461.88,44.19 L464.08,42.41 L468.47,48.25 L466.67,49.70 L464.98,51.28 L463.40,52.97 L461.95,54.77 Z" fill="#f4cc9c"/>
<path d="M463.42,42.92 L465.70,41.26 L468.10,39.76 L470.60,38.43 L473.18,37.29 L475.90,44.06 L473.79,45.00 L471.75,46.08 L469.79,47.31 L467.92,48.67 Z" fill="#f2ae88"/>
<path d="M472.41,37.61 L475.04,36.59 L477.75,35.76 L480.50,35.13 L483.29,34.69 L484.17,41.94 L481.89,42.30 L479.64,42.81 L477.43,43.49 L475.27,44.32 Z" fill="#f06a4c"/>
<path d="M483.45,41.73 L485.77,41.48 L488.10,41.40 L490.43,41.48 L492.75,41.73 L491.72,48.96 L489.92,48.76 L488.10,48.70 L486.28,48.76 L484.48,48.96 Z" fill="#f4cc9c"/>
<path d="M492.06,41.64 L494.37,42.00 L496.64,42.52 L498.87,43.21 L501.05,44.05 L498.18,50.76 L496.49,50.11 L494.75,49.58 L492.98,49.17 L491.19,48.89 Z" fill="#f4cc9c"/>
<path d="M500.41,43.78 L502.54,44.73 L504.60,45.82 L506.58,47.06 L508.46,48.43 L503.96,54.18 L502.49,53.11 L500.95,52.14 L499.35,51.29 L497.69,50.55 Z" fill="#f2ae88"/>
<path d="M507.91,48.01 L509.73,49.48 L511.43,51.07 L513.02,52.77 L514.49,54.59 L508.65,58.97 L507.51,57.56 L506.27,56.23 L504.94,54.99 L503.53,53.85 Z" fill="#f08e6a"/>
<path d="M514.07,54.04 L515.44,55.92 L516.68,57.90 L517.77,59.96 L518.72,62.09 L511.95,64.81 L511.21,63.15 L510.36,61.55 L509.39,60.01 L508.32,58.54 Z" fill="#f08e6a"/>
<path d="M518.45,61.45 L519.29,63.63 L519.98,65.86 L520.50,68.13 L520.86,70.44 L513.61,71.31 L513.33,69.52 L512.92,67.75 L512.39,66.01 L511.74,64.32 Z" fill="#f06a4c"/>
<path d="M520.77,69.75 L521.02,72.07 L521.10,74.40 L521.02,76.73 L520.77,79.05 L513.54,78.02 L513.74,76.22 L513.80,74.40 L513.74,72.58 L513.54,70.78 Z" fill="#f08e6a"/>
<path d="M520.86,78.36 L520.50,80.67 L519.98,82.94 L519.29,85.17 L518.45,87.35 L511.74,84.48 L512.39,82.79 L512.92,81.05 L513.33,79.28 L513.61,77.49 Z" fill="#f2ae88"/>
<path d="M518.72,86.71 L517.77,88.84 L516.68,90.90 L515.44,92.88 L514.07,94.76 L508.32,90.26 L509.39,88.79 L510.36,87.25 L511.21,85.65 L511.95,83.99 Z" fill="#f4cc9c"/>
<path d="M514.49,94.21 L513.02,96.03 L511.43,97.73 L509.73,99.32 L507.91,100.79 L503.53,94.95 L504.94,93.81 L506.27,92.57 L507.51,91.24 L508.65,89.83 Z" fill="#f6e4b4"/>
<path d="M508.46,100.37 L506.58,101.74 L504.60,102.98 L502.54,104.07 L500.41,105.02 L497.69,98.25 L499.35,97.51 L500.95,96.66 L502.49,95.69 L503.96,94.62 Z" fill="#f2ae88"/>
<path d="M501.05,104.75 L498.87,105.59 L496.64,106.28 L494.37,106.80 L492.06,107.16 L491.19,99.91 L492.98,99.63 L494.75,99.22 L496.49,98.69 L498.18,98.04 Z" fill="#f06a4c"/>
<path d="M492.75,107.07 L490.43,107.32 L488.10,107.40 L485.77,107.32 L483.45,107.07 L484.48,99.84 L486.28,100.04 L488.10,100.10 L489.92,100.04 L491.72,99.84 Z" fill="#f06a4c"/>
<path d="M484.14,107.16 L481.83,106.80 L479.56,106.28 L477.33,105.59 L475.15,104.75 L478.02,98.04 L479.71,98.69 L481.45,99.22 L483.22,99.63 L485.01,99.91 Z" fill="#f08e6a"/>
<path d="M475.79,105.02 L473.66,104.07 L471.60,102.98 L469.62,101.74 L467.74,100.37 L472.24,94.62 L473.71,95.69 L475.25,96.66 L476.85,97.51 L478.51,98.25 Z" fill="#e2f6f6"/>
<path d="M468.29,100.79 L466.47,99.32 L464.77,97.73 L463.18,96.03 L461.71,94.21 L467.55,89.83 L468.69,91.24 L469.93,92.57 L471.26,93.81 L472.67,94.95 Z" fill="#c4eef6"/>
<path d="M462.13,94.76 L460.76,92.88 L459.52,90.90 L458.43,88.84 L457.48,86.71 L464.25,83.99 L464.99,85.65 L465.84,87.25 L466.81,88.79 L467.88,90.26 Z" fill="#c4eef6"/>
<path d="M457.75,87.35 L456.91,85.17 L456.22,82.94 L455.70,80.67 L455.34,78.36 L462.59,77.49 L462.87,79.28 L463.28,81.05 L463.81,82.79 L464.46,84.48 Z" fill="#c4eef6"/>
<path d="M455.43,79.05 L455.18,76.73 L455.10,74.40 L455.18,72.07 L455.43,69.75 L462.66,70.78 L462.46,72.58 L462.40,74.40 L462.46,76.22 L462.66,78.02 Z" fill="#e2f6f6"/>
<path d="M455.34,70.44 L455.70,68.13 L456.22,65.86 L456.91,63.63 L457.75,61.45 L464.46,64.32 L463.81,66.01 L463.28,67.75 L462.87,69.52 L462.59,71.31 Z" fill="#fbfaee"/>
<path d="M457.48,62.09 L458.43,59.96 L459.52,57.90 L460.76,55.92 L462.13,54.04 L467.88,58.54 L466.81,60.01 L465.84,61.55 L464.99,63.15 L464.25,64.81 Z" fill="#f8f2d2"/>
<path d="M461.71,54.59 L463.18,52.77 L464.77,51.07 L466.47,49.48 L468.29,48.01 L472.67,53.85 L471.26,54.99 L469.93,56.23 L468.69,57.56 L467.55,58.97 Z" fill="#f8f2d2"/>
<path d="M467.74,48.43 L469.62,47.06 L471.60,45.82 L473.66,44.73 L475.79,43.78 L478.51,50.55 L476.85,51.29 L475.25,52.14 L473.71,53.11 L472.24,54.18 Z" fill="#f8f2d2"/>
<path d="M475.15,44.05 L477.33,43.21 L479.56,42.52 L481.83,42.00 L484.14,41.64 L485.01,48.89 L483.22,49.17 L481.45,49.58 L479.71,50.11 L478.02,50.76 Z" fill="#f4cc9c"/>
<path d="M484.44,48.66 L486.26,48.46 L488.10,48.40 L489.94,48.46 L491.76,48.66 L488.10,74.40 Z" fill="#f8f2d2"/>
<path d="M491.22,48.59 L493.04,48.87 L494.83,49.29 L496.59,49.82 L498.30,50.48 L488.10,74.40 Z" fill="#f8f2d2"/>
<path d="M497.80,50.28 L499.48,51.02 L501.10,51.88 L502.66,52.86 L504.14,53.94 L488.10,74.40 Z" fill="#f8f2d2"/>
<path d="M503.71,53.61 L505.14,54.76 L506.48,56.02 L507.74,57.36 L508.89,58.79 L488.10,74.40 Z" fill="#f8f2d2"/>
<path d="M508.56,58.36 L509.64,59.84 L510.62,61.40 L511.48,63.02 L512.22,64.70 L488.10,74.40 Z" fill="#f8f2d2"/>
<path d="M512.02,64.20 L512.68,65.91 L513.21,67.67 L513.63,69.46 L513.91,71.28 L488.10,74.40 Z" fill="#f8f2d2"/>
<path d="M513.84,70.74 L514.04,72.56 L514.10,74.40 L514.04,76.24 L513.84,78.06 L488.10,74.40 Z" fill="#f8f2d2"/>
<path d="M513.91,77.52 L513.63,79.34 L513.21,81.13 L512.68,82.89 L512.02,84.60 L488.10,74.40 Z" fill="#f8f2d2"/>
<path d="M512.22,84.10 L511.48,85.78 L510.62,87.40 L509.64,88.96 L508.56,90.44 L488.10,74.40 Z" fill="#f8f2d2"/>
<path d="M508.89,90.01 L507.74,91.44 L506.48,92.78 L505.14,94.04 L503.71,95.19 L488.10,74.40 Z" fill="#f8f2d2"/>
<path d="M504.14,94.86 L502.66,95.94 L501.10,96.92 L499.48,97.78 L497.80,98.52 L488.10,74.40 Z" fill="#f8f2d2"/>
<path d="M498.30,98.32 L496.59,98.98 L494.83,99.51 L493.04,99.93 L491.22,100.21 L488.10,74.40 Z" fill="#f6e4b4"/>
<path d="M491.76,100.14 L489.94,100.34 L488.10,100.40 L486.26,100.34 L484.44,100.14 L488.10,74.40 Z" fill="#f6e4b4"/>
<path d="M484.98,100.21 L483.16,99.93 L481.37,99.51 L479.61,98.98 L477.90,98.32 L488.10,74.40 Z" fill="#f6e4b4"/>
<path d="M478.40,98.52 L476.72,97.78 L475.10,96.92 L473.54,95.94 L472.06,94.86 L488.10,74.40 Z" fill="#e2f6f6"/>
<path d="M472.49,95.19 L471.06,94.04 L469.72,92.78 L468.46,91.44 L467.31,90.01 L488.10,74.40 Z" fill="#e2f6f6"/>
<path d="M467.64,90.44 L466.56,88.96 L465.58,87.40 L464.72,85.78 L463.98,84.10 L488.10,74.40 Z" fill="#e2f6f6"/>
<path d="M464.18,84.60 L463.52,82.89 L462.99,81.13 L462.57,79.34 L462.29,77.52 L488.10,74.40 Z" fill="#e2f6f6"/>
<path d="M462.36,78.06 L462.16,76.24 L462.10,74.40 L462.16,72.56 L462.36,70.74 L488.10,74.40 Z" fill="#e2f6f6"/>
<path d="M462.29,71.28 L462.57,69.46 L462.99,67.67 L463.52,65.91 L464.18,64.20 L488.10,74.40 Z" fill="#fbfaee"/>
<path d="M463.98,64.70 L464.72,63.02 L465.58,61.40 L466.56,59.84 L467.64,58.36 L488.10,74.40 Z" fill="#fbfaee"/>
<path d="M467.31,58.79 L468.46,57.36 L469.72,56.02 L471.06,54.76 L472.49,53.61 L488.10,74.40 Z" fill="#fbfaee"/>
<path d="M472.06,53.94 L473.54,52.86 L475.10,51.88 L476.72,51.02 L478.40,50.28 L488.10,74.40 Z" fill="#fbfaee"/>
<path d="M477.90,50.48 L479.61,49.82 L481.37,49.29 L483.16,48.87 L484.98,48.59 L488.10,74.40 Z" fill="#fbfaee"/>
</g>
<filter id="czD" x="-10%" y="-10%" width="120%" height="120%"><feGaussianBlur stdDeviation="0.9"/></filter><path d="M488.10,39.40 L489.02,39.44 L489.93,39.54 L490.83,39.71 L491.72,39.94 L492.60,40.20 L493.47,40.48 L494.33,40.77 L495.19,41.05 L496.04,41.32 L496.90,41.56 L497.75,41.82 L498.58,42.15 L499.38,42.54 L500.16,42.98 L500.92,43.45 L501.66,43.94 L502.40,44.43 L503.13,44.91 L503.86,45.38 L504.60,45.82 L505.34,46.26 L506.07,46.72 L506.79,47.20 L507.50,47.70 L508.19,48.22 L508.87,48.75 L509.53,49.31 L510.18,49.88 L510.82,50.46 L511.43,51.07 L512.02,51.70 L512.55,52.38 L513.04,53.10 L513.48,53.85 L513.88,54.62 L514.27,55.39 L514.64,56.16 L515.02,56.92 L515.41,57.67 L515.81,58.40 L516.22,59.13 L516.61,59.87 L516.98,60.62 L517.33,61.38 L517.66,62.15 L517.97,62.93 L518.26,63.72 L518.53,64.51 L518.78,65.31 L519.01,66.12 L519.22,66.93 L519.40,67.75 L519.56,68.57 L519.71,69.39 L519.83,70.22 L519.92,71.06 L520.00,71.89 L520.06,72.73 L520.09,73.56 L520.10,74.40 L520.11,75.24 L520.15,76.08 L520.21,76.93 L520.27,77.78 L520.32,78.64 L520.35,79.51 L520.34,80.38 L520.29,81.24 L520.16,82.10 L519.98,82.94 L519.74,83.77 L519.48,84.60 L519.21,85.42 L518.91,86.23 L518.59,87.03 L518.25,87.82 L517.89,88.61 L517.50,89.38 L517.10,90.15 L516.68,90.90 L516.24,91.64 L515.78,92.37 L515.30,93.09 L514.80,93.80 L514.28,94.49 L513.75,95.17 L513.19,95.83 L512.62,96.48 L512.04,97.12 L511.43,97.73 L510.80,98.32 L510.12,98.85 L509.40,99.34 L508.65,99.78 L507.88,100.18 L507.11,100.57 L506.34,100.94 L505.58,101.32 L504.83,101.71 L504.10,102.11 L503.33,102.46 L502.50,102.66 L501.61,102.72 L500.69,102.69 L499.77,102.58 L498.86,102.44 L497.99,102.32 L497.15,102.25 L496.36,102.28 L495.61,102.41 L494.86,102.57 L494.11,102.67 L493.35,102.71 L492.58,102.70 L491.82,102.66 L491.06,102.59 L490.31,102.52 L489.57,102.46 L488.83,102.41 L488.10,102.40 L487.37,102.41 L486.63,102.46 L485.89,102.52 L485.14,102.59 L484.38,102.66 L483.62,102.70 L482.85,102.71 L482.09,102.67 L481.34,102.57 L480.59,102.41 L479.85,102.25 L479.08,102.16 L478.28,102.13 L477.46,102.12 L476.62,102.12 L475.77,102.09 L474.93,102.01 L474.11,101.85 L473.33,101.60 L472.60,101.25 L472.02,100.64 L471.68,99.68 L471.59,98.42 L471.71,96.96 L471.97,95.42 L472.30,93.91 L472.61,92.54 L472.80,91.39 L472.80,90.52 L472.54,89.96 L472.14,89.54 L471.75,89.12 L471.37,88.69 L471.00,88.25 L470.65,87.79 L470.30,87.33 L469.97,86.86 L469.65,86.38 L469.34,85.89 L469.05,85.40 L468.77,84.90 L468.50,84.39 L468.24,83.87 L468.00,83.35 L467.77,82.82 L467.56,82.28 L467.36,81.74 L467.18,81.20 L467.01,80.65 L466.85,80.09 L466.66,79.55 L466.39,79.01 L466.06,78.48 L465.69,77.95 L465.30,77.40 L464.92,76.84 L464.58,76.25 L464.32,75.65 L464.16,75.03 L464.10,74.40 L463.81,73.76 L462.99,73.08 L461.71,72.32 L460.11,71.46 L458.36,70.48 L456.64,69.42 L455.13,68.29 L454.01,67.15 L453.38,66.06 L453.33,65.08 L453.56,64.17 L453.77,63.25 L453.97,62.31 L454.17,61.37 L454.38,60.43 L454.61,59.49 L454.89,58.56 L455.22,57.65 L455.61,56.76 L456.06,55.90 L456.55,55.07 L457.07,54.25 L457.61,53.44 L458.17,52.65 L458.75,51.88 L459.35,51.12 L459.96,50.37 L460.60,49.64 L461.26,48.93 L461.94,48.24 L462.65,47.58 L463.41,46.97 L464.20,46.42 L465.03,45.91 L465.88,45.44 L466.74,45.00 L467.59,44.56 L468.44,44.13 L469.28,43.68 L470.10,43.22 L470.93,42.78 L471.80,42.41 L472.69,42.09 L473.60,41.83 L474.51,41.60 L475.43,41.40 L476.35,41.21 L477.25,41.02 L478.15,40.82 L479.04,40.59 L479.93,40.37 L480.82,40.16 L481.72,39.99 L482.62,39.83 L483.53,39.70 L484.44,39.59 L485.35,39.51 L486.27,39.45 L487.18,39.41 Z" fill="#faf7e2" filter="url(#czD)"/>
<g filter="url(#spb)">
<circle cx="538.50" cy="69.00" r="2.2" fill="#b01828"/>
<circle cx="507.50" cy="106.60" r="2.6" fill="#e62828"/>
<circle cx="474.00" cy="38.50" r="3.5" fill="#ea3030"/>
</g>
<line x1="464.72" y1="47.03" x2="453.03" y2="33.34" stroke="#fdfdf8" stroke-width="0.9"/>
<line x1="488.10" y1="41.40" x2="488.10" y2="20.40" stroke="#fdf8f0" stroke-width="0.6" opacity="0.7"/>
<circle cx="488.1" cy="74.4" r="46.78" fill="none" stroke="#808080" stroke-width="0.4" stroke-dasharray="1.0,0.5" opacity="0.85"/>
<circle cx="488.1" cy="74.4" r="39.75" fill="none" stroke="#808080" stroke-width="0.4" stroke-dasharray="1.0,0.5" opacity="0.85"/>
<circle cx="488.1" cy="74.4" r="32.89" fill="none" stroke="#808080" stroke-width="0.4" stroke-dasharray="1.0,0.5" opacity="0.85"/>
<circle cx="488.1" cy="74.4" r="26.16" fill="none" stroke="#808080" stroke-width="0.4" stroke-dasharray="1.0,0.5" opacity="0.85"/>
<circle cx="488.1" cy="74.4" r="19.53" fill="none" stroke="#808080" stroke-width="0.4" stroke-dasharray="1.0,0.5" opacity="0.85"/>
<circle cx="488.1" cy="74.4" r="12.98" fill="none" stroke="#808080" stroke-width="0.4" stroke-dasharray="1.0,0.5" opacity="0.85"/>
<circle cx="488.1" cy="74.4" r="6.48" fill="none" stroke="#808080" stroke-width="0.4" stroke-dasharray="1.0,0.5" opacity="0.85"/>
<line x1="488.1" y1="74.4" x2="488.10" y2="20.40" stroke="#808080" stroke-width="0.45" stroke-dasharray="1.3,0.9" opacity="0.85"/>
<line x1="488.1" y1="74.4" x2="534.87" y2="47.40" stroke="#808080" stroke-width="0.45" stroke-dasharray="1.3,0.9" opacity="0.85"/>
<line x1="488.1" y1="74.4" x2="534.87" y2="101.40" stroke="#808080" stroke-width="0.45" stroke-dasharray="1.3,0.9" opacity="0.85"/>
<line x1="488.1" y1="74.4" x2="488.10" y2="128.40" stroke="#808080" stroke-width="0.45" stroke-dasharray="1.3,0.9" opacity="0.85"/>
<line x1="488.1" y1="74.4" x2="441.33" y2="101.40" stroke="#808080" stroke-width="0.45" stroke-dasharray="1.3,0.9" opacity="0.85"/>
<line x1="488.1" y1="74.4" x2="441.33" y2="47.40" stroke="#808080" stroke-width="0.45" stroke-dasharray="1.3,0.9" opacity="0.85"/>
<path d="M481.90,52.60 L483.50,50.50 L486.70,48.40 L491.10,48.40 L493.20,48.90 L496.40,49.40 L500.60,50.50 L503.80,51.60 L507.00,53.20 L510.20,54.20 L513.40,55.30 L515.00,58.00 L514.40,60.60 L515.50,63.80 L512.30,65.40 L512.80,67.50 L515.50,69.10 L518.60,71.80 L520.00,76.30 L520.00,80.50 L519.20,84.00 L517.80,88.00 L515.50,90.60 L513.40,93.30 L511.20,95.90 L509.10,97.50 L505.90,99.10 L501.70,99.40 L497.40,99.10 L493.20,98.60 L492.10,95.40 L492.60,91.10 L492.10,88.00 L491.60,84.80 L490.00,82.60 L488.20,80.20 L485.60,79.40 L484.40,82.40 L483.00,85.20 L481.60,87.40 L479.80,89.20 L477.10,90.10 L473.40,88.20 L470.70,86.00 L469.10,83.70 L468.90,82.00 L468.40,80.50 L467.60,78.50 L465.40,77.80 L465.80,75.50 L466.40,72.60 L467.00,69.60 L466.40,66.00 L464.00,64.00 L460.80,62.80 L458.80,60.60 L458.00,57.80 L458.00,55.20 L458.90,55.40 L459.50,59.20 L461.20,61.40 L464.00,62.20 L466.70,63.40 L468.50,66.30 L469.20,69.20 L471.40,70.80 L473.80,71.20 L476.30,70.50 L478.80,68.60 L480.80,66.80 L481.40,64.40 L480.70,62.20 L479.70,60.20 L480.90,57.20 L481.50,53.60 Z" fill="#808080" stroke="#303030" stroke-width="0.35"/>
<path d="M435.70,60.80 L438.30,54.70 L442.10,54.40 L445.10,54.20 L444.70,56.50 L441.50,59.40 L439.10,60.40 Z" fill="#7c7c7c" stroke="#222" stroke-width="0.45"/>
<path d="M438.60,55.00 L441.30,57.40 L439.30,59.80" fill="none" stroke="#333" stroke-width="0.5"/>

</g>
<circle cx="488.1" cy="74.4" r="54.0" fill="none" stroke="#4a4a4a" stroke-width="0.55"/>
<ellipse cx="443.1" cy="47.5" rx="0.75" ry="1.3" fill="#333"/>
<text x="488.10" y="17.90" font-size="4.9" font-family="Liberation Sans, sans-serif" text-anchor="middle" textLength="4.06" lengthAdjust="spacingAndGlyphs" fill="#000">0°</text>
<text x="488.10" y="134.40" font-size="4.9" font-family="Liberation Sans, sans-serif" text-anchor="middle" textLength="8.79" lengthAdjust="spacingAndGlyphs" fill="#000">180°</text>
<text x="536.30" y="47.40" font-size="4.9" font-family="Liberation Sans, sans-serif" textLength="9.26" lengthAdjust="spacingAndGlyphs" fill="#000">60°E</text>
<text x="537.00" y="104.00" font-size="4.9" font-family="Liberation Sans, sans-serif" textLength="11.63" lengthAdjust="spacingAndGlyphs" fill="#000">120°E</text>
<text x="439.40" y="48.20" font-size="4.9" font-family="Liberation Sans, sans-serif" text-anchor="end" textLength="10.44" lengthAdjust="spacingAndGlyphs" fill="#000">60°W</text>
<text x="439.20" y="104.00" font-size="4.9" font-family="Liberation Sans, sans-serif" text-anchor="end" textLength="12.80" lengthAdjust="spacingAndGlyphs" fill="#000">120°W</text>
<text x="451.70" y="44.90" font-size="4.9" font-family="Liberation Sans, sans-serif" text-anchor="middle" textLength="9.26" lengthAdjust="spacingAndGlyphs" fill="#000">55°S</text>
<text x="462.50" y="54.20" font-size="4.9" font-family="Liberation Sans, sans-serif" text-anchor="middle" textLength="9.26" lengthAdjust="spacingAndGlyphs" fill="#000">65°S</text>
<text x="472.70" y="62.60" font-size="4.9" font-family="Liberation Sans, sans-serif" text-anchor="middle" textLength="9.26" lengthAdjust="spacingAndGlyphs" fill="#777">75°S</text>
<text x="8.4" y="13.2" font-size="6.6" font-family="Liberation Sans, sans-serif" font-weight="bold" fill="#111">A</text>
<text x="132.5" y="13.2" font-size="6.6" font-family="Liberation Sans, sans-serif" font-weight="bold" fill="#111">B</text>
<text x="309.5" y="13.2" font-size="6.6" font-family="Liberation Sans, sans-serif" font-weight="bold" fill="#111">C</text>
<text x="433.6" y="13.2" font-size="6.6" font-family="Liberation Sans, sans-serif" font-weight="bold" fill="#111">D</text>
<text x="66.4" y="13.2" font-size="6.8" textLength="50.0" lengthAdjust="spacingAndGlyphs" font-family="Liberation Sans, sans-serif" font-weight="bold" fill="#111">CESM2-NUDGE</text>
<text x="152.3" y="13.2" font-size="6.8" textLength="88.7" lengthAdjust="spacingAndGlyphs" font-family="Liberation Sans, sans-serif" font-weight="bold" fill="#111">CESM2-REFORECAST-2023</text>
<text x="367.9" y="13.2" font-size="6.8" textLength="49.3" lengthAdjust="spacingAndGlyphs" font-family="Liberation Sans, sans-serif" font-weight="bold" fill="#111">CESM2-NUDGE</text>
<text x="462.2" y="13.2" font-size="6.8" textLength="80.3" lengthAdjust="spacingAndGlyphs" font-family="Liberation Sans, sans-serif" font-weight="bold" fill="#111">CESM2-FORECAST-2023</text>
<rect x="251.2" y="15.80" width="6.600000000000023" height="6.53" fill="#151b4f"/>
<rect x="251.2" y="22.03" width="6.600000000000023" height="6.53" fill="#262f86"/>
<rect x="251.2" y="28.26" width="6.600000000000023" height="6.53" fill="#2f47b4"/>
<rect x="251.2" y="34.49" width="6.600000000000023" height="6.53" fill="#3a6db8"/>
<rect x="251.2" y="40.73" width="6.600000000000023" height="6.53" fill="#4585c0"/>
<rect x="251.2" y="46.96" width="6.600000000000023" height="6.53" fill="#5a9ec5"/>
<rect x="251.2" y="53.19" width="6.600000000000023" height="6.53" fill="#80b2c9"/>
<rect x="251.2" y="59.42" width="6.600000000000023" height="6.53" fill="#a9c9d4"/>
<rect x="251.2" y="65.65" width="6.600000000000023" height="6.53" fill="#d0dde2"/>
<rect x="251.2" y="71.88" width="6.600000000000023" height="6.53" fill="#f0eeee"/>
<rect x="251.2" y="78.12" width="6.600000000000023" height="6.53" fill="#e9d2ca"/>
<rect x="251.2" y="84.35" width="6.600000000000023" height="6.53" fill="#dcb0a2"/>
<rect x="251.2" y="90.58" width="6.600000000000023" height="6.53" fill="#d29585"/>
<rect x="251.2" y="96.81" width="6.600000000000023" height="6.53" fill="#c87362"/>
<rect x="251.2" y="103.04" width="6.600000000000023" height="6.53" fill="#bf5445"/>
<rect x="251.2" y="109.27" width="6.600000000000023" height="6.53" fill="#a83232"/>
<rect x="251.2" y="115.51" width="6.600000000000023" height="6.53" fill="#901a30"/>
<rect x="251.2" y="121.74" width="6.600000000000023" height="6.53" fill="#78102e"/>
<rect x="251.2" y="127.97" width="6.600000000000023" height="6.53" fill="#581025"/>
<path d="M251.2,16.0 L254.5,9.4 L257.8,16.0 Z" fill="#151b4f"/>
<path d="M251.2,134.0 L254.5,140.6 L257.8,134.0 Z" fill="#420a1a"/>
<text x="254.6" y="7.6" text-anchor="middle" font-size="4.6" font-family="Liberation Sans, sans-serif" fill="#000">SIC</text>
<line x1="257.8" y1="15.82" x2="259.2" y2="15.82" stroke="#333" stroke-width="0.4"/>
<text x="260.2" y="17.42" font-size="4.5" font-family="Liberation Sans, sans-serif" fill="#000">0.95</text>
<line x1="257.8" y1="28.28" x2="259.2" y2="28.28" stroke="#333" stroke-width="0.4"/>
<text x="260.2" y="29.88" font-size="4.5" font-family="Liberation Sans, sans-serif" fill="#000">0.75</text>
<line x1="257.8" y1="40.73" x2="259.2" y2="40.73" stroke="#333" stroke-width="0.4"/>
<text x="260.2" y="42.34" font-size="4.5" font-family="Liberation Sans, sans-serif" fill="#000">0.55</text>
<line x1="257.8" y1="53.20" x2="259.2" y2="53.20" stroke="#333" stroke-width="0.4"/>
<text x="260.2" y="54.80" font-size="4.5" font-family="Liberation Sans, sans-serif" fill="#000">0.35</text>
<line x1="257.8" y1="65.66" x2="259.2" y2="65.66" stroke="#333" stroke-width="0.4"/>
<text x="260.2" y="67.25" font-size="4.5" font-family="Liberation Sans, sans-serif" fill="#000">0.15</text>
<line x1="257.8" y1="84.34" x2="259.2" y2="84.34" stroke="#333" stroke-width="0.4"/>
<text x="260.2" y="85.94" font-size="4.5" font-family="Liberation Sans, sans-serif" fill="#000">−0.15</text>
<line x1="257.8" y1="96.80" x2="259.2" y2="96.80" stroke="#333" stroke-width="0.4"/>
<text x="260.2" y="98.40" font-size="4.5" font-family="Liberation Sans, sans-serif" fill="#000">−0.35</text>
<line x1="257.8" y1="109.27" x2="259.2" y2="109.27" stroke="#333" stroke-width="0.4"/>
<text x="260.2" y="110.86" font-size="4.5" font-family="Liberation Sans, sans-serif" fill="#000">−0.55</text>
<line x1="257.8" y1="121.72" x2="259.2" y2="121.72" stroke="#333" stroke-width="0.4"/>
<text x="260.2" y="123.32" font-size="4.5" font-family="Liberation Sans, sans-serif" fill="#000">−0.75</text>
<line x1="257.8" y1="134.19" x2="259.2" y2="134.19" stroke="#333" stroke-width="0.4"/>
<text x="260.2" y="135.78" font-size="4.5" font-family="Liberation Sans, sans-serif" fill="#000">−0.95</text>
<defs><linearGradient id="sstg" x1="0" y1="0" x2="0" y2="1"><stop offset="0" stop-color="#c0142e"/><stop offset="0.1" stop-color="#e42630"/><stop offset="0.25" stop-color="#ef4a3c"/><stop offset="0.34" stop-color="#f07a58"/><stop offset="0.4" stop-color="#f2a070"/><stop offset="0.45" stop-color="#f2c888"/><stop offset="0.5" stop-color="#fafae0"/><stop offset="0.56" stop-color="#e0fafc"/><stop offset="0.64" stop-color="#a8ecfc"/><stop offset="0.72" stop-color="#80c4fc"/><stop offset="0.8" stop-color="#5a90fa"/><stop offset="0.9" stop-color="#2a30f0"/><stop offset="1" stop-color="#2000e8"/></linearGradient></defs>
<rect x="552.2" y="15.2" width="6.6" height="119.5" fill="url(#sstg)"/>
<path d="M552.2,15.4 L555.5,9.3 L558.8,15.4 Z" fill="#b01030"/>
<path d="M552.2,134.5 L555.5,140.4 L558.8,134.5 Z" fill="#2000e8"/>
<text x="555.6" y="7.6" text-anchor="middle" font-size="4.8" font-family="Liberation Serif, serif" fill="#000">SST [K]</text>
<line x1="558.8" y1="15.20" x2="560.2" y2="15.20" stroke="#333" stroke-width="0.4"/>
<text x="560.8" y="16.90" font-size="4.8" font-family="Liberation Serif, serif" fill="#000">2.25</text>
<line x1="558.8" y1="23.20" x2="560.2" y2="23.20" stroke="#333" stroke-width="0.4"/>
<text x="560.8" y="24.90" font-size="4.8" font-family="Liberation Serif, serif" fill="#000">1.75</text>
<line x1="558.8" y1="38.10" x2="560.2" y2="38.10" stroke="#333" stroke-width="0.4"/>
<text x="560.8" y="39.80" font-size="4.8" font-family="Liberation Serif, serif" fill="#000">1.25</text>
<line x1="558.8" y1="52.60" x2="560.2" y2="52.60" stroke="#333" stroke-width="0.4"/>
<text x="560.8" y="54.30" font-size="4.8" font-family="Liberation Serif, serif" fill="#000">0.75</text>
<line x1="558.8" y1="67.30" x2="560.2" y2="67.30" stroke="#333" stroke-width="0.4"/>
<text x="560.8" y="69.00" font-size="4.8" font-family="Liberation Serif, serif" fill="#000">0.25</text>
<line x1="558.8" y1="82.40" x2="560.2" y2="82.40" stroke="#333" stroke-width="0.4"/>
<text x="560.8" y="84.10" font-size="4.8" font-family="Liberation Serif, serif" fill="#000">−0.25</text>
<line x1="558.8" y1="97.00" x2="560.2" y2="97.00" stroke="#333" stroke-width="0.4"/>
<text x="560.8" y="98.70" font-size="4.8" font-family="Liberation Serif, serif" fill="#000">−0.75</text>
<line x1="558.8" y1="112.00" x2="560.2" y2="112.00" stroke="#333" stroke-width="0.4"/>
<text x="560.8" y="113.70" font-size="4.8" font-family="Liberation Serif, serif" fill="#000">−1.25</text>
<line x1="558.8" y1="127.20" x2="560.2" y2="127.20" stroke="#333" stroke-width="0.4"/>
<text x="560.8" y="128.90" font-size="4.8" font-family="Liberation Serif, serif" fill="#000">−1.75</text>
<line x1="558.8" y1="134.70" x2="560.2" y2="134.70" stroke="#333" stroke-width="0.4"/>
<text x="560.8" y="136.40" font-size="4.8" font-family="Liberation Serif, serif" fill="#000">−2.25</text>
<line x1="617.6" y1="6.70" x2="680.3" y2="6.70" stroke="#e4e4e4" stroke-width="0.5"/>
<line x1="617.6" y1="32.70" x2="680.3" y2="32.70" stroke="#e4e4e4" stroke-width="0.5"/>
<line x1="617.6" y1="58.70" x2="680.3" y2="58.70" stroke="#e4e4e4" stroke-width="0.5"/>
<line x1="617.6" y1="84.70" x2="680.3" y2="84.70" stroke="#e4e4e4" stroke-width="0.5"/>
<line x1="617.6" y1="110.70" x2="680.3" y2="110.70" stroke="#e4e4e4" stroke-width="0.5"/>
<line x1="620.30" y1="6.70" x2="620.30" y2="110.7" stroke="#e4e4e4" stroke-width="0.5"/>
<line x1="628.50" y1="6.70" x2="628.50" y2="110.7" stroke="#e4e4e4" stroke-width="0.5"/>
<line x1="636.70" y1="6.70" x2="636.70" y2="110.7" stroke="#e4e4e4" stroke-width="0.5"/>
<line x1="644.90" y1="6.70" x2="644.90" y2="110.7" stroke="#e4e4e4" stroke-width="0.5"/>
<line x1="653.10" y1="6.70" x2="653.10" y2="110.7" stroke="#e4e4e4" stroke-width="0.5"/>
<line x1="661.30" y1="6.70" x2="661.30" y2="110.7" stroke="#e4e4e4" stroke-width="0.5"/>
<line x1="669.50" y1="6.70" x2="669.50" y2="110.7" stroke="#e4e4e4" stroke-width="0.5"/>
<rect x="617.6" y="6.70" width="62.69999999999993" height="104.00" fill="none" stroke="#d8d8d8" stroke-width="0.5"/>
<line x1="617.6" y1="32.70" x2="680.3" y2="32.70" stroke="#777" stroke-width="1.0" stroke-dasharray="2.6,1.6"/>
<text x="616.0" y="9.00" text-anchor="end" font-size="6.9" font-family="Liberation Serif, serif" fill="#111">1.0</text>
<text x="616.0" y="35.00" text-anchor="end" font-size="6.9" font-family="Liberation Serif, serif" fill="#111">0.0</text>
<text x="616.0" y="61.00" text-anchor="end" font-size="6.9" font-family="Liberation Serif, serif" fill="#111">−1.0</text>
<text x="616.0" y="87.00" text-anchor="end" font-size="6.9" font-family="Liberation Serif, serif" fill="#111">−2.0</text>
<text x="616.0" y="113.00" text-anchor="end" font-size="6.9" font-family="Liberation Serif, serif" fill="#111">−3.0</text>
<text x="616.6" y="4.6" font-size="6.4" font-weight="bold" font-family="Liberation Sans, sans-serif" fill="#111">J</text>
<text transform="translate(601,59) rotate(-90)" text-anchor="middle" font-size="7" font-weight="bold" font-family="Liberation Sans, sans-serif" fill="#111">Sea Ice Area Anomaly (10<tspan font-size="4.5" dy="-2.4">6</tspan><tspan dy="2.4"> km</tspan><tspan font-size="4.5" dy="-2.4">2</tspan><tspan dy="2.4">)</tspan></text>
<text transform="translate(622.40,112.6) rotate(-90)" text-anchor="end" font-size="6.6" font-family="Liberation Sans, sans-serif" fill="#111">Total</text>
<text transform="translate(630.60,112.6) rotate(-90)" text-anchor="end" font-size="6.6" font-family="Liberation Sans, sans-serif" fill="#111">Ross</text>
<text transform="translate(638.80,112.6) rotate(-90)" text-anchor="end" font-size="6.6" font-family="Liberation Sans, sans-serif" fill="#111">Amundsen</text>
<text transform="translate(647.00,112.6) rotate(-90)" text-anchor="end" font-size="6.6" font-family="Liberation Sans, sans-serif" fill="#111">Bellingshausen</text>
<text transform="translate(655.20,112.6) rotate(-90)" text-anchor="end" font-size="6.6" font-family="Liberation Sans, sans-serif" fill="#111">Weddell</text>
<text transform="translate(663.40,112.6) rotate(-90)" text-anchor="end" font-size="6.6" font-family="Liberation Sans, sans-serif" fill="#111">South Indian</text>
<text transform="translate(671.60,112.6) rotate(-90)" text-anchor="end" font-size="6.6" font-family="Liberation Sans, sans-serif" fill="#111">South West Pacific</text>
<defs><linearGradient id="jg0" x1="0" y1="0" x2="0" y2="1"><stop offset="0" stop-color="#9ad67e" stop-opacity="0.15"/><stop offset="0.3" stop-color="#9ad67e" stop-opacity="0.8"/><stop offset="0.7" stop-color="#9ad67e" stop-opacity="0.8"/><stop offset="1" stop-color="#9ad67e" stop-opacity="0.2"/></linearGradient></defs>
<rect x="617.60" y="65.5" width="5.4" height="24" rx="2.7" fill="url(#jg0)"/>
<path d="M618.10,88.70 L622.50,93.10 M618.10,93.10 L622.50,88.70" stroke="#f07f1e" stroke-width="1.35"/>
<path d="M618.10,94.60 L622.50,99.00 M618.10,99.00 L622.50,94.60" stroke="#111" stroke-width="1.35"/>
<circle cx="620.30" cy="80" r="2.5" fill="#c8ecb8" stroke="#3a7a2a" stroke-width="0.55"/>
<defs><linearGradient id="jg1" x1="0" y1="0" x2="0" y2="1"><stop offset="0" stop-color="#c8e0ee" stop-opacity="0.15"/><stop offset="0.3" stop-color="#c8e0ee" stop-opacity="0.8"/><stop offset="0.7" stop-color="#c8e0ee" stop-opacity="0.8"/><stop offset="1" stop-color="#c8e0ee" stop-opacity="0.2"/></linearGradient></defs>
<rect x="625.80" y="36.8" width="5.4" height="17.900000000000006" rx="2.7" fill="url(#jg1)"/>
<path d="M626.30,49.00 L630.70,53.40 M626.30,53.40 L630.70,49.00" stroke="#f07f1e" stroke-width="1.35"/>
<path d="M626.30,55.70 L630.70,60.10 M626.30,60.10 L630.70,55.70" stroke="#111" stroke-width="1.35"/>
<circle cx="628.50" cy="46.6" r="2.5" fill="#e8f2f8" stroke="#333" stroke-width="0.55"/>
<defs><linearGradient id="jg2" x1="0" y1="0" x2="0" y2="1"><stop offset="0" stop-color="#5aa4d4" stop-opacity="0.15"/><stop offset="0.3" stop-color="#5aa4d4" stop-opacity="0.8"/><stop offset="0.7" stop-color="#5aa4d4" stop-opacity="0.8"/><stop offset="1" stop-color="#5aa4d4" stop-opacity="0.2"/></linearGradient></defs>
<rect x="634.00" y="24.3" width="5.4" height="17.900000000000002" rx="2.7" fill="url(#jg2)"/>
<path d="M634.50,22.60 L638.90,27.00 M634.50,27.00 L638.90,22.60" stroke="#f07f1e" stroke-width="1.35"/>
<path d="M634.50,27.30 L638.90,31.70 M634.50,31.70 L638.90,27.30" stroke="#111" stroke-width="1.35"/>
<circle cx="636.70" cy="32.4" r="2.5" fill="#6ab0d8" stroke="#333" stroke-width="0.55"/>
<defs><linearGradient id="jg3" x1="0" y1="0" x2="0" y2="1"><stop offset="0" stop-color="#2a64ae" stop-opacity="0.15"/><stop offset="0.3" stop-color="#2a64ae" stop-opacity="0.8"/><stop offset="0.7" stop-color="#2a64ae" stop-opacity="0.8"/><stop offset="1" stop-color="#2a64ae" stop-opacity="0.2"/></linearGradient></defs>
<rect x="642.20" y="27.5" width="5.4" height="14" rx="2.7" fill="url(#jg3)"/>
<path d="M642.70,35.00 L647.10,39.40 M642.70,39.40 L647.10,35.00" stroke="#f07f1e" stroke-width="1.35"/>
<path d="M642.70,28.60 L647.10,33.00 M642.70,33.00 L647.10,28.60" stroke="#111" stroke-width="1.35"/>
<circle cx="644.90" cy="32.4" r="2.5" fill="#3468a8" stroke="#222" stroke-width="0.55"/>
<defs><linearGradient id="jg4" x1="0" y1="0" x2="0" y2="1"><stop offset="0" stop-color="#f8d4c0" stop-opacity="0.15"/><stop offset="0.3" stop-color="#f8d4c0" stop-opacity="0.8"/><stop offset="0.7" stop-color="#f8d4c0" stop-opacity="0.8"/><stop offset="1" stop-color="#f8d4c0" stop-opacity="0.2"/></linearGradient></defs>
<rect x="650.40" y="33.5" width="5.4" height="23" rx="2.7" fill="url(#jg4)"/>
<path d="M650.90,48.50 L655.30,52.90 M650.90,52.90 L655.30,48.50" stroke="#f07f1e" stroke-width="1.35"/>
<path d="M650.90,52.30 L655.30,56.70 M650.90,56.70 L655.30,52.30" stroke="#111" stroke-width="1.35"/>
<circle cx="653.10" cy="45" r="2.5" fill="#fbeee6" stroke="#333" stroke-width="0.55"/>
<defs><linearGradient id="jg5" x1="0" y1="0" x2="0" y2="1"><stop offset="0" stop-color="#e88064" stop-opacity="0.15"/><stop offset="0.3" stop-color="#e88064" stop-opacity="0.8"/><stop offset="0.7" stop-color="#e88064" stop-opacity="0.8"/><stop offset="1" stop-color="#e88064" stop-opacity="0.2"/></linearGradient></defs>
<rect x="658.60" y="33.5" width="5.4" height="18" rx="2.7" fill="url(#jg5)"/>
<path d="M659.10,49.30 L663.50,53.70 M659.10,53.70 L663.50,49.30" stroke="#f07f1e" stroke-width="1.35"/>
<path d="M659.10,37.80 L663.50,42.20 M659.10,42.20 L663.50,37.80" stroke="#111" stroke-width="1.35"/>
<circle cx="661.30" cy="42.4" r="2.5" fill="#e8866a" stroke="#333" stroke-width="0.55"/>
<defs><linearGradient id="jg6" x1="0" y1="0" x2="0" y2="1"><stop offset="0" stop-color="#c02034" stop-opacity="0.15"/><stop offset="0.3" stop-color="#c02034" stop-opacity="0.8"/><stop offset="0.7" stop-color="#c02034" stop-opacity="0.8"/><stop offset="1" stop-color="#c02034" stop-opacity="0.2"/></linearGradient></defs>
<rect x="666.80" y="35.9" width="5.4" height="14.600000000000001" rx="2.7" fill="url(#jg6)"/>
<path d="M667.30,36.10 L671.70,40.50 M667.30,40.50 L671.70,36.10" stroke="#f07f1e" stroke-width="1.35"/>
<path d="M667.30,39.30 L671.70,43.70 M667.30,43.70 L671.70,39.30" stroke="#111" stroke-width="1.35"/>
<circle cx="669.50" cy="42.4" r="2.5" fill="#c8283a" stroke="#333" stroke-width="0.55"/>
<clipPath id="hcE"><rect x="22.2" y="150" width="98.50" height="139.00"/></clipPath>
<filter id="hbE" x="-5%" y="-5%" width="110%" height="110%"><feGaussianBlur stdDeviation="0.9 2.4"/></filter>
<g clip-path="url(#hcE)"><g filter="url(#hbE)">
<rect x="18.10" y="136.10" width="4.40" height="14.20" fill="#f09068"/>
<rect x="22.20" y="136.10" width="4.40" height="14.20" fill="#f09068"/>
<rect x="26.30" y="136.10" width="4.40" height="14.20" fill="#f06a50"/>
<rect x="30.41" y="136.10" width="4.40" height="14.20" fill="#f0b080"/>
<rect x="34.51" y="136.10" width="4.40" height="14.20" fill="#f8f0b8"/>
<rect x="38.62" y="136.10" width="4.40" height="14.20" fill="#fafae0"/>
<rect x="42.72" y="136.10" width="4.40" height="14.20" fill="#e6fcfc"/>
<rect x="46.83" y="136.10" width="4.40" height="14.20" fill="#fafae0"/>
<rect x="50.93" y="136.10" width="4.40" height="14.20" fill="#f8f0b8"/>
<rect x="55.03" y="136.10" width="4.40" height="14.20" fill="#f0d090"/>
<rect x="59.14" y="136.10" width="4.40" height="14.20" fill="#f09068"/>
<rect x="63.24" y="136.10" width="4.40" height="14.20" fill="#f06a50"/>
<rect x="67.35" y="136.10" width="4.40" height="14.20" fill="#f06a50"/>
<rect x="71.45" y="136.10" width="4.40" height="14.20" fill="#f09068"/>
<rect x="75.55" y="136.10" width="4.40" height="14.20" fill="#f0b080"/>
<rect x="79.66" y="136.10" width="4.40" height="14.20" fill="#f0b080"/>
<rect x="83.76" y="136.10" width="4.40" height="14.20" fill="#f09068"/>
<rect x="87.87" y="136.10" width="4.40" height="14.20" fill="#f04a40"/>
<rect x="91.97" y="136.10" width="4.40" height="14.20" fill="#ee2a2e"/>
<rect x="96.08" y="136.10" width="4.40" height="14.20" fill="#f09068"/>
<rect x="100.18" y="136.10" width="4.40" height="14.20" fill="#f0b080"/>
<rect x="104.28" y="136.10" width="4.40" height="14.20" fill="#f0d090"/>
<rect x="108.39" y="136.10" width="4.40" height="14.20" fill="#f8f0b8"/>
<rect x="112.49" y="136.10" width="4.40" height="14.20" fill="#f8f0b8"/>
<rect x="116.60" y="136.10" width="4.40" height="14.20" fill="#f0d090"/>
<rect x="120.70" y="136.10" width="4.40" height="14.20" fill="#f0d090"/>
<rect x="18.10" y="150.00" width="4.40" height="14.20" fill="#f09068"/>
<rect x="22.20" y="150.00" width="4.40" height="14.20" fill="#f09068"/>
<rect x="26.30" y="150.00" width="4.40" height="14.20" fill="#f06a50"/>
<rect x="30.41" y="150.00" width="4.40" height="14.20" fill="#f0b080"/>
<rect x="34.51" y="150.00" width="4.40" height="14.20" fill="#f8f0b8"/>
<rect x="38.62" y="150.00" width="4.40" height="14.20" fill="#fafae0"/>
<rect x="42.72" y="150.00" width="4.40" height="14.20" fill="#e6fcfc"/>
<rect x="46.83" y="150.00" width="4.40" height="14.20" fill="#fafae0"/>
<rect x="50.93" y="150.00" width="4.40" height="14.20" fill="#f8f0b8"/>
<rect x="55.03" y="150.00" width="4.40" height="14.20" fill="#f0d090"/>
<rect x="59.14" y="150.00" width="4.40" height="14.20" fill="#f09068"/>
<rect x="63.24" y="150.00" width="4.40" height="14.20" fill="#f06a50"/>
<rect x="67.35" y="150.00" width="4.40" height="14.20" fill="#f06a50"/>
<rect x="71.45" y="150.00" width="4.40" height="14.20" fill="#f09068"/>
<rect x="75.55" y="150.00" width="4.40" height="14.20" fill="#f0b080"/>
<rect x="79.66" y="150.00" width="4.40" height="14.20" fill="#f0b080"/>
<rect x="83.76" y="150.00" width="4.40" height="14.20" fill="#f09068"/>
<rect x="87.87" y="150.00" width="4.40" height="14.20" fill="#f04a40"/>
<rect x="91.97" y="150.00" width="4.40" height="14.20" fill="#ee2a2e"/>
<rect x="96.08" y="150.00" width="4.40" height="14.20" fill="#f09068"/>
<rect x="100.18" y="150.00" width="4.40" height="14.20" fill="#f0b080"/>
<rect x="104.28" y="150.00" width="4.40" height="14.20" fill="#f0d090"/>
<rect x="108.39" y="150.00" width="4.40" height="14.20" fill="#f8f0b8"/>
<rect x="112.49" y="150.00" width="4.40" height="14.20" fill="#f8f0b8"/>
<rect x="116.60" y="150.00" width="4.40" height="14.20" fill="#f0d090"/>
<rect x="120.70" y="150.00" width="4.40" height="14.20" fill="#f0d090"/>
<rect x="18.10" y="163.90" width="4.40" height="14.20" fill="#f09068"/>
<rect x="22.20" y="163.90" width="4.40" height="14.20" fill="#f09068"/>
<rect x="26.30" y="163.90" width="4.40" height="14.20" fill="#f0b080"/>
<rect x="30.41" y="163.90" width="4.40" height="14.20" fill="#f8f0b8"/>
<rect x="34.51" y="163.90" width="4.40" height="14.20" fill="#fafae0"/>
<rect x="38.62" y="163.90" width="4.40" height="14.20" fill="#e6fcfc"/>
<rect x="42.72" y="163.90" width="4.40" height="14.20" fill="#c8f4fc"/>
<rect x="46.83" y="163.90" width="4.40" height="14.20" fill="#e6fcfc"/>
<rect x="50.93" y="163.90" width="4.40" height="14.20" fill="#fafae0"/>
<rect x="55.03" y="163.90" width="4.40" height="14.20" fill="#f8f0b8"/>
<rect x="59.14" y="163.90" width="4.40" height="14.20" fill="#f0b080"/>
<rect x="63.24" y="163.90" width="4.40" height="14.20" fill="#f04a40"/>
<rect x="67.35" y="163.90" width="4.40" height="14.20" fill="#f09068"/>
<rect x="71.45" y="163.90" width="4.40" height="14.20" fill="#f0b080"/>
<rect x="75.55" y="163.90" width="4.40" height="14.20" fill="#f0d090"/>
<rect x="79.66" y="163.90" width="4.40" height="14.20" fill="#f8f0b8"/>
<rect x="83.76" y="163.90" width="4.40" height="14.20" fill="#f0b080"/>
<rect x="87.87" y="163.90" width="4.40" height="14.20" fill="#f04a40"/>
<rect x="91.97" y="163.90" width="4.40" height="14.20" fill="#ee2a2e"/>
<rect x="96.08" y="163.90" width="4.40" height="14.20" fill="#f09068"/>
<rect x="100.18" y="163.90" width="4.40" height="14.20" fill="#f0d090"/>
<rect x="104.28" y="163.90" width="4.40" height="14.20" fill="#f8f0b8"/>
<rect x="108.39" y="163.90" width="4.40" height="14.20" fill="#f8f0b8"/>
<rect x="112.49" y="163.90" width="4.40" height="14.20" fill="#f8f0b8"/>
<rect x="116.60" y="163.90" width="4.40" height="14.20" fill="#f0d090"/>
<rect x="120.70" y="163.90" width="4.40" height="14.20" fill="#f0d090"/>
<rect x="18.10" y="177.80" width="4.40" height="14.20" fill="#f06a50"/>
<rect x="22.20" y="177.80" width="4.40" height="14.20" fill="#f06a50"/>
<rect x="26.30" y="177.80" width="4.40" height="14.20" fill="#f09068"/>
<rect x="30.41" y="177.80" width="4.40" height="14.20" fill="#f0b080"/>
<rect x="34.51" y="177.80" width="4.40" height="14.20" fill="#f8f0b8"/>
<rect x="38.62" y="177.80" width="4.40" height="14.20" fill="#e6fcfc"/>
<rect x="42.72" y="177.80" width="4.40" height="14.20" fill="#c8f4fc"/>
<rect x="46.83" y="177.80" width="4.40" height="14.20" fill="#c8f4fc"/>
<rect x="50.93" y="177.80" width="4.40" height="14.20" fill="#c8f4fc"/>
<rect x="55.03" y="177.80" width="4.40" height="14.20" fill="#fafae0"/>
<rect x="59.14" y="177.80" width="4.40" height="14.20" fill="#f8f0b8"/>
<rect x="63.24" y="177.80" width="4.40" height="14.20" fill="#f09068"/>
<rect x="67.35" y="177.80" width="4.40" height="14.20" fill="#f0b080"/>
<rect x="71.45" y="177.80" width="4.40" height="14.20" fill="#f0d090"/>
<rect x="75.55" y="177.80" width="4.40" height="14.20" fill="#f8f0b8"/>
<rect x="79.66" y="177.80" width="4.40" height="14.20" fill="#f8f0b8"/>
<rect x="83.76" y="177.80" width="4.40" height="14.20" fill="#f0d090"/>
<rect x="87.87" y="177.80" width="4.40" height="14.20" fill="#f09068"/>
<rect x="91.97" y="177.80" width="4.40" height="14.20" fill="#f04a40"/>
<rect x="96.08" y="177.80" width="4.40" height="14.20" fill="#f0b080"/>
<rect x="100.18" y="177.80" width="4.40" height="14.20" fill="#f0d090"/>
<rect x="104.28" y="177.80" width="4.40" height="14.20" fill="#f8f0b8"/>
<rect x="108.39" y="177.80" width="4.40" height="14.20" fill="#f8f0b8"/>
<rect x="112.49" y="177.80" width="4.40" height="14.20" fill="#fafae0"/>
<rect x="116.60" y="177.80" width="4.40" height="14.20" fill="#f0d090"/>
<rect x="120.70" y="177.80" width="4.40" height="14.20" fill="#f0d090"/>
<rect x="18.10" y="191.70" width="4.40" height="14.20" fill="#f09068"/>
<rect x="22.20" y="191.70" width="4.40" height="14.20" fill="#f09068"/>
<rect x="26.30" y="191.70" width="4.40" height="14.20" fill="#f8f0b8"/>
<rect x="30.41" y="191.70" width="4.40" height="14.20" fill="#c8f4fc"/>
<rect x="34.51" y="191.70" width="4.40" height="14.20" fill="#c8f4fc"/>
<rect x="38.62" y="191.70" width="4.40" height="14.20" fill="#a8ecfc"/>
<rect x="42.72" y="191.70" width="4.40" height="14.20" fill="#c8f4fc"/>
<rect x="46.83" y="191.70" width="4.40" height="14.20" fill="#c8f4fc"/>
<rect x="50.93" y="191.70" width="4.40" height="14.20" fill="#e6fcfc"/>
<rect x="55.03" y="191.70" width="4.40" height="14.20" fill="#fafae0"/>
<rect x="59.14" y="191.70" width="4.40" height="14.20" fill="#f8f0b8"/>
<rect x="63.24" y="191.70" width="4.40" height="14.20" fill="#f09068"/>
<rect x="67.35" y="191.70" width="4.40" height="14.20" fill="#f8f0b8"/>
<rect x="71.45" y="191.70" width="4.40" height="14.20" fill="#fafae0"/>
<rect x="75.55" y="191.70" width="4.40" height="14.20" fill="#fafae0"/>
<rect x="79.66" y="191.70" width="4.40" height="14.20" fill="#f8f0b8"/>
<rect x="83.76" y="191.70" width="4.40" height="14.20" fill="#f0d090"/>
<rect x="87.87" y="191.70" width="4.40" height="14.20" fill="#f0b080"/>
<rect x="91.97" y="191.70" width="4.40" height="14.20" fill="#f09068"/>
<rect x="96.08" y="191.70" width="4.40" height="14.20" fill="#f0d090"/>
<rect x="100.18" y="191.70" width="4.40" height="14.20" fill="#f8f0b8"/>
<rect x="104.28" y="191.70" width="4.40" height="14.20" fill="#fafae0"/>
<rect x="108.39" y="191.70" width="4.40" height="14.20" fill="#e6fcfc"/>
<rect x="112.49" y="191.70" width="4.40" height="14.20" fill="#fafae0"/>
<rect x="116.60" y="191.70" width="4.40" height="14.20" fill="#f0b080"/>
<rect x="120.70" y="191.70" width="4.40" height="14.20" fill="#f0b080"/>
<rect x="18.10" y="205.60" width="4.40" height="14.20" fill="#f8f0b8"/>
<rect x="22.20" y="205.60" width="4.40" height="14.20" fill="#f8f0b8"/>
<rect x="26.30" y="205.60" width="4.40" height="14.20" fill="#f0d090"/>
<rect x="30.41" y="205.60" width="4.40" height="14.20" fill="#e6fcfc"/>
<rect x="34.51" y="205.60" width="4.40" height="14.20" fill="#c8f4fc"/>
<rect x="38.62" y="205.60" width="4.40" height="14.20" fill="#a8ecfc"/>
<rect x="42.72" y="205.60" width="4.40" height="14.20" fill="#c8f4fc"/>
<rect x="46.83" y="205.60" width="4.40" height="14.20" fill="#e6fcfc"/>
<rect x="50.93" y="205.60" width="4.40" height="14.20" fill="#e6fcfc"/>
<rect x="55.03" y="205.60" width="4.40" height="14.20" fill="#f0d090"/>
<rect x="59.14" y="205.60" width="4.40" height="14.20" fill="#f09068"/>
<rect x="63.24" y="205.60" width="4.40" height="14.20" fill="#f06a50"/>
<rect x="67.35" y="205.60" width="4.40" height="14.20" fill="#f09068"/>
<rect x="71.45" y="205.60" width="4.40" height="14.20" fill="#f0b080"/>
<rect x="75.55" y="205.60" width="4.40" height="14.20" fill="#f8f0b8"/>
<rect x="79.66" y="205.60" width="4.40" height="14.20" fill="#f0d090"/>
<rect x="83.76" y="205.60" width="4.40" height="14.20" fill="#f0b080"/>
<rect x="87.87" y="205.60" width="4.40" height="14.20" fill="#f0b080"/>
<rect x="91.97" y="205.60" width="4.40" height="14.20" fill="#f09068"/>
<rect x="96.08" y="205.60" width="4.40" height="14.20" fill="#f0d090"/>
<rect x="100.18" y="205.60" width="4.40" height="14.20" fill="#f0d090"/>
<rect x="104.28" y="205.60" width="4.40" height="14.20" fill="#f8f0b8"/>
<rect x="108.39" y="205.60" width="4.40" height="14.20" fill="#fafae0"/>
<rect x="112.49" y="205.60" width="4.40" height="14.20" fill="#f8f0b8"/>
<rect x="116.60" y="205.60" width="4.40" height="14.20" fill="#f8f0b8"/>
<rect x="120.70" y="205.60" width="4.40" height="14.20" fill="#f8f0b8"/>
<rect x="18.10" y="219.50" width="4.40" height="14.20" fill="#fafae0"/>
<rect x="22.20" y="219.50" width="4.40" height="14.20" fill="#fafae0"/>
<rect x="26.30" y="219.50" width="4.40" height="14.20" fill="#f8f0b8"/>
<rect x="30.41" y="219.50" width="4.40" height="14.20" fill="#e6fcfc"/>
<rect x="34.51" y="219.50" width="4.40" height="14.20" fill="#e6fcfc"/>
<rect x="38.62" y="219.50" width="4.40" height="14.20" fill="#fafae0"/>
<rect x="42.72" y="219.50" width="4.40" height="14.20" fill="#fafae0"/>
<rect x="46.83" y="219.50" width="4.40" height="14.20" fill="#f8f0b8"/>
<rect x="50.93" y="219.50" width="4.40" height="14.20" fill="#f8f0b8"/>
<rect x="55.03" y="219.50" width="4.40" height="14.20" fill="#f8f0b8"/>
<rect x="59.14" y="219.50" width="4.40" height="14.20" fill="#f09068"/>
<rect x="63.24" y="219.50" width="4.40" height="14.20" fill="#f06a50"/>
<rect x="67.35" y="219.50" width="4.40" height="14.20" fill="#f09068"/>
<rect x="71.45" y="219.50" width="4.40" height="14.20" fill="#f0b080"/>
<rect x="75.55" y="219.50" width="4.40" height="14.20" fill="#f0d090"/>
<rect x="79.66" y="219.50" width="4.40" height="14.20" fill="#f8f0b8"/>
<rect x="83.76" y="219.50" width="4.40" height="14.20" fill="#f0b080"/>
<rect x="87.87" y="219.50" width="4.40" height="14.20" fill="#f0b080"/>
<rect x="91.97" y="219.50" width="4.40" height="14.20" fill="#f09068"/>
<rect x="96.08" y="219.50" width="4.40" height="14.20" fill="#f0b080"/>
<rect x="100.18" y="219.50" width="4.40" height="14.20" fill="#f0d090"/>
<rect x="104.28" y="219.50" width="4.40" height="14.20" fill="#f0d090"/>
<rect x="108.39" y="219.50" width="4.40" height="14.20" fill="#f0d090"/>
<rect x="112.49" y="219.50" width="4.40" height="14.20" fill="#f8f0b8"/>
<rect x="116.60" y="219.50" width="4.40" height="14.20" fill="#f8f0b8"/>
<rect x="120.70" y="219.50" width="4.40" height="14.20" fill="#f8f0b8"/>
<rect x="18.10" y="233.40" width="4.40" height="14.20" fill="#f8f0b8"/>
<rect x="22.20" y="233.40" width="4.40" height="14.20" fill="#f8f0b8"/>
<rect x="26.30" y="233.40" width="4.40" height="14.20" fill="#e6fcfc"/>
<rect x="30.41" y="233.40" width="4.40" height="14.20" fill="#e6fcfc"/>
<rect x="34.51" y="233.40" width="4.40" height="14.20" fill="#fafae0"/>
<rect x="38.62" y="233.40" width="4.40" height="14.20" fill="#fafae0"/>
<rect x="42.72" y="233.40" width="4.40" height="14.20" fill="#f8f0b8"/>
<rect x="46.83" y="233.40" width="4.40" height="14.20" fill="#fafae0"/>
<rect x="50.93" y="233.40" width="4.40" height="14.20" fill="#fafae0"/>
<rect x="55.03" y="233.40" width="4.40" height="14.20" fill="#f0d090"/>
<rect x="59.14" y="233.40" width="4.40" height="14.20" fill="#f09068"/>
<rect x="63.24" y="233.40" width="4.40" height="14.20" fill="#f04a40"/>
<rect x="67.35" y="233.40" width="4.40" height="14.20" fill="#f09068"/>
<rect x="71.45" y="233.40" width="4.40" height="14.20" fill="#f09068"/>
<rect x="75.55" y="233.40" width="4.40" height="14.20" fill="#f0b080"/>
<rect x="79.66" y="233.40" width="4.40" height="14.20" fill="#f0d090"/>
<rect x="83.76" y="233.40" width="4.40" height="14.20" fill="#f0d090"/>
<rect x="87.87" y="233.40" width="4.40" height="14.20" fill="#f0b080"/>
<rect x="91.97" y="233.40" width="4.40" height="14.20" fill="#f0b080"/>
<rect x="96.08" y="233.40" width="4.40" height="14.20" fill="#f0d090"/>
<rect x="100.18" y="233.40" width="4.40" height="14.20" fill="#f0d090"/>
<rect x="104.28" y="233.40" width="4.40" height="14.20" fill="#f0d090"/>
<rect x="108.39" y="233.40" width="4.40" height="14.20" fill="#f0d090"/>
<rect x="112.49" y="233.40" width="4.40" height="14.20" fill="#f8f0b8"/>
<rect x="116.60" y="233.40" width="4.40" height="14.20" fill="#f8f0b8"/>
<rect x="120.70" y="233.40" width="4.40" height="14.20" fill="#f8f0b8"/>
<rect x="18.10" y="247.30" width="4.40" height="14.20" fill="#fafae0"/>
<rect x="22.20" y="247.30" width="4.40" height="14.20" fill="#fafae0"/>
<rect x="26.30" y="247.30" width="4.40" height="14.20" fill="#c8f4fc"/>
<rect x="30.41" y="247.30" width="4.40" height="14.20" fill="#e6fcfc"/>
<rect x="34.51" y="247.30" width="4.40" height="14.20" fill="#fafae0"/>
<rect x="38.62" y="247.30" width="4.40" height="14.20" fill="#f8f0b8"/>
<rect x="42.72" y="247.30" width="4.40" height="14.20" fill="#f8f0b8"/>
<rect x="46.83" y="247.30" width="4.40" height="14.20" fill="#fafae0"/>
<rect x="50.93" y="247.30" width="4.40" height="14.20" fill="#fafae0"/>
<rect x="55.03" y="247.30" width="4.40" height="14.20" fill="#f0d090"/>
<rect x="59.14" y="247.30" width="4.40" height="14.20" fill="#f09068"/>
<rect x="63.24" y="247.30" width="4.40" height="14.20" fill="#f04a40"/>
<rect x="67.35" y="247.30" width="4.40" height="14.20" fill="#f06a50"/>
<rect x="71.45" y="247.30" width="4.40" height="14.20" fill="#f09068"/>
<rect x="75.55" y="247.30" width="4.40" height="14.20" fill="#f0b080"/>
<rect x="79.66" y="247.30" width="4.40" height="14.20" fill="#f0d090"/>
<rect x="83.76" y="247.30" width="4.40" height="14.20" fill="#f0d090"/>
<rect x="87.87" y="247.30" width="4.40" height="14.20" fill="#f0b080"/>
<rect x="91.97" y="247.30" width="4.40" height="14.20" fill="#f0b080"/>
<rect x="96.08" y="247.30" width="4.40" height="14.20" fill="#f0d090"/>
<rect x="100.18" y="247.30" width="4.40" height="14.20" fill="#f0d090"/>
<rect x="104.28" y="247.30" width="4.40" height="14.20" fill="#f0d090"/>
<rect x="108.39" y="247.30" width="4.40" height="14.20" fill="#f8f0b8"/>
<rect x="112.49" y="247.30" width="4.40" height="14.20" fill="#f8f0b8"/>
<rect x="116.60" y="247.30" width="4.40" height="14.20" fill="#f8f0b8"/>
<rect x="120.70" y="247.30" width="4.40" height="14.20" fill="#f8f0b8"/>
<rect x="18.10" y="261.20" width="4.40" height="14.20" fill="#e6fcfc"/>
<rect x="22.20" y="261.20" width="4.40" height="14.20" fill="#e6fcfc"/>
<rect x="26.30" y="261.20" width="4.40" height="14.20" fill="#c8f4fc"/>
<rect x="30.41" y="261.20" width="4.40" height="14.20" fill="#c8f4fc"/>
<rect x="34.51" y="261.20" width="4.40" height="14.20" fill="#e6fcfc"/>
<rect x="38.62" y="261.20" width="4.40" height="14.20" fill="#c8f4fc"/>
<rect x="42.72" y="261.20" width="4.40" height="14.20" fill="#c8f4fc"/>
<rect x="46.83" y="261.20" width="4.40" height="14.20" fill="#e6fcfc"/>
<rect x="50.93" y="261.20" width="4.40" height="14.20" fill="#fafae0"/>
<rect x="55.03" y="261.20" width="4.40" height="14.20" fill="#fafae0"/>
<rect x="59.14" y="261.20" width="4.40" height="14.20" fill="#f8f0b8"/>
<rect x="63.24" y="261.20" width="4.40" height="14.20" fill="#f06a50"/>
<rect x="67.35" y="261.20" width="4.40" height="14.20" fill="#f06a50"/>
<rect x="71.45" y="261.20" width="4.40" height="14.20" fill="#f09068"/>
<rect x="75.55" y="261.20" width="4.40" height="14.20" fill="#f0b080"/>
<rect x="79.66" y="261.20" width="4.40" height="14.20" fill="#f0d090"/>
<rect x="83.76" y="261.20" width="4.40" height="14.20" fill="#f8f0b8"/>
<rect x="87.87" y="261.20" width="4.40" height="14.20" fill="#f0d090"/>
<rect x="91.97" y="261.20" width="4.40" height="14.20" fill="#f0b080"/>
<rect x="96.08" y="261.20" width="4.40" height="14.20" fill="#f0d090"/>
<rect x="100.18" y="261.20" width="4.40" height="14.20" fill="#f8f0b8"/>
<rect x="104.28" y="261.20" width="4.40" height="14.20" fill="#f0d090"/>
<rect x="108.39" y="261.20" width="4.40" height="14.20" fill="#f0d090"/>
<rect x="112.49" y="261.20" width="4.40" height="14.20" fill="#f0d090"/>
<rect x="116.60" y="261.20" width="4.40" height="14.20" fill="#f8f0b8"/>
<rect x="120.70" y="261.20" width="4.40" height="14.20" fill="#f8f0b8"/>
<rect x="18.10" y="275.10" width="4.40" height="14.20" fill="#e6fcfc"/>
<rect x="22.20" y="275.10" width="4.40" height="14.20" fill="#e6fcfc"/>
<rect x="26.30" y="275.10" width="4.40" height="14.20" fill="#c8f4fc"/>
<rect x="30.41" y="275.10" width="4.40" height="14.20" fill="#c8f4fc"/>
<rect x="34.51" y="275.10" width="4.40" height="14.20" fill="#e6fcfc"/>
<rect x="38.62" y="275.10" width="4.40" height="14.20" fill="#c8f4fc"/>
<rect x="42.72" y="275.10" width="4.40" height="14.20" fill="#c8f4fc"/>
<rect x="46.83" y="275.10" width="4.40" height="14.20" fill="#e6fcfc"/>
<rect x="50.93" y="275.10" width="4.40" height="14.20" fill="#e6fcfc"/>
<rect x="55.03" y="275.10" width="4.40" height="14.20" fill="#e6fcfc"/>
<rect x="59.14" y="275.10" width="4.40" height="14.20" fill="#fafae0"/>
<rect x="63.24" y="275.10" width="4.40" height="14.20" fill="#f09068"/>
<rect x="67.35" y="275.10" width="4.40" height="14.20" fill="#f09068"/>
<rect x="71.45" y="275.10" width="4.40" height="14.20" fill="#f09068"/>
<rect x="75.55" y="275.10" width="4.40" height="14.20" fill="#f0b080"/>
<rect x="79.66" y="275.10" width="4.40" height="14.20" fill="#f0d090"/>
<rect x="83.76" y="275.10" width="4.40" height="14.20" fill="#f8f0b8"/>
<rect x="87.87" y="275.10" width="4.40" height="14.20" fill="#f8f0b8"/>
<rect x="91.97" y="275.10" width="4.40" height="14.20" fill="#f0d090"/>
<rect x="96.08" y="275.10" width="4.40" height="14.20" fill="#f8f0b8"/>
<rect x="100.18" y="275.10" width="4.40" height="14.20" fill="#f8f0b8"/>
<rect x="104.28" y="275.10" width="4.40" height="14.20" fill="#f0d090"/>
<rect x="108.39" y="275.10" width="4.40" height="14.20" fill="#f8f0b8"/>
<rect x="112.49" y="275.10" width="4.40" height="14.20" fill="#f8f0b8"/>
<rect x="116.60" y="275.10" width="4.40" height="14.20" fill="#e6fcfc"/>
<rect x="120.70" y="275.10" width="4.40" height="14.20" fill="#e6fcfc"/>
<rect x="18.10" y="289.00" width="4.40" height="14.20" fill="#e6fcfc"/>
<rect x="22.20" y="289.00" width="4.40" height="14.20" fill="#e6fcfc"/>
<rect x="26.30" y="289.00" width="4.40" height="14.20" fill="#c8f4fc"/>
<rect x="30.41" y="289.00" width="4.40" height="14.20" fill="#c8f4fc"/>
<rect x="34.51" y="289.00" width="4.40" height="14.20" fill="#e6fcfc"/>
<rect x="38.62" y="289.00" width="4.40" height="14.20" fill="#c8f4fc"/>
<rect x="42.72" y="289.00" width="4.40" height="14.20" fill="#c8f4fc"/>
<rect x="46.83" y="289.00" width="4.40" height="14.20" fill="#e6fcfc"/>
<rect x="50.93" y="289.00" width="4.40" height="14.20" fill="#e6fcfc"/>
<rect x="55.03" y="289.00" width="4.40" height="14.20" fill="#e6fcfc"/>
<rect x="59.14" y="289.00" width="4.40" height="14.20" fill="#fafae0"/>
<rect x="63.24" y="289.00" width="4.40" height="14.20" fill="#f09068"/>
<rect x="67.35" y="289.00" width="4.40" height="14.20" fill="#f09068"/>
<rect x="71.45" y="289.00" width="4.40" height="14.20" fill="#f09068"/>
<rect x="75.55" y="289.00" width="4.40" height="14.20" fill="#f0b080"/>
<rect x="79.66" y="289.00" width="4.40" height="14.20" fill="#f0d090"/>
<rect x="83.76" y="289.00" width="4.40" height="14.20" fill="#f8f0b8"/>
<rect x="87.87" y="289.00" width="4.40" height="14.20" fill="#f8f0b8"/>
<rect x="91.97" y="289.00" width="4.40" height="14.20" fill="#f0d090"/>
<rect x="96.08" y="289.00" width="4.40" height="14.20" fill="#f8f0b8"/>
<rect x="100.18" y="289.00" width="4.40" height="14.20" fill="#f8f0b8"/>
<rect x="104.28" y="289.00" width="4.40" height="14.20" fill="#f0d090"/>
<rect x="108.39" y="289.00" width="4.40" height="14.20" fill="#f8f0b8"/>
<rect x="112.49" y="289.00" width="4.40" height="14.20" fill="#f8f0b8"/>
<rect x="116.60" y="289.00" width="4.40" height="14.20" fill="#e6fcfc"/>
<rect x="120.70" y="289.00" width="4.40" height="14.20" fill="#e6fcfc"/>
</g></g>
<line x1="22.2" y1="205.6" x2="120.7" y2="205.6" stroke="#111" stroke-width="0.7"/>
<text x="22.7" y="148.4" font-size="4.6" font-weight="bold" font-family="Liberation Sans, sans-serif" fill="#111">E</text>
<text x="81.00" y="148.6" font-size="5.3" textLength="39.7" lengthAdjust="spacingAndGlyphs" font-weight="bold" font-family="Liberation Sans, sans-serif" fill="#111">CESM2-NUDGE</text>
<line x1="38.62" y1="289" x2="38.62" y2="290.4" stroke="#333" stroke-width="0.4"/>
<text x="38.62" y="294.4" text-anchor="middle" font-size="5.4" font-family="Liberation Sans, sans-serif" fill="#000">120W</text>
<line x1="55.03" y1="289" x2="55.03" y2="290.4" stroke="#333" stroke-width="0.4"/>
<text x="55.03" y="294.4" text-anchor="middle" font-size="5.4" font-family="Liberation Sans, sans-serif" fill="#000">60W</text>
<line x1="71.45" y1="289" x2="71.45" y2="290.4" stroke="#333" stroke-width="0.4"/>
<text x="71.45" y="294.4" text-anchor="middle" font-size="5.4" font-family="Liberation Sans, sans-serif" fill="#000">0</text>
<line x1="87.87" y1="289" x2="87.87" y2="290.4" stroke="#333" stroke-width="0.4"/>
<text x="87.87" y="294.4" text-anchor="middle" font-size="5.4" font-family="Liberation Sans, sans-serif" fill="#000">60E</text>
<line x1="104.28" y1="289" x2="104.28" y2="290.4" stroke="#333" stroke-width="0.4"/>
<text x="104.28" y="294.4" text-anchor="middle" font-size="5.4" font-family="Liberation Sans, sans-serif" fill="#000">120E</text>
<text x="71.45" y="299.6" text-anchor="middle" font-size="5.4" font-family="Liberation Sans, sans-serif" fill="#000">Longitude</text>
<clipPath id="hcF"><rect x="139.9" y="150" width="98.90" height="139.00"/></clipPath>
<filter id="hbF" x="-5%" y="-5%" width="110%" height="110%"><feGaussianBlur stdDeviation="0.9 2.4"/></filter>
<g clip-path="url(#hcF)"><g filter="url(#hbF)">
<rect x="135.78" y="136.10" width="4.42" height="14.20" fill="#f0d090"/>
<rect x="139.90" y="136.10" width="4.42" height="14.20" fill="#f0d090"/>
<rect x="144.02" y="136.10" width="4.42" height="14.20" fill="#f8f0b8"/>
<rect x="148.14" y="136.10" width="4.42" height="14.20" fill="#fafae0"/>
<rect x="152.26" y="136.10" width="4.42" height="14.20" fill="#fafae0"/>
<rect x="156.38" y="136.10" width="4.42" height="14.20" fill="#fafae0"/>
<rect x="160.50" y="136.10" width="4.42" height="14.20" fill="#f8f0b8"/>
<rect x="164.62" y="136.10" width="4.42" height="14.20" fill="#f8f0b8"/>
<rect x="168.75" y="136.10" width="4.42" height="14.20" fill="#f8f0b8"/>
<rect x="172.87" y="136.10" width="4.42" height="14.20" fill="#f8f0b8"/>
<rect x="176.99" y="136.10" width="4.42" height="14.20" fill="#f0d090"/>
<rect x="181.11" y="136.10" width="4.42" height="14.20" fill="#f0b080"/>
<rect x="185.23" y="136.10" width="4.42" height="14.20" fill="#f09068"/>
<rect x="189.35" y="136.10" width="4.42" height="14.20" fill="#f09068"/>
<rect x="193.47" y="136.10" width="4.42" height="14.20" fill="#f0b080"/>
<rect x="197.59" y="136.10" width="4.42" height="14.20" fill="#f0b080"/>
<rect x="201.71" y="136.10" width="4.42" height="14.20" fill="#f0b080"/>
<rect x="205.83" y="136.10" width="4.42" height="14.20" fill="#f09068"/>
<rect x="209.95" y="136.10" width="4.42" height="14.20" fill="#f09068"/>
<rect x="214.08" y="136.10" width="4.42" height="14.20" fill="#f0b080"/>
<rect x="218.20" y="136.10" width="4.42" height="14.20" fill="#f0b080"/>
<rect x="222.32" y="136.10" width="4.42" height="14.20" fill="#f0b080"/>
<rect x="226.44" y="136.10" width="4.42" height="14.20" fill="#f0b080"/>
<rect x="230.56" y="136.10" width="4.42" height="14.20" fill="#f0d090"/>
<rect x="234.68" y="136.10" width="4.42" height="14.20" fill="#f0d090"/>
<rect x="238.80" y="136.10" width="4.42" height="14.20" fill="#f0d090"/>
<rect x="135.78" y="150.00" width="4.42" height="14.20" fill="#f0d090"/>
<rect x="139.90" y="150.00" width="4.42" height="14.20" fill="#f0d090"/>
<rect x="144.02" y="150.00" width="4.42" height="14.20" fill="#f8f0b8"/>
<rect x="148.14" y="150.00" width="4.42" height="14.20" fill="#fafae0"/>
<rect x="152.26" y="150.00" width="4.42" height="14.20" fill="#fafae0"/>
<rect x="156.38" y="150.00" width="4.42" height="14.20" fill="#fafae0"/>
<rect x="160.50" y="150.00" width="4.42" height="14.20" fill="#f8f0b8"/>
<rect x="164.62" y="150.00" width="4.42" height="14.20" fill="#f8f0b8"/>
<rect x="168.75" y="150.00" width="4.42" height="14.20" fill="#f8f0b8"/>
<rect x="172.87" y="150.00" width="4.42" height="14.20" fill="#f8f0b8"/>
<rect x="176.99" y="150.00" width="4.42" height="14.20" fill="#f0d090"/>
<rect x="181.11" y="150.00" width="4.42" height="14.20" fill="#f0b080"/>
<rect x="185.23" y="150.00" width="4.42" height="14.20" fill="#f09068"/>
<rect x="189.35" y="150.00" width="4.42" height="14.20" fill="#f09068"/>
<rect x="193.47" y="150.00" width="4.42" height="14.20" fill="#f0b080"/>
<rect x="197.59" y="150.00" width="4.42" height="14.20" fill="#f0b080"/>
<rect x="201.71" y="150.00" width="4.42" height="14.20" fill="#f0b080"/>
<rect x="205.83" y="150.00" width="4.42" height="14.20" fill="#f09068"/>
<rect x="209.95" y="150.00" width="4.42" height="14.20" fill="#f09068"/>
<rect x="214.08" y="150.00" width="4.42" height="14.20" fill="#f0b080"/>
<rect x="218.20" y="150.00" width="4.42" height="14.20" fill="#f0b080"/>
<rect x="222.32" y="150.00" width="4.42" height="14.20" fill="#f0b080"/>
<rect x="226.44" y="150.00" width="4.42" height="14.20" fill="#f0b080"/>
<rect x="230.56" y="150.00" width="4.42" height="14.20" fill="#f0d090"/>
<rect x="234.68" y="150.00" width="4.42" height="14.20" fill="#f0d090"/>
<rect x="238.80" y="150.00" width="4.42" height="14.20" fill="#f0d090"/>
<rect x="135.78" y="163.90" width="4.42" height="14.20" fill="#f0d090"/>
<rect x="139.90" y="163.90" width="4.42" height="14.20" fill="#f0d090"/>
<rect x="144.02" y="163.90" width="4.42" height="14.20" fill="#f8f0b8"/>
<rect x="148.14" y="163.90" width="4.42" height="14.20" fill="#fafae0"/>
<rect x="152.26" y="163.90" width="4.42" height="14.20" fill="#fafae0"/>
<rect x="156.38" y="163.90" width="4.42" height="14.20" fill="#fafae0"/>
<rect x="160.50" y="163.90" width="4.42" height="14.20" fill="#f8f0b8"/>
<rect x="164.62" y="163.90" width="4.42" height="14.20" fill="#fafae0"/>
<rect x="168.75" y="163.90" width="4.42" height="14.20" fill="#f8f0b8"/>
<rect x="172.87" y="163.90" width="4.42" height="14.20" fill="#f8f0b8"/>
<rect x="176.99" y="163.90" width="4.42" height="14.20" fill="#f0d090"/>
<rect x="181.11" y="163.90" width="4.42" height="14.20" fill="#f0b080"/>
<rect x="185.23" y="163.90" width="4.42" height="14.20" fill="#f09068"/>
<rect x="189.35" y="163.90" width="4.42" height="14.20" fill="#f09068"/>
<rect x="193.47" y="163.90" width="4.42" height="14.20" fill="#f0b080"/>
<rect x="197.59" y="163.90" width="4.42" height="14.20" fill="#f0b080"/>
<rect x="201.71" y="163.90" width="4.42" height="14.20" fill="#f0b080"/>
<rect x="205.83" y="163.90" width="4.42" height="14.20" fill="#f09068"/>
<rect x="209.95" y="163.90" width="4.42" height="14.20" fill="#f09068"/>
<rect x="214.08" y="163.90" width="4.42" height="14.20" fill="#f0b080"/>
<rect x="218.20" y="163.90" width="4.42" height="14.20" fill="#f0b080"/>
<rect x="222.32" y="163.90" width="4.42" height="14.20" fill="#f0b080"/>
<rect x="226.44" y="163.90" width="4.42" height="14.20" fill="#f0b080"/>
<rect x="230.56" y="163.90" width="4.42" height="14.20" fill="#f0d090"/>
<rect x="234.68" y="163.90" width="4.42" height="14.20" fill="#f0d090"/>
<rect x="238.80" y="163.90" width="4.42" height="14.20" fill="#f0d090"/>
<rect x="135.78" y="177.80" width="4.42" height="14.20" fill="#f8f0b8"/>
<rect x="139.90" y="177.80" width="4.42" height="14.20" fill="#f8f0b8"/>
<rect x="144.02" y="177.80" width="4.42" height="14.20" fill="#f8f0b8"/>
<rect x="148.14" y="177.80" width="4.42" height="14.20" fill="#fafae0"/>
<rect x="152.26" y="177.80" width="4.42" height="14.20" fill="#fafae0"/>
<rect x="156.38" y="177.80" width="4.42" height="14.20" fill="#e6fcfc"/>
<rect x="160.50" y="177.80" width="4.42" height="14.20" fill="#fafae0"/>
<rect x="164.62" y="177.80" width="4.42" height="14.20" fill="#fafae0"/>
<rect x="168.75" y="177.80" width="4.42" height="14.20" fill="#fafae0"/>
<rect x="172.87" y="177.80" width="4.42" height="14.20" fill="#f8f0b8"/>
<rect x="176.99" y="177.80" width="4.42" height="14.20" fill="#f8f0b8"/>
<rect x="181.11" y="177.80" width="4.42" height="14.20" fill="#f0b080"/>
<rect x="185.23" y="177.80" width="4.42" height="14.20" fill="#f09068"/>
<rect x="189.35" y="177.80" width="4.42" height="14.20" fill="#f0b080"/>
<rect x="193.47" y="177.80" width="4.42" height="14.20" fill="#f0b080"/>
<rect x="197.59" y="177.80" width="4.42" height="14.20" fill="#f0d090"/>
<rect x="201.71" y="177.80" width="4.42" height="14.20" fill="#f0b080"/>
<rect x="205.83" y="177.80" width="4.42" height="14.20" fill="#f09068"/>
<rect x="209.95" y="177.80" width="4.42" height="14.20" fill="#f09068"/>
<rect x="214.08" y="177.80" width="4.42" height="14.20" fill="#f0b080"/>
<rect x="218.20" y="177.80" width="4.42" height="14.20" fill="#f0b080"/>
<rect x="222.32" y="177.80" width="4.42" height="14.20" fill="#f0b080"/>
<rect x="226.44" y="177.80" width="4.42" height="14.20" fill="#f0b080"/>
<rect x="230.56" y="177.80" width="4.42" height="14.20" fill="#f0d090"/>
<rect x="234.68" y="177.80" width="4.42" height="14.20" fill="#f0d090"/>
<rect x="238.80" y="177.80" width="4.42" height="14.20" fill="#f0d090"/>
<rect x="135.78" y="191.70" width="4.42" height="14.20" fill="#f8f0b8"/>
<rect x="139.90" y="191.70" width="4.42" height="14.20" fill="#f8f0b8"/>
<rect x="144.02" y="191.70" width="4.42" height="14.20" fill="#f8f0b8"/>
<rect x="148.14" y="191.70" width="4.42" height="14.20" fill="#fafae0"/>
<rect x="152.26" y="191.70" width="4.42" height="14.20" fill="#e6fcfc"/>
<rect x="156.38" y="191.70" width="4.42" height="14.20" fill="#c8f4fc"/>
<rect x="160.50" y="191.70" width="4.42" height="14.20" fill="#e6fcfc"/>
<rect x="164.62" y="191.70" width="4.42" height="14.20" fill="#e6fcfc"/>
<rect x="168.75" y="191.70" width="4.42" height="14.20" fill="#fafae0"/>
<rect x="172.87" y="191.70" width="4.42" height="14.20" fill="#fafae0"/>
<rect x="176.99" y="191.70" width="4.42" height="14.20" fill="#f8f0b8"/>
<rect x="181.11" y="191.70" width="4.42" height="14.20" fill="#f06a50"/>
<rect x="185.23" y="191.70" width="4.42" height="14.20" fill="#f09068"/>
<rect x="189.35" y="191.70" width="4.42" height="14.20" fill="#f0d090"/>
<rect x="193.47" y="191.70" width="4.42" height="14.20" fill="#f8f0b8"/>
<rect x="197.59" y="191.70" width="4.42" height="14.20" fill="#f0d090"/>
<rect x="201.71" y="191.70" width="4.42" height="14.20" fill="#f0d090"/>
<rect x="205.83" y="191.70" width="4.42" height="14.20" fill="#f09068"/>
<rect x="209.95" y="191.70" width="4.42" height="14.20" fill="#f09068"/>
<rect x="214.08" y="191.70" width="4.42" height="14.20" fill="#f0d090"/>
<rect x="218.20" y="191.70" width="4.42" height="14.20" fill="#f0d090"/>
<rect x="222.32" y="191.70" width="4.42" height="14.20" fill="#f0d090"/>
<rect x="226.44" y="191.70" width="4.42" height="14.20" fill="#f0d090"/>
<rect x="230.56" y="191.70" width="4.42" height="14.20" fill="#f0d090"/>
<rect x="234.68" y="191.70" width="4.42" height="14.20" fill="#f8f0b8"/>
<rect x="238.80" y="191.70" width="4.42" height="14.20" fill="#f8f0b8"/>
<rect x="135.78" y="205.60" width="4.42" height="14.20" fill="#f8f0b8"/>
<rect x="139.90" y="205.60" width="4.42" height="14.20" fill="#f8f0b8"/>
<rect x="144.02" y="205.60" width="4.42" height="14.20" fill="#f0d090"/>
<rect x="148.14" y="205.60" width="4.42" height="14.20" fill="#e6fcfc"/>
<rect x="152.26" y="205.60" width="4.42" height="14.20" fill="#c8f4fc"/>
<rect x="156.38" y="205.60" width="4.42" height="14.20" fill="#a8ecfc"/>
<rect x="160.50" y="205.60" width="4.42" height="14.20" fill="#c8f4fc"/>
<rect x="164.62" y="205.60" width="4.42" height="14.20" fill="#e6fcfc"/>
<rect x="168.75" y="205.60" width="4.42" height="14.20" fill="#e6fcfc"/>
<rect x="172.87" y="205.60" width="4.42" height="14.20" fill="#f0d090"/>
<rect x="176.99" y="205.60" width="4.42" height="14.20" fill="#f09068"/>
<rect x="181.11" y="205.60" width="4.42" height="14.20" fill="#f06a50"/>
<rect x="185.23" y="205.60" width="4.42" height="14.20" fill="#f09068"/>
<rect x="189.35" y="205.60" width="4.42" height="14.20" fill="#f0b080"/>
<rect x="193.47" y="205.60" width="4.42" height="14.20" fill="#f8f0b8"/>
<rect x="197.59" y="205.60" width="4.42" height="14.20" fill="#f0d090"/>
<rect x="201.71" y="205.60" width="4.42" height="14.20" fill="#f0b080"/>
<rect x="205.83" y="205.60" width="4.42" height="14.20" fill="#f0b080"/>
<rect x="209.95" y="205.60" width="4.42" height="14.20" fill="#f09068"/>
<rect x="214.08" y="205.60" width="4.42" height="14.20" fill="#f0d090"/>
<rect x="218.20" y="205.60" width="4.42" height="14.20" fill="#f0d090"/>
<rect x="222.32" y="205.60" width="4.42" height="14.20" fill="#f8f0b8"/>
<rect x="226.44" y="205.60" width="4.42" height="14.20" fill="#fafae0"/>
<rect x="230.56" y="205.60" width="4.42" height="14.20" fill="#f8f0b8"/>
<rect x="234.68" y="205.60" width="4.42" height="14.20" fill="#f8f0b8"/>
<rect x="238.80" y="205.60" width="4.42" height="14.20" fill="#f8f0b8"/>
<rect x="135.78" y="219.50" width="4.42" height="14.20" fill="#fafae0"/>
<rect x="139.90" y="219.50" width="4.42" height="14.20" fill="#fafae0"/>
<rect x="144.02" y="219.50" width="4.42" height="14.20" fill="#f8f0b8"/>
<rect x="148.14" y="219.50" width="4.42" height="14.20" fill="#e6fcfc"/>
<rect x="152.26" y="219.50" width="4.42" height="14.20" fill="#e6fcfc"/>
<rect x="156.38" y="219.50" width="4.42" height="14.20" fill="#fafae0"/>
<rect x="160.50" y="219.50" width="4.42" height="14.20" fill="#fafae0"/>
<rect x="164.62" y="219.50" width="4.42" height="14.20" fill="#f8f0b8"/>
<rect x="168.75" y="219.50" width="4.42" height="14.20" fill="#f8f0b8"/>
<rect x="172.87" y="219.50" width="4.42" height="14.20" fill="#f8f0b8"/>
<rect x="176.99" y="219.50" width="4.42" height="14.20" fill="#f09068"/>
<rect x="181.11" y="219.50" width="4.42" height="14.20" fill="#f06a50"/>
<rect x="185.23" y="219.50" width="4.42" height="14.20" fill="#f09068"/>
<rect x="189.35" y="219.50" width="4.42" height="14.20" fill="#f0b080"/>
<rect x="193.47" y="219.50" width="4.42" height="14.20" fill="#f0d090"/>
<rect x="197.59" y="219.50" width="4.42" height="14.20" fill="#f8f0b8"/>
<rect x="201.71" y="219.50" width="4.42" height="14.20" fill="#f0b080"/>
<rect x="205.83" y="219.50" width="4.42" height="14.20" fill="#f0b080"/>
<rect x="209.95" y="219.50" width="4.42" height="14.20" fill="#f09068"/>
<rect x="214.08" y="219.50" width="4.42" height="14.20" fill="#f0b080"/>
<rect x="218.20" y="219.50" width="4.42" height="14.20" fill="#f0d090"/>
<rect x="222.32" y="219.50" width="4.42" height="14.20" fill="#f0d090"/>
<rect x="226.44" y="219.50" width="4.42" height="14.20" fill="#f0d090"/>
<rect x="230.56" y="219.50" width="4.42" height="14.20" fill="#f8f0b8"/>
<rect x="234.68" y="219.50" width="4.42" height="14.20" fill="#f8f0b8"/>
<rect x="238.80" y="219.50" width="4.42" height="14.20" fill="#f8f0b8"/>
<rect x="135.78" y="233.40" width="4.42" height="14.20" fill="#f8f0b8"/>
<rect x="139.90" y="233.40" width="4.42" height="14.20" fill="#f8f0b8"/>
<rect x="144.02" y="233.40" width="4.42" height="14.20" fill="#e6fcfc"/>
<rect x="148.14" y="233.40" width="4.42" height="14.20" fill="#e6fcfc"/>
<rect x="152.26" y="233.40" width="4.42" height="14.20" fill="#fafae0"/>
<rect x="156.38" y="233.40" width="4.42" height="14.20" fill="#fafae0"/>
<rect x="160.50" y="233.40" width="4.42" height="14.20" fill="#f8f0b8"/>
<rect x="164.62" y="233.40" width="4.42" height="14.20" fill="#fafae0"/>
<rect x="168.75" y="233.40" width="4.42" height="14.20" fill="#fafae0"/>
<rect x="172.87" y="233.40" width="4.42" height="14.20" fill="#f0d090"/>
<rect x="176.99" y="233.40" width="4.42" height="14.20" fill="#f09068"/>
<rect x="181.11" y="233.40" width="4.42" height="14.20" fill="#f04a40"/>
<rect x="185.23" y="233.40" width="4.42" height="14.20" fill="#f09068"/>
<rect x="189.35" y="233.40" width="4.42" height="14.20" fill="#f09068"/>
<rect x="193.47" y="233.40" width="4.42" height="14.20" fill="#f0b080"/>
<rect x="197.59" y="233.40" width="4.42" height="14.20" fill="#f0d090"/>
<rect x="201.71" y="233.40" width="4.42" height="14.20" fill="#f0d090"/>
<rect x="205.83" y="233.40" width="4.42" height="14.20" fill="#f0b080"/>
<rect x="209.95" y="233.40" width="4.42" height="14.20" fill="#f0b080"/>
<rect x="214.08" y="233.40" width="4.42" height="14.20" fill="#f0d090"/>
<rect x="218.20" y="233.40" width="4.42" height="14.20" fill="#f0d090"/>
<rect x="222.32" y="233.40" width="4.42" height="14.20" fill="#f0d090"/>
<rect x="226.44" y="233.40" width="4.42" height="14.20" fill="#f0d090"/>
<rect x="230.56" y="233.40" width="4.42" height="14.20" fill="#f8f0b8"/>
<rect x="234.68" y="233.40" width="4.42" height="14.20" fill="#f8f0b8"/>
<rect x="238.80" y="233.40" width="4.42" height="14.20" fill="#f8f0b8"/>
<rect x="135.78" y="247.30" width="4.42" height="14.20" fill="#fafae0"/>
<rect x="139.90" y="247.30" width="4.42" height="14.20" fill="#fafae0"/>
<rect x="144.02" y="247.30" width="4.42" height="14.20" fill="#c8f4fc"/>
<rect x="148.14" y="247.30" width="4.42" height="14.20" fill="#e6fcfc"/>
<rect x="152.26" y="247.30" width="4.42" height="14.20" fill="#fafae0"/>
<rect x="156.38" y="247.30" width="4.42" height="14.20" fill="#f8f0b8"/>
<rect x="160.50" y="247.30" width="4.42" height="14.20" fill="#f8f0b8"/>
<rect x="164.62" y="247.30" width="4.42" height="14.20" fill="#fafae0"/>
<rect x="168.75" y="247.30" width="4.42" height="14.20" fill="#fafae0"/>
<rect x="172.87" y="247.30" width="4.42" height="14.20" fill="#f0d090"/>
<rect x="176.99" y="247.30" width="4.42" height="14.20" fill="#f09068"/>
<rect x="181.11" y="247.30" width="4.42" height="14.20" fill="#f04a40"/>
<rect x="185.23" y="247.30" width="4.42" height="14.20" fill="#f06a50"/>
<rect x="189.35" y="247.30" width="4.42" height="14.20" fill="#f09068"/>
<rect x="193.47" y="247.30" width="4.42" height="14.20" fill="#f0b080"/>
<rect x="197.59" y="247.30" width="4.42" height="14.20" fill="#f0d090"/>
<rect x="201.71" y="247.30" width="4.42" height="14.20" fill="#f0d090"/>
<rect x="205.83" y="247.30" width="4.42" height="14.20" fill="#f0b080"/>
<rect x="209.95" y="247.30" width="4.42" height="14.20" fill="#f0b080"/>
<rect x="214.08" y="247.30" width="4.42" height="14.20" fill="#f0d090"/>
<rect x="218.20" y="247.30" width="4.42" height="14.20" fill="#f0d090"/>
<rect x="222.32" y="247.30" width="4.42" height="14.20" fill="#f0d090"/>
<rect x="226.44" y="247.30" width="4.42" height="14.20" fill="#f8f0b8"/>
<rect x="230.56" y="247.30" width="4.42" height="14.20" fill="#f8f0b8"/>
<rect x="234.68" y="247.30" width="4.42" height="14.20" fill="#f8f0b8"/>
<rect x="238.80" y="247.30" width="4.42" height="14.20" fill="#f8f0b8"/>
<rect x="135.78" y="261.20" width="4.42" height="14.20" fill="#e6fcfc"/>
<rect x="139.90" y="261.20" width="4.42" height="14.20" fill="#e6fcfc"/>
<rect x="144.02" y="261.20" width="4.42" height="14.20" fill="#c8f4fc"/>
<rect x="148.14" y="261.20" width="4.42" height="14.20" fill="#c8f4fc"/>
<rect x="152.26" y="261.20" width="4.42" height="14.20" fill="#e6fcfc"/>
<rect x="156.38" y="261.20" width="4.42" height="14.20" fill="#c8f4fc"/>
<rect x="160.50" y="261.20" width="4.42" height="14.20" fill="#c8f4fc"/>
<rect x="164.62" y="261.20" width="4.42" height="14.20" fill="#e6fcfc"/>
<rect x="168.75" y="261.20" width="4.42" height="14.20" fill="#fafae0"/>
<rect x="172.87" y="261.20" width="4.42" height="14.20" fill="#fafae0"/>
<rect x="176.99" y="261.20" width="4.42" height="14.20" fill="#f8f0b8"/>
<rect x="181.11" y="261.20" width="4.42" height="14.20" fill="#f06a50"/>
<rect x="185.23" y="261.20" width="4.42" height="14.20" fill="#f06a50"/>
<rect x="189.35" y="261.20" width="4.42" height="14.20" fill="#f09068"/>
<rect x="193.47" y="261.20" width="4.42" height="14.20" fill="#f0b080"/>
<rect x="197.59" y="261.20" width="4.42" height="14.20" fill="#f0d090"/>
<rect x="201.71" y="261.20" width="4.42" height="14.20" fill="#f8f0b8"/>
<rect x="205.83" y="261.20" width="4.42" height="14.20" fill="#f0d090"/>
<rect x="209.95" y="261.20" width="4.42" height="14.20" fill="#f0b080"/>
<rect x="214.08" y="261.20" width="4.42" height="14.20" fill="#f0d090"/>
<rect x="218.20" y="261.20" width="4.42" height="14.20" fill="#f8f0b8"/>
<rect x="222.32" y="261.20" width="4.42" height="14.20" fill="#f0d090"/>
<rect x="226.44" y="261.20" width="4.42" height="14.20" fill="#f0d090"/>
<rect x="230.56" y="261.20" width="4.42" height="14.20" fill="#f0d090"/>
<rect x="234.68" y="261.20" width="4.42" height="14.20" fill="#f8f0b8"/>
<rect x="238.80" y="261.20" width="4.42" height="14.20" fill="#f8f0b8"/>
<rect x="135.78" y="275.10" width="4.42" height="14.20" fill="#e6fcfc"/>
<rect x="139.90" y="275.10" width="4.42" height="14.20" fill="#e6fcfc"/>
<rect x="144.02" y="275.10" width="4.42" height="14.20" fill="#c8f4fc"/>
<rect x="148.14" y="275.10" width="4.42" height="14.20" fill="#c8f4fc"/>
<rect x="152.26" y="275.10" width="4.42" height="14.20" fill="#e6fcfc"/>
<rect x="156.38" y="275.10" width="4.42" height="14.20" fill="#c8f4fc"/>
<rect x="160.50" y="275.10" width="4.42" height="14.20" fill="#c8f4fc"/>
<rect x="164.62" y="275.10" width="4.42" height="14.20" fill="#e6fcfc"/>
<rect x="168.75" y="275.10" width="4.42" height="14.20" fill="#e6fcfc"/>
<rect x="172.87" y="275.10" width="4.42" height="14.20" fill="#e6fcfc"/>
<rect x="176.99" y="275.10" width="4.42" height="14.20" fill="#fafae0"/>
<rect x="181.11" y="275.10" width="4.42" height="14.20" fill="#f09068"/>
<rect x="185.23" y="275.10" width="4.42" height="14.20" fill="#f09068"/>
<rect x="189.35" y="275.10" width="4.42" height="14.20" fill="#f09068"/>
<rect x="193.47" y="275.10" width="4.42" height="14.20" fill="#f0b080"/>
<rect x="197.59" y="275.10" width="4.42" height="14.20" fill="#f0d090"/>
<rect x="201.71" y="275.10" width="4.42" height="14.20" fill="#f8f0b8"/>
<rect x="205.83" y="275.10" width="4.42" height="14.20" fill="#f8f0b8"/>
<rect x="209.95" y="275.10" width="4.42" height="14.20" fill="#f0d090"/>
<rect x="214.08" y="275.10" width="4.42" height="14.20" fill="#f8f0b8"/>
<rect x="218.20" y="275.10" width="4.42" height="14.20" fill="#f8f0b8"/>
<rect x="222.32" y="275.10" width="4.42" height="14.20" fill="#f0d090"/>
<rect x="226.44" y="275.10" width="4.42" height="14.20" fill="#f8f0b8"/>
<rect x="230.56" y="275.10" width="4.42" height="14.20" fill="#f8f0b8"/>
<rect x="234.68" y="275.10" width="4.42" height="14.20" fill="#e6fcfc"/>
<rect x="238.80" y="275.10" width="4.42" height="14.20" fill="#e6fcfc"/>
<rect x="135.78" y="289.00" width="4.42" height="14.20" fill="#e6fcfc"/>
<rect x="139.90" y="289.00" width="4.42" height="14.20" fill="#e6fcfc"/>
<rect x="144.02" y="289.00" width="4.42" height="14.20" fill="#c8f4fc"/>
<rect x="148.14" y="289.00" width="4.42" height="14.20" fill="#c8f4fc"/>
<rect x="152.26" y="289.00" width="4.42" height="14.20" fill="#e6fcfc"/>
<rect x="156.38" y="289.00" width="4.42" height="14.20" fill="#c8f4fc"/>
<rect x="160.50" y="289.00" width="4.42" height="14.20" fill="#c8f4fc"/>
<rect x="164.62" y="289.00" width="4.42" height="14.20" fill="#e6fcfc"/>
<rect x="168.75" y="289.00" width="4.42" height="14.20" fill="#e6fcfc"/>
<rect x="172.87" y="289.00" width="4.42" height="14.20" fill="#e6fcfc"/>
<rect x="176.99" y="289.00" width="4.42" height="14.20" fill="#fafae0"/>
<rect x="181.11" y="289.00" width="4.42" height="14.20" fill="#f09068"/>
<rect x="185.23" y="289.00" width="4.42" height="14.20" fill="#f09068"/>
<rect x="189.35" y="289.00" width="4.42" height="14.20" fill="#f09068"/>
<rect x="193.47" y="289.00" width="4.42" height="14.20" fill="#f0b080"/>
<rect x="197.59" y="289.00" width="4.42" height="14.20" fill="#f0d090"/>
<rect x="201.71" y="289.00" width="4.42" height="14.20" fill="#f8f0b8"/>
<rect x="205.83" y="289.00" width="4.42" height="14.20" fill="#f8f0b8"/>
<rect x="209.95" y="289.00" width="4.42" height="14.20" fill="#f0d090"/>
<rect x="214.08" y="289.00" width="4.42" height="14.20" fill="#f8f0b8"/>
<rect x="218.20" y="289.00" width="4.42" height="14.20" fill="#f8f0b8"/>
<rect x="222.32" y="289.00" width="4.42" height="14.20" fill="#f0d090"/>
<rect x="226.44" y="289.00" width="4.42" height="14.20" fill="#f8f0b8"/>
<rect x="230.56" y="289.00" width="4.42" height="14.20" fill="#f8f0b8"/>
<rect x="234.68" y="289.00" width="4.42" height="14.20" fill="#e6fcfc"/>
<rect x="238.80" y="289.00" width="4.42" height="14.20" fill="#e6fcfc"/>
</g></g>
<line x1="139.9" y1="205.6" x2="238.8" y2="205.6" stroke="#111" stroke-width="0.7"/>
<text x="140.4" y="148.4" font-size="4.6" font-weight="bold" font-family="Liberation Sans, sans-serif" fill="#111">F</text>
<text x="176.30" y="148.6" font-size="5.3" textLength="62.5" lengthAdjust="spacingAndGlyphs" font-weight="bold" font-family="Liberation Sans, sans-serif" fill="#111">CESM2-FORECAST-2023</text>
<line x1="156.38" y1="289" x2="156.38" y2="290.4" stroke="#333" stroke-width="0.4"/>
<text x="156.38" y="294.4" text-anchor="middle" font-size="5.4" font-family="Liberation Sans, sans-serif" fill="#000">120W</text>
<line x1="172.87" y1="289" x2="172.87" y2="290.4" stroke="#333" stroke-width="0.4"/>
<text x="172.87" y="294.4" text-anchor="middle" font-size="5.4" font-family="Liberation Sans, sans-serif" fill="#000">60W</text>
<line x1="189.35" y1="289" x2="189.35" y2="290.4" stroke="#333" stroke-width="0.4"/>
<text x="189.35" y="294.4" text-anchor="middle" font-size="5.4" font-family="Liberation Sans, sans-serif" fill="#000">0</text>
<line x1="205.83" y1="289" x2="205.83" y2="290.4" stroke="#333" stroke-width="0.4"/>
<text x="205.83" y="294.4" text-anchor="middle" font-size="5.4" font-family="Liberation Sans, sans-serif" fill="#000">60E</text>
<line x1="222.32" y1="289" x2="222.32" y2="290.4" stroke="#333" stroke-width="0.4"/>
<text x="222.32" y="294.4" text-anchor="middle" font-size="5.4" font-family="Liberation Sans, sans-serif" fill="#000">120E</text>
<text x="189.35" y="299.6" text-anchor="middle" font-size="5.4" font-family="Liberation Sans, sans-serif" fill="#000">Longitude</text>
<line x1="20.8" y1="150.00" x2="22.2" y2="150.00" stroke="#333" stroke-width="0.4"/>
<text x="20.2" y="152.00" text-anchor="end" font-size="5.6" font-family="Liberation Sans, sans-serif" fill="#000">2023-09</text>
<line x1="138.5" y1="150.00" x2="139.9" y2="150.00" stroke="#333" stroke-width="0.4"/>
<line x1="20.8" y1="177.80" x2="22.2" y2="177.80" stroke="#333" stroke-width="0.4"/>
<text x="20.2" y="179.80" text-anchor="end" font-size="5.6" font-family="Liberation Sans, sans-serif" fill="#000">2023-05</text>
<line x1="138.5" y1="177.80" x2="139.9" y2="177.80" stroke="#333" stroke-width="0.4"/>
<line x1="20.8" y1="205.60" x2="22.2" y2="205.60" stroke="#333" stroke-width="0.4"/>
<text x="20.2" y="207.60" text-anchor="end" font-size="5.6" font-family="Liberation Sans, sans-serif" fill="#000">2023-01</text>
<line x1="138.5" y1="205.60" x2="139.9" y2="205.60" stroke="#333" stroke-width="0.4"/>
<line x1="20.8" y1="233.40" x2="22.2" y2="233.40" stroke="#333" stroke-width="0.4"/>
<text x="20.2" y="235.40" text-anchor="end" font-size="5.6" font-family="Liberation Sans, sans-serif" fill="#000">2022-09</text>
<line x1="138.5" y1="233.40" x2="139.9" y2="233.40" stroke="#333" stroke-width="0.4"/>
<line x1="20.8" y1="261.20" x2="22.2" y2="261.20" stroke="#333" stroke-width="0.4"/>
<text x="20.2" y="263.20" text-anchor="end" font-size="5.6" font-family="Liberation Sans, sans-serif" fill="#000">2022-05</text>
<line x1="138.5" y1="261.20" x2="139.9" y2="261.20" stroke="#333" stroke-width="0.4"/>
<line x1="20.8" y1="289.00" x2="22.2" y2="289.00" stroke="#333" stroke-width="0.4"/>
<text x="20.2" y="291.00" text-anchor="end" font-size="5.6" font-family="Liberation Sans, sans-serif" fill="#000">2022-01</text>
<line x1="138.5" y1="289.00" x2="139.9" y2="289.00" stroke="#333" stroke-width="0.4"/>
<rect x="252.8" y="156.25" width="6.4" height="6.62" fill="#c8182c"/>
<rect x="252.8" y="162.57" width="6.4" height="6.62" fill="#e02530"/>
<rect x="252.8" y="168.90" width="6.4" height="6.62" fill="#f02c30"/>
<rect x="252.8" y="175.22" width="6.4" height="6.62" fill="#f04a40"/>
<rect x="252.8" y="181.55" width="6.4" height="6.62" fill="#ef5a48"/>
<rect x="252.8" y="187.88" width="6.4" height="6.62" fill="#f09068"/>
<rect x="252.8" y="194.20" width="6.4" height="6.62" fill="#f0b080"/>
<rect x="252.8" y="200.53" width="6.4" height="6.62" fill="#f0d090"/>
<rect x="252.8" y="206.85" width="6.4" height="6.62" fill="#f8f0b8"/>
<rect x="252.8" y="213.18" width="6.4" height="6.62" fill="#fafae0"/>
<rect x="252.8" y="219.50" width="6.4" height="6.62" fill="#e8fcfc"/>
<rect x="252.8" y="225.82" width="6.4" height="6.62" fill="#c8f4fc"/>
<rect x="252.8" y="232.15" width="6.4" height="6.62" fill="#a8ecfc"/>
<rect x="252.8" y="238.48" width="6.4" height="6.62" fill="#90dcfc"/>
<rect x="252.8" y="244.80" width="6.4" height="6.62" fill="#80c4fc"/>
<rect x="252.8" y="251.12" width="6.4" height="6.62" fill="#68a8fc"/>
<rect x="252.8" y="257.45" width="6.4" height="6.62" fill="#5080f8"/>
<rect x="252.8" y="263.77" width="6.4" height="6.62" fill="#3050f0"/>
<rect x="252.8" y="270.10" width="6.4" height="6.62" fill="#2010ee"/>
<rect x="252.8" y="276.43" width="6.4" height="6.62" fill="#2000ee"/>
<path d="M252.8,156.45 L256.0,150.45 L259.2,156.45 Z" fill="#b01030"/>
<path d="M252.8,282.55 L256.0,288.55 L259.2,282.55 Z" fill="#2000e8"/>
<text x="256" y="148.8" text-anchor="middle" font-size="5.2" font-family="Liberation Sans, sans-serif" fill="#000">SST [K]</text>
<line x1="259.2" y1="162.57" x2="260.2" y2="162.57" stroke="#888" stroke-width="0.3"/>
<text x="260.5" y="164.57" font-size="5.6" font-family="Liberation Sans, sans-serif" fill="#000">2.25</text>
<line x1="259.2" y1="181.55" x2="260.2" y2="181.55" stroke="#888" stroke-width="0.3"/>
<text x="260.5" y="183.55" font-size="5.6" font-family="Liberation Sans, sans-serif" fill="#000">1.50</text>
<line x1="259.2" y1="200.53" x2="260.2" y2="200.53" stroke="#888" stroke-width="0.3"/>
<text x="260.5" y="202.53" font-size="5.6" font-family="Liberation Sans, sans-serif" fill="#000">0.75</text>
<line x1="259.2" y1="219.50" x2="260.2" y2="219.50" stroke="#888" stroke-width="0.3"/>
<text x="260.5" y="221.50" font-size="5.6" font-family="Liberation Sans, sans-serif" fill="#000">0.00</text>
<line x1="259.2" y1="238.47" x2="260.2" y2="238.47" stroke="#888" stroke-width="0.3"/>
<text x="260.5" y="240.47" font-size="5.6" font-family="Liberation Sans, sans-serif" fill="#000">−0.75</text>
<line x1="259.2" y1="257.45" x2="260.2" y2="257.45" stroke="#888" stroke-width="0.3"/>
<text x="260.5" y="259.45" font-size="5.6" font-family="Liberation Sans, sans-serif" fill="#000">−1.50</text>
<line x1="259.2" y1="276.43" x2="260.2" y2="276.43" stroke="#888" stroke-width="0.3"/>
<text x="260.5" y="278.43" font-size="5.6" font-family="Liberation Sans, sans-serif" fill="#000">−2.25</text>
<text transform="translate(284.0,214.3) rotate(-90)" text-anchor="middle" font-size="5.7" font-weight="bold" font-family="Liberation Sans, sans-serif" fill="#111">Sea Ice Area Anomaly (10<tspan font-size="3.6" dy="-2">6</tspan><tspan dy="2"> km</tspan><tspan font-size="3.6" dy="-2">2</tspan><tspan dy="2">)</tspan></text>
<line x1="300" y1="155.40" x2="624.6" y2="155.40" stroke="#e6e6e6" stroke-width="0.5"/>
<text x="298.2" y="157.70" text-anchor="end" font-size="5.2" font-family="Liberation Sans, sans-serif" fill="#111">0</text>
<line x1="300" y1="166.40" x2="624.6" y2="166.40" stroke="#e6e6e6" stroke-width="0.5"/>
<text x="298.2" y="168.70" text-anchor="end" font-size="5.2" font-family="Liberation Sans, sans-serif" fill="#111">−1</text>
<line x1="300" y1="177.40" x2="624.6" y2="177.40" stroke="#e6e6e6" stroke-width="0.5"/>
<text x="298.2" y="179.70" text-anchor="end" font-size="5.2" font-family="Liberation Sans, sans-serif" fill="#111">−2</text>
<line x1="300" y1="188.40" x2="624.6" y2="188.40" stroke="#e6e6e6" stroke-width="0.5"/>
<text x="298.2" y="190.70" text-anchor="end" font-size="5.2" font-family="Liberation Sans, sans-serif" fill="#111">−3</text>
<line x1="317.50" y1="150.2" x2="317.50" y2="188.40" stroke="#e6e6e6" stroke-width="0.5"/>
<line x1="353.66" y1="150.2" x2="353.66" y2="188.40" stroke="#e6e6e6" stroke-width="0.5"/>
<line x1="389.82" y1="150.2" x2="389.82" y2="188.40" stroke="#e6e6e6" stroke-width="0.5"/>
<line x1="425.98" y1="150.2" x2="425.98" y2="188.40" stroke="#e6e6e6" stroke-width="0.5"/>
<line x1="462.14" y1="150.2" x2="462.14" y2="188.40" stroke="#e6e6e6" stroke-width="0.5"/>
<line x1="498.30" y1="150.2" x2="498.30" y2="188.40" stroke="#e6e6e6" stroke-width="0.5"/>
<line x1="534.46" y1="150.2" x2="534.46" y2="188.40" stroke="#e6e6e6" stroke-width="0.5"/>
<line x1="570.62" y1="150.2" x2="570.62" y2="188.40" stroke="#e6e6e6" stroke-width="0.5"/>
<line x1="606.78" y1="150.2" x2="606.78" y2="188.40" stroke="#e6e6e6" stroke-width="0.5"/>
<rect x="300" y="150.2" width="324.6" height="38.20" fill="none" stroke="#e0e0e0" stroke-width="0.5"/>
<text x="299.8" y="149.30" font-size="6.2" font-weight="bold" font-family="Liberation Sans, sans-serif" fill="#111">G</text>
<text x="590.10" y="149.00" font-size="4.8" textLength="34.3" lengthAdjust="spacingAndGlyphs" font-family="Liberation Sans, sans-serif" fill="#111">CESM2-NUDGE</text>
<rect x="308.40" y="155.40" width="18.2" height="2.40" fill="#d1e5f0"/>
<rect x="308.40" y="157.80" width="18.2" height="1.20" fill="#a8cfe6"/>
<rect x="308.40" y="159.00" width="18.2" height="2.40" fill="#fddbc7"/>
<rect x="308.40" y="161.40" width="18.2" height="1.50" fill="#ef8a62"/>
<rect x="308.40" y="162.90" width="18.2" height="1.20" fill="#e4603e"/>
<rect x="344.56" y="154.90" width="18.2" height="1.30" fill="#d1e5f0"/>
<rect x="344.56" y="156.60" width="18.2" height="1.20" fill="#fddbc7"/>
<rect x="380.72" y="154.90" width="18.2" height="1.50" fill="#67a9cf"/>
<rect x="380.72" y="157.00" width="18.2" height="1.50" fill="#fddbc7"/>
<rect x="416.88" y="155.40" width="18.2" height="2.20" fill="#d1e5f0"/>
<rect x="416.88" y="157.60" width="18.2" height="1.10" fill="#67a9cf"/>
<rect x="416.88" y="158.70" width="18.2" height="6.50" fill="#fddbc7"/>
<rect x="416.88" y="165.20" width="18.2" height="1.20" fill="#ef8a62"/>
<rect x="416.88" y="166.40" width="18.2" height="1.40" fill="#b2182b"/>
<rect x="453.04" y="154.10" width="18.2" height="1.30" fill="#2166ac"/>
<rect x="453.04" y="155.40" width="18.2" height="7.50" fill="#d1e5f0"/>
<rect x="453.04" y="162.90" width="18.2" height="8.70" fill="#fddbc7"/>
<rect x="453.04" y="171.60" width="18.2" height="2.30" fill="#ef8a62"/>
<rect x="453.04" y="173.90" width="18.2" height="2.70" fill="#b2182b"/>
<rect x="453.04" y="176.60" width="18.2" height="0.80" fill="#8c0c22"/>
<rect x="489.20" y="154.30" width="18.2" height="1.10" fill="#2166ac"/>
<rect x="489.20" y="155.40" width="18.2" height="8.70" fill="#d1e5f0"/>
<rect x="489.20" y="164.10" width="18.2" height="8.80" fill="#fddbc7"/>
<rect x="489.20" y="172.90" width="18.2" height="2.20" fill="#ef8a62"/>
<rect x="489.20" y="175.10" width="18.2" height="3.50" fill="#b2182b"/>
<rect x="489.20" y="178.60" width="18.2" height="1.80" fill="#8c0c22"/>
<rect x="525.36" y="154.60" width="18.2" height="0.80" fill="#2166ac"/>
<rect x="525.36" y="155.40" width="18.2" height="11.20" fill="#d1e5f0"/>
<rect x="525.36" y="166.60" width="18.2" height="0.80" fill="#67a9cf"/>
<rect x="525.36" y="167.40" width="18.2" height="8.60" fill="#fddbc7"/>
<rect x="525.36" y="176.00" width="18.2" height="3.90" fill="#ef8a62"/>
<rect x="525.36" y="179.90" width="18.2" height="4.00" fill="#b2182b"/>
<rect x="525.36" y="183.90" width="18.2" height="1.20" fill="#8c0c22"/>
<rect x="561.52" y="154.10" width="18.2" height="1.30" fill="#2166ac"/>
<rect x="561.52" y="155.40" width="18.2" height="12.40" fill="#d1e5f0"/>
<rect x="561.52" y="167.80" width="18.2" height="9.10" fill="#fddbc7"/>
<rect x="561.52" y="176.90" width="18.2" height="4.00" fill="#ef8a62"/>
<rect x="561.52" y="180.90" width="18.2" height="3.30" fill="#b2182b"/>
<rect x="561.52" y="184.20" width="18.2" height="1.50" fill="#8c0c22"/>
<rect x="597.68" y="154.10" width="18.2" height="1.30" fill="#2166ac"/>
<rect x="597.68" y="155.40" width="18.2" height="12.50" fill="#d1e5f0"/>
<rect x="597.68" y="167.90" width="18.2" height="0.90" fill="#67a9cf"/>
<rect x="597.68" y="168.80" width="18.2" height="5.80" fill="#fddbc7"/>
<rect x="597.68" y="174.60" width="18.2" height="4.60" fill="#ef8a62"/>
<rect x="597.68" y="179.20" width="18.2" height="3.20" fill="#b2182b"/>
<rect x="597.68" y="182.40" width="18.2" height="1.50" fill="#8c0c22"/>
<polyline points="317.50,163.80 353.66,157.10 389.82,158.20 425.98,167.30 462.14,176.00 498.30,179.20 534.46,183.60 570.62,183.90 606.78,182.10" fill="none" stroke="#111" stroke-width="0.75"/>
<rect x="308.40" y="201.40" width="18.2" height="2.40" fill="#d1e5f0"/>
<rect x="308.40" y="203.80" width="18.2" height="1.20" fill="#a8cfe6"/>
<rect x="308.40" y="205.00" width="18.2" height="2.40" fill="#fddbc7"/>
<rect x="308.40" y="207.40" width="18.2" height="1.50" fill="#ef8a62"/>
<rect x="308.40" y="208.90" width="18.2" height="1.20" fill="#e4603e"/>
<rect x="344.56" y="200.90" width="18.2" height="1.30" fill="#d1e5f0"/>
<rect x="344.56" y="202.60" width="18.2" height="1.20" fill="#fddbc7"/>
<rect x="380.72" y="200.90" width="18.2" height="1.50" fill="#67a9cf"/>
<rect x="380.72" y="203.00" width="18.2" height="1.50" fill="#fddbc7"/>
<rect x="416.88" y="201.40" width="18.2" height="3.50" fill="#d1e5f0"/>
<rect x="416.88" y="204.90" width="18.2" height="1.30" fill="#67a9cf"/>
<rect x="416.88" y="206.20" width="18.2" height="3.40" fill="#fddbc7"/>
<rect x="416.88" y="209.60" width="18.2" height="1.80" fill="#ef8a62"/>
<rect x="416.88" y="211.40" width="18.2" height="1.50" fill="#b2182b"/>
<rect x="453.04" y="201.40" width="18.2" height="7.50" fill="#d1e5f0"/>
<rect x="453.04" y="208.90" width="18.2" height="1.20" fill="#67a9cf"/>
<rect x="453.04" y="210.10" width="18.2" height="4.60" fill="#fddbc7"/>
<rect x="453.04" y="214.70" width="18.2" height="2.90" fill="#ef8a62"/>
<rect x="453.04" y="217.60" width="18.2" height="3.50" fill="#b2182b"/>
<rect x="489.20" y="201.40" width="18.2" height="7.50" fill="#d1e5f0"/>
<rect x="489.20" y="208.90" width="18.2" height="1.20" fill="#67a9cf"/>
<rect x="489.20" y="210.10" width="18.2" height="4.60" fill="#fddbc7"/>
<rect x="489.20" y="214.70" width="18.2" height="3.80" fill="#ef8a62"/>
<rect x="489.20" y="218.50" width="18.2" height="3.50" fill="#b2182b"/>
<rect x="525.36" y="201.40" width="18.2" height="6.30" fill="#d1e5f0"/>
<rect x="525.36" y="207.70" width="18.2" height="1.00" fill="#67a9cf"/>
<rect x="525.36" y="208.70" width="18.2" height="4.90" fill="#fddbc7"/>
<rect x="525.36" y="213.60" width="18.2" height="4.00" fill="#ef8a62"/>
<rect x="525.36" y="217.60" width="18.2" height="4.10" fill="#b2182b"/>
<rect x="561.52" y="201.40" width="18.2" height="5.20" fill="#d1e5f0"/>
<rect x="561.52" y="206.60" width="18.2" height="1.10" fill="#67a9cf"/>
<rect x="561.52" y="207.70" width="18.2" height="4.20" fill="#fddbc7"/>
<rect x="561.52" y="211.90" width="18.2" height="4.50" fill="#ef8a62"/>
<rect x="561.52" y="216.40" width="18.2" height="3.90" fill="#b2182b"/>
<rect x="597.68" y="201.40" width="18.2" height="4.50" fill="#d1e5f0"/>
<rect x="597.68" y="205.90" width="18.2" height="4.70" fill="#fddbc7"/>
<rect x="597.68" y="210.60" width="18.2" height="4.40" fill="#ef8a62"/>
<rect x="597.68" y="215.00" width="18.2" height="4.40" fill="#b2182b"/>
<polyline points="317.50,209.80 353.66,203.68 389.82,202.51 425.98,212.94 462.14,217.83 498.30,221.35 534.46,224.14 570.62,223.97 606.78,219.24" fill="none" stroke="#999" stroke-width="0.4" opacity="0.45"/>
<polyline points="317.50,209.80 353.66,203.35 389.82,205.88 425.98,210.52 462.14,222.26 498.30,222.61 534.46,221.39 570.62,219.68 606.78,214.05" fill="none" stroke="#999" stroke-width="0.4" opacity="0.45"/>
<polyline points="317.50,209.80 353.66,202.91 389.82,204.84 425.98,211.33 462.14,224.41 498.30,223.36 534.46,223.02 570.62,217.78 606.78,217.75" fill="none" stroke="#999" stroke-width="0.4" opacity="0.45"/>
<polyline points="317.50,209.80 353.66,202.57 389.82,202.77 425.98,211.08 462.14,217.40 498.30,224.66 534.46,223.25 570.62,217.86 606.78,222.49" fill="none" stroke="#999" stroke-width="0.4" opacity="0.45"/>
<polyline points="317.50,209.80 353.66,202.50 389.82,206.06 425.98,210.29 462.14,218.46 498.30,220.94 534.46,224.98 570.62,219.06 606.78,219.01" fill="none" stroke="#999" stroke-width="0.4" opacity="0.45"/>
<polyline points="317.50,209.80 353.66,202.14 389.82,203.67 425.98,212.27 462.14,223.44 498.30,224.20 534.46,218.52 570.62,219.86 606.78,215.42" fill="none" stroke="#999" stroke-width="0.4" opacity="0.45"/>
<polyline points="317.50,209.80 353.66,202.42 389.82,206.44 425.98,212.65 462.14,224.04 498.30,220.31 534.46,225.79 570.62,222.77 606.78,215.24" fill="none" stroke="#999" stroke-width="0.4" opacity="0.45"/>
<polyline points="317.50,209.80 353.66,201.64 389.82,206.54 425.98,210.77 462.14,218.45 498.30,222.00 534.46,217.56 570.62,222.47 606.78,220.70" fill="none" stroke="#999" stroke-width="0.4" opacity="0.45"/>
<polyline points="317.50,209.80 353.66,204.30 389.82,204.33 425.98,211.51 462.14,220.92 498.30,223.79 534.46,226.08 570.62,221.25 606.78,216.03" fill="none" stroke="#999" stroke-width="0.4" opacity="0.45"/>
<polyline points="317.50,209.80 353.66,202.92 389.82,204.04 425.98,210.94 462.14,221.79 498.30,219.45 534.46,224.59 570.62,219.58 606.78,219.99" fill="none" stroke="#999" stroke-width="0.4" opacity="0.45"/>
<polyline points="317.50,209.80 353.66,203.20 389.82,204.30 425.98,211.50 462.14,220.60 498.30,221.70 534.46,221.70 570.62,220.30 606.78,218.50" fill="none" stroke="#111" stroke-width="0.75"/>
<rect x="308.40" y="247.60" width="18.2" height="0.40" fill="#ef8a62"/>
<rect x="344.56" y="247.20" width="18.2" height="0.40" fill="#d1e5f0"/>
<rect x="380.72" y="247.00" width="18.2" height="0.60" fill="#67a9cf"/>
<rect x="416.88" y="245.90" width="18.2" height="1.20" fill="#67a9cf"/>
<rect x="416.88" y="248.50" width="18.2" height="2.10" fill="#fddbc7"/>
<rect x="453.04" y="244.10" width="18.2" height="0.90" fill="#ef8a62"/>
<rect x="453.04" y="245.00" width="18.2" height="2.10" fill="#67a9cf"/>
<rect x="453.04" y="249.40" width="18.2" height="3.00" fill="#fddbc7"/>
<rect x="489.20" y="244.60" width="18.2" height="0.80" fill="#ef8a62"/>
<rect x="489.20" y="245.40" width="18.2" height="2.00" fill="#67a9cf"/>
<rect x="489.20" y="248.20" width="18.2" height="3.60" fill="#fddbc7"/>
<rect x="489.20" y="252.60" width="18.2" height="1.00" fill="#b2182b"/>
<rect x="525.36" y="245.90" width="18.2" height="0.90" fill="#2166ac"/>
<rect x="525.36" y="246.80" width="18.2" height="6.10" fill="#d1e5f0"/>
<rect x="525.36" y="252.90" width="18.2" height="2.60" fill="#fddbc7"/>
<rect x="525.36" y="255.50" width="18.2" height="1.80" fill="#b2182b"/>
<rect x="561.52" y="245.70" width="18.2" height="1.40" fill="#2166ac"/>
<rect x="561.52" y="247.10" width="18.2" height="7.50" fill="#d1e5f0"/>
<rect x="561.52" y="254.60" width="18.2" height="1.40" fill="#fddbc7"/>
<rect x="561.52" y="256.00" width="18.2" height="2.70" fill="#ef8a62"/>
<rect x="597.68" y="245.40" width="18.2" height="0.80" fill="#fddbc7"/>
<rect x="597.68" y="246.20" width="18.2" height="0.90" fill="#2166ac"/>
<rect x="597.68" y="247.10" width="18.2" height="8.40" fill="#d1e5f0"/>
<rect x="597.68" y="255.50" width="18.2" height="0.70" fill="#67a9cf"/>
<rect x="597.68" y="256.20" width="18.2" height="2.50" fill="#fddbc7"/>
<polyline points="317.50,247.60 353.66,247.48 389.82,247.70 425.98,250.65 462.14,251.18 498.30,252.45 534.46,259.44 570.62,254.47 606.78,259.54" fill="none" stroke="#999" stroke-width="0.4" opacity="0.45"/>
<polyline points="317.50,247.60 353.66,247.58 389.82,248.81 425.98,250.27 462.14,251.13 498.30,254.39 534.46,251.22 570.62,255.76 606.78,259.64" fill="none" stroke="#999" stroke-width="0.4" opacity="0.45"/>
<polyline points="317.50,247.60 353.66,247.35 389.82,247.37 425.98,248.66 462.14,250.24 498.30,249.67 534.46,259.43 570.62,257.73 606.78,256.67" fill="none" stroke="#999" stroke-width="0.4" opacity="0.45"/>
<polyline points="317.50,247.60 353.66,247.22 389.82,247.73 425.98,247.96 462.14,249.76 498.30,251.38 534.46,257.63 570.62,260.06 606.78,251.98" fill="none" stroke="#999" stroke-width="0.4" opacity="0.45"/>
<polyline points="317.50,247.60 353.66,247.76 389.82,246.94 425.98,248.35 462.14,250.92 498.30,252.52 534.46,252.95 570.62,258.68 606.78,258.31" fill="none" stroke="#999" stroke-width="0.4" opacity="0.45"/>
<polyline points="317.50,247.60 353.66,247.61 389.82,247.66 425.98,249.17 462.14,250.99 498.30,253.33 534.46,258.22 570.62,253.53 606.78,253.62" fill="none" stroke="#999" stroke-width="0.4" opacity="0.45"/>
<polyline points="317.50,247.60 353.66,247.08 389.82,248.46 425.98,250.46 462.14,249.90 498.30,253.58 534.46,258.13 570.62,259.65 606.78,258.83" fill="none" stroke="#999" stroke-width="0.4" opacity="0.45"/>
<polyline points="317.50,247.60 353.66,247.70 389.82,247.56 425.98,249.53 462.14,249.43 498.30,251.65 534.46,254.41 570.62,256.38 606.78,251.91" fill="none" stroke="#999" stroke-width="0.4" opacity="0.45"/>
<polyline points="317.50,247.60 353.66,247.40 389.82,248.70 425.98,249.93 462.14,248.82 498.30,251.57 534.46,257.80 570.62,252.65 606.78,259.68" fill="none" stroke="#999" stroke-width="0.4" opacity="0.45"/>
<polyline points="317.50,247.60 353.66,247.57 389.82,248.03 425.98,250.80 462.14,249.93 498.30,250.99 534.46,252.62 570.62,254.40 606.78,254.75" fill="none" stroke="#999" stroke-width="0.4" opacity="0.45"/>
<polyline points="317.50,247.60 353.66,247.40 389.82,247.90 425.98,249.20 462.14,250.60 498.30,252.30 534.46,255.50 570.62,256.40 606.78,256.40" fill="none" stroke="#111" stroke-width="0.75"/>
<line x1="317.5" y1="155.4" x2="624.6" y2="155.4" stroke="#6a6a6a" stroke-width="1.1" stroke-dasharray="2.4,1.6"/>
<line x1="300" y1="201.40" x2="624.6" y2="201.40" stroke="#e6e6e6" stroke-width="0.5"/>
<text x="298.2" y="203.70" text-anchor="end" font-size="5.2" font-family="Liberation Sans, sans-serif" fill="#111">0</text>
<line x1="300" y1="212.40" x2="624.6" y2="212.40" stroke="#e6e6e6" stroke-width="0.5"/>
<text x="298.2" y="214.70" text-anchor="end" font-size="5.2" font-family="Liberation Sans, sans-serif" fill="#111">−1</text>
<line x1="300" y1="223.40" x2="624.6" y2="223.40" stroke="#e6e6e6" stroke-width="0.5"/>
<text x="298.2" y="225.70" text-anchor="end" font-size="5.2" font-family="Liberation Sans, sans-serif" fill="#111">−2</text>
<line x1="300" y1="234.40" x2="624.6" y2="234.40" stroke="#e6e6e6" stroke-width="0.5"/>
<text x="298.2" y="236.70" text-anchor="end" font-size="5.2" font-family="Liberation Sans, sans-serif" fill="#111">−3</text>
<line x1="317.50" y1="196" x2="317.50" y2="234.40" stroke="#e6e6e6" stroke-width="0.5"/>
<line x1="353.66" y1="196" x2="353.66" y2="234.40" stroke="#e6e6e6" stroke-width="0.5"/>
<line x1="389.82" y1="196" x2="389.82" y2="234.40" stroke="#e6e6e6" stroke-width="0.5"/>
<line x1="425.98" y1="196" x2="425.98" y2="234.40" stroke="#e6e6e6" stroke-width="0.5"/>
<line x1="462.14" y1="196" x2="462.14" y2="234.40" stroke="#e6e6e6" stroke-width="0.5"/>
<line x1="498.30" y1="196" x2="498.30" y2="234.40" stroke="#e6e6e6" stroke-width="0.5"/>
<line x1="534.46" y1="196" x2="534.46" y2="234.40" stroke="#e6e6e6" stroke-width="0.5"/>
<line x1="570.62" y1="196" x2="570.62" y2="234.40" stroke="#e6e6e6" stroke-width="0.5"/>
<line x1="606.78" y1="196" x2="606.78" y2="234.40" stroke="#e6e6e6" stroke-width="0.5"/>
<rect x="300" y="196" width="324.6" height="38.40" fill="none" stroke="#e0e0e0" stroke-width="0.5"/>
<text x="299.8" y="195.10" font-size="6.2" font-weight="bold" font-family="Liberation Sans, sans-serif" fill="#111">H</text>
<text x="569.10" y="194.80" font-size="4.8" textLength="55.3" lengthAdjust="spacingAndGlyphs" font-family="Liberation Sans, sans-serif" fill="#111">CESM2-FORECAST-2023</text>

<line x1="317.5" y1="201.4" x2="624.6" y2="201.4" stroke="#6a6a6a" stroke-width="1.1" stroke-dasharray="2.4,1.6"/>
<line x1="300" y1="247.60" x2="624.6" y2="247.60" stroke="#e6e6e6" stroke-width="0.5"/>
<text x="298.2" y="249.90" text-anchor="end" font-size="5.2" font-family="Liberation Sans, sans-serif" fill="#111">0</text>
<line x1="300" y1="258.60" x2="624.6" y2="258.60" stroke="#e6e6e6" stroke-width="0.5"/>
<text x="298.2" y="260.90" text-anchor="end" font-size="5.2" font-family="Liberation Sans, sans-serif" fill="#111">−1</text>
<line x1="300" y1="269.60" x2="624.6" y2="269.60" stroke="#e6e6e6" stroke-width="0.5"/>
<text x="298.2" y="271.90" text-anchor="end" font-size="5.2" font-family="Liberation Sans, sans-serif" fill="#111">−2</text>
<line x1="300" y1="280.60" x2="624.6" y2="280.60" stroke="#e6e6e6" stroke-width="0.5"/>
<text x="298.2" y="282.90" text-anchor="end" font-size="5.2" font-family="Liberation Sans, sans-serif" fill="#111">−3</text>
<line x1="317.50" y1="242.3" x2="317.50" y2="280.60" stroke="#e6e6e6" stroke-width="0.5"/>
<line x1="353.66" y1="242.3" x2="353.66" y2="280.60" stroke="#e6e6e6" stroke-width="0.5"/>
<line x1="389.82" y1="242.3" x2="389.82" y2="280.60" stroke="#e6e6e6" stroke-width="0.5"/>
<line x1="425.98" y1="242.3" x2="425.98" y2="280.60" stroke="#e6e6e6" stroke-width="0.5"/>
<line x1="462.14" y1="242.3" x2="462.14" y2="280.60" stroke="#e6e6e6" stroke-width="0.5"/>
<line x1="498.30" y1="242.3" x2="498.30" y2="280.60" stroke="#e6e6e6" stroke-width="0.5"/>
<line x1="534.46" y1="242.3" x2="534.46" y2="280.60" stroke="#e6e6e6" stroke-width="0.5"/>
<line x1="570.62" y1="242.3" x2="570.62" y2="280.60" stroke="#e6e6e6" stroke-width="0.5"/>
<line x1="606.78" y1="242.3" x2="606.78" y2="280.60" stroke="#e6e6e6" stroke-width="0.5"/>
<rect x="300" y="242.3" width="324.6" height="38.30" fill="none" stroke="#e0e0e0" stroke-width="0.5"/>
<text x="299.8" y="241.40" font-size="6.2" font-weight="bold" font-family="Liberation Sans, sans-serif" fill="#111">I</text>
<text x="583.30" y="241.10" font-size="4.8" textLength="41.1" lengthAdjust="spacingAndGlyphs" font-family="Liberation Sans, sans-serif" fill="#111">FORECAST-ERROR</text>

<line x1="317.5" y1="247.6" x2="624.6" y2="247.6" stroke="#6a6a6a" stroke-width="1.1" stroke-dasharray="2.4,1.6"/>
<text transform="translate(317.50,290.4) rotate(-45)" text-anchor="middle" dy="1.9" font-size="5.6" font-family="Liberation Sans, sans-serif" fill="#111">2023-01</text>
<text transform="translate(353.66,290.4) rotate(-45)" text-anchor="middle" dy="1.9" font-size="5.6" font-family="Liberation Sans, sans-serif" fill="#111">2023-02</text>
<text transform="translate(389.82,290.4) rotate(-45)" text-anchor="middle" dy="1.9" font-size="5.6" font-family="Liberation Sans, sans-serif" fill="#111">2023-03</text>
<text transform="translate(425.98,290.4) rotate(-45)" text-anchor="middle" dy="1.9" font-size="5.6" font-family="Liberation Sans, sans-serif" fill="#111">2023-04</text>
<text transform="translate(462.14,290.4) rotate(-45)" text-anchor="middle" dy="1.9" font-size="5.6" font-family="Liberation Sans, sans-serif" fill="#111">2023-05</text>
<text transform="translate(498.30,290.4) rotate(-45)" text-anchor="middle" dy="1.9" font-size="5.6" font-family="Liberation Sans, sans-serif" fill="#111">2023-06</text>
<text transform="translate(534.46,290.4) rotate(-45)" text-anchor="middle" dy="1.9" font-size="5.6" font-family="Liberation Sans, sans-serif" fill="#111">2023-07</text>
<text transform="translate(570.62,290.4) rotate(-45)" text-anchor="middle" dy="1.9" font-size="5.6" font-family="Liberation Sans, sans-serif" fill="#111">2023-08</text>
<text transform="translate(606.78,290.4) rotate(-45)" text-anchor="middle" dy="1.9" font-size="5.6" font-family="Liberation Sans, sans-serif" fill="#111">2023-09</text>
<rect x="628.6" y="223.20" width="9.8" height="3.2" fill="#d1e5f0"/>
<text x="642.2" y="226.50" font-size="5.4" font-family="Liberation Sans, sans-serif" fill="#111">Ross</text>
<rect x="628.6" y="230.10" width="9.8" height="3.2" fill="#67a9cf"/>
<text x="642.2" y="233.40" font-size="5.4" font-family="Liberation Sans, sans-serif" fill="#111">Amundsen</text>
<rect x="628.6" y="237.00" width="9.8" height="3.2" fill="#2166ac"/>
<text x="642.2" y="240.30" font-size="5.4" font-family="Liberation Sans, sans-serif" fill="#111">Bellingshausen</text>
<rect x="628.6" y="243.90" width="9.8" height="3.2" fill="#fddbc7"/>
<text x="642.2" y="247.20" font-size="5.4" font-family="Liberation Sans, sans-serif" fill="#111">Weddell</text>
<rect x="628.6" y="250.80" width="9.8" height="3.2" fill="#ef8a62"/>
<text x="642.2" y="254.10" font-size="5.4" font-family="Liberation Sans, sans-serif" fill="#111">South Indian</text>
<rect x="628.6" y="257.70" width="9.8" height="3.2" fill="#b2182b"/>
<text x="642.2" y="261.00" font-size="5.4" font-family="Liberation Sans, sans-serif" fill="#111">South West Pacific</text>
</svg></body></html>
